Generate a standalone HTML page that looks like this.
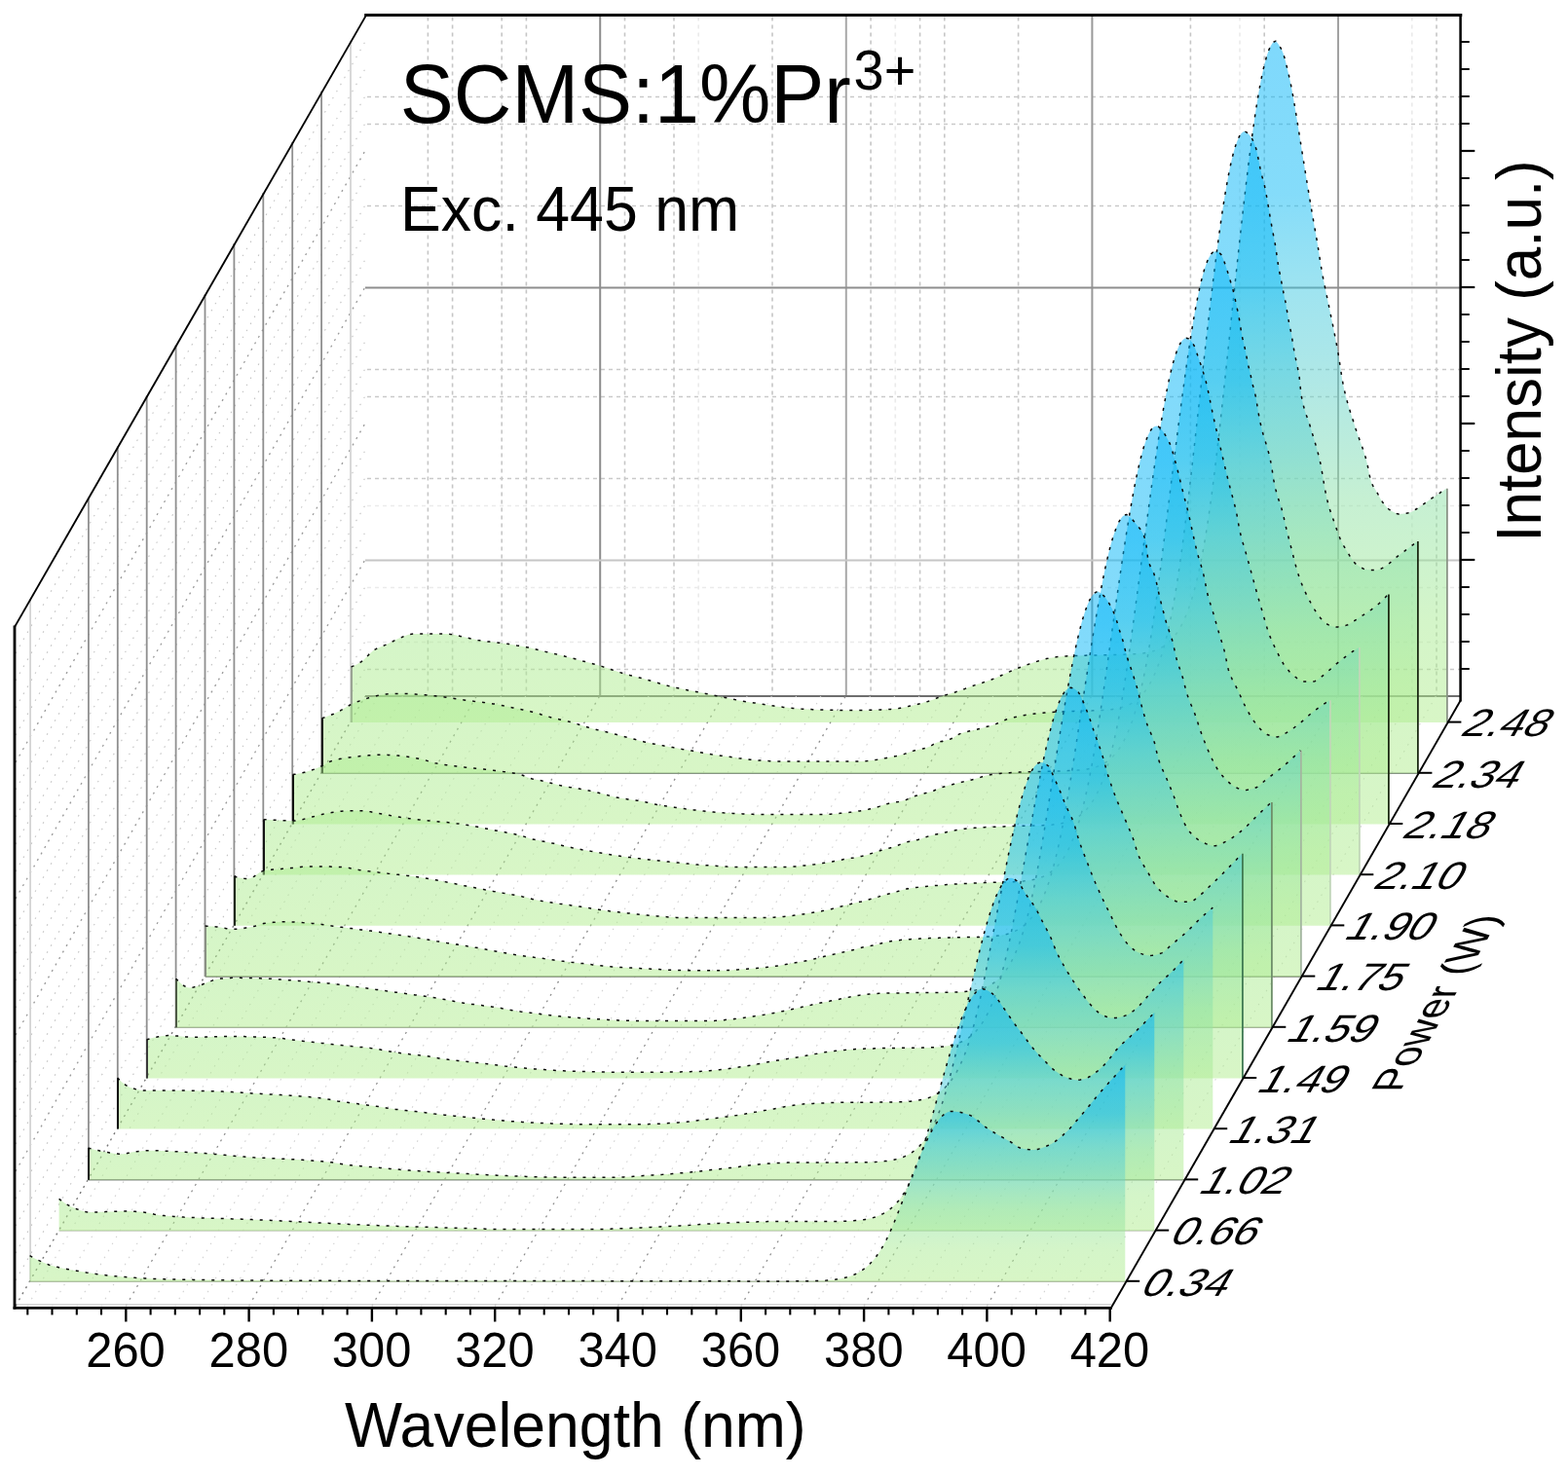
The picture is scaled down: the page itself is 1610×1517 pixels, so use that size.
<!DOCTYPE html>
<html lang="en"><head><meta charset="utf-8"><title>SCMS:1%Pr3+ power-dependent emission (Exc. 445 nm)</title>
<style>
html,body{margin:0;padding:0;background:#fff;}
body{width:1610px;height:1517px;overflow:hidden;}
svg{display:block;}
</style></head>
<body>
<svg width="1610" height="1517" viewBox="0 0 1610 1517">
<g id="backwall" fill="none">
<line x1="439.4" y1="17.5" x2="439.4" y2="715.0" stroke="#c6c6c6" stroke-width="1.6" stroke-dasharray="4 4"/>
<line x1="464.6" y1="17.5" x2="464.6" y2="715.0" stroke="#c6c6c6" stroke-width="1.6" stroke-dasharray="4 4"/>
<line x1="515.2" y1="17.5" x2="515.2" y2="715.0" stroke="#c6c6c6" stroke-width="1.6" stroke-dasharray="4 4"/>
<line x1="540.4" y1="17.5" x2="540.4" y2="715.0" stroke="#c6c6c6" stroke-width="1.6" stroke-dasharray="4 4"/>
<line x1="641.5" y1="17.5" x2="641.5" y2="715.0" stroke="#c6c6c6" stroke-width="1.6" stroke-dasharray="4 4"/>
<line x1="692.0" y1="17.5" x2="692.0" y2="715.0" stroke="#c6c6c6" stroke-width="1.6" stroke-dasharray="4 4"/>
<line x1="717.2" y1="17.5" x2="717.2" y2="715.0" stroke="#eaeaea" stroke-width="1.6" stroke-dasharray="4 4"/>
<line x1="793.0" y1="17.5" x2="793.0" y2="715.0" stroke="#c6c6c6" stroke-width="1.6" stroke-dasharray="4 4"/>
<line x1="894.1" y1="17.5" x2="894.1" y2="715.0" stroke="#c6c6c6" stroke-width="1.6" stroke-dasharray="4 4"/>
<line x1="919.3" y1="17.5" x2="919.3" y2="715.0" stroke="#eaeaea" stroke-width="1.6" stroke-dasharray="4 4"/>
<line x1="944.6" y1="17.5" x2="944.6" y2="715.0" stroke="#c6c6c6" stroke-width="1.6" stroke-dasharray="4 4"/>
<line x1="969.8" y1="17.5" x2="969.8" y2="715.0" stroke="#c6c6c6" stroke-width="1.6" stroke-dasharray="4 4"/>
<line x1="1045.6" y1="17.5" x2="1045.6" y2="715.0" stroke="#c6c6c6" stroke-width="1.6" stroke-dasharray="4 4"/>
<line x1="1222.4" y1="17.5" x2="1222.4" y2="715.0" stroke="#c6c6c6" stroke-width="1.6" stroke-dasharray="4 4"/>
<line x1="1273.0" y1="17.5" x2="1273.0" y2="715.0" stroke="#eaeaea" stroke-width="1.6" stroke-dasharray="4 4"/>
<line x1="1298.2" y1="17.5" x2="1298.2" y2="715.0" stroke="#c6c6c6" stroke-width="1.6" stroke-dasharray="4 4"/>
<line x1="1449.8" y1="17.5" x2="1449.8" y2="715.0" stroke="#eaeaea" stroke-width="1.6" stroke-dasharray="4 4"/>
<line x1="1475.0" y1="17.5" x2="1475.0" y2="715.0" stroke="#c6c6c6" stroke-width="1.6" stroke-dasharray="4 4"/>
<line x1="377.0" y1="99.5" x2="1499.0" y2="99.5" stroke="#c9c9c9" stroke-width="1.6" stroke-dasharray="4 4"/>
<line x1="377.0" y1="127.5" x2="1499.0" y2="127.5" stroke="#c9c9c9" stroke-width="1.6" stroke-dasharray="4 4"/>
<line x1="377.0" y1="211.5" x2="1499.0" y2="211.5" stroke="#c9c9c9" stroke-width="1.6" stroke-dasharray="4 4"/>
<line x1="377.0" y1="379.5" x2="1499.0" y2="379.5" stroke="#c9c9c9" stroke-width="1.6" stroke-dasharray="4 4"/>
<line x1="377.0" y1="407.5" x2="1499.0" y2="407.5" stroke="#c9c9c9" stroke-width="1.6" stroke-dasharray="4 4"/>
<line x1="377.0" y1="491.5" x2="1499.0" y2="491.5" stroke="#c9c9c9" stroke-width="1.6" stroke-dasharray="4 4"/>
<line x1="377.0" y1="519.5" x2="1499.0" y2="519.5" stroke="#ebebeb" stroke-width="1.6" stroke-dasharray="4 4"/>
<line x1="377.0" y1="603.5" x2="1499.0" y2="603.5" stroke="#ebebeb" stroke-width="1.6" stroke-dasharray="4 4"/>
<line x1="377.0" y1="659.5" x2="1499.0" y2="659.5" stroke="#ebebeb" stroke-width="1.6" stroke-dasharray="4 4"/>
<line x1="377.0" y1="687.5" x2="1499.0" y2="687.5" stroke="#c9c9c9" stroke-width="1.6" stroke-dasharray="4 4"/>
<line x1="616.2" y1="15.5" x2="616.2" y2="715.0" stroke="#8c8c8c" stroke-width="2" />
<line x1="868.8" y1="15.5" x2="868.8" y2="715.0" stroke="#a8a8a8" stroke-width="2" />
<line x1="1121.4" y1="15.5" x2="1121.4" y2="715.0" stroke="#999999" stroke-width="2" />
<line x1="1374.0" y1="15.5" x2="1374.0" y2="715.0" stroke="#a2a2a2" stroke-width="2" />
<line x1="375.0" y1="295.5" x2="1500.0" y2="295.5" stroke="#8e8e8e" stroke-width="2" />
<line x1="375.0" y1="575.5" x2="1500.0" y2="575.5" stroke="#c6c6c6" stroke-width="2" />
<line x1="375.0" y1="715.0" x2="1500.0" y2="715.0" stroke="#6e6e6e" stroke-width="2.2" />
</g>
<g id="leftwall" fill="none">
<line x1="16.0" y1="671.0" x2="375.0" y2="42.7" stroke="#c4c4c4" stroke-width="1.1" stroke-dasharray="1.6 6.5"/>
<line x1="16.0" y1="699.0" x2="375.0" y2="70.7" stroke="#c4c4c4" stroke-width="1.1" stroke-dasharray="1.6 6.5"/>
<line x1="16.0" y1="727.0" x2="375.0" y2="98.7" stroke="#c4c4c4" stroke-width="1.1" stroke-dasharray="1.6 6.5"/>
<line x1="16.0" y1="755.0" x2="375.0" y2="126.7" stroke="#c4c4c4" stroke-width="1.1" stroke-dasharray="1.6 6.5"/>
<line x1="16.0" y1="783.0" x2="375.0" y2="154.7" stroke="#9a9a9a" stroke-width="1.3" stroke-dasharray="2 5.5"/>
<line x1="16.0" y1="811.0" x2="375.0" y2="182.7" stroke="#c4c4c4" stroke-width="1.1" stroke-dasharray="1.6 6.5"/>
<line x1="16.0" y1="839.0" x2="375.0" y2="210.7" stroke="#c4c4c4" stroke-width="1.1" stroke-dasharray="1.6 6.5"/>
<line x1="16.0" y1="867.0" x2="375.0" y2="238.7" stroke="#c4c4c4" stroke-width="1.1" stroke-dasharray="1.6 6.5"/>
<line x1="16.0" y1="895.0" x2="375.0" y2="266.7" stroke="#c4c4c4" stroke-width="1.1" stroke-dasharray="1.6 6.5"/>
<line x1="16.0" y1="923.0" x2="375.0" y2="294.7" stroke="#9a9a9a" stroke-width="1.3" stroke-dasharray="2 5.5"/>
<line x1="16.0" y1="951.0" x2="375.0" y2="322.7" stroke="#c4c4c4" stroke-width="1.1" stroke-dasharray="1.6 6.5"/>
<line x1="16.0" y1="979.0" x2="375.0" y2="350.7" stroke="#c4c4c4" stroke-width="1.1" stroke-dasharray="1.6 6.5"/>
<line x1="16.0" y1="1007.0" x2="375.0" y2="378.7" stroke="#c4c4c4" stroke-width="1.1" stroke-dasharray="1.6 6.5"/>
<line x1="16.0" y1="1035.0" x2="375.0" y2="406.7" stroke="#c4c4c4" stroke-width="1.1" stroke-dasharray="1.6 6.5"/>
<line x1="16.0" y1="1063.0" x2="375.0" y2="434.7" stroke="#9a9a9a" stroke-width="1.3" stroke-dasharray="2 5.5"/>
<line x1="16.0" y1="1091.0" x2="375.0" y2="462.7" stroke="#c4c4c4" stroke-width="1.1" stroke-dasharray="1.6 6.5"/>
<line x1="16.0" y1="1119.0" x2="375.0" y2="490.7" stroke="#c4c4c4" stroke-width="1.1" stroke-dasharray="1.6 6.5"/>
<line x1="16.0" y1="1147.0" x2="375.0" y2="518.7" stroke="#c4c4c4" stroke-width="1.1" stroke-dasharray="1.6 6.5"/>
<line x1="16.0" y1="1175.0" x2="375.0" y2="546.7" stroke="#c4c4c4" stroke-width="1.1" stroke-dasharray="1.6 6.5"/>
<line x1="16.0" y1="1203.0" x2="375.0" y2="574.7" stroke="#9a9a9a" stroke-width="1.3" stroke-dasharray="2 5.5"/>
<line x1="16.0" y1="1231.0" x2="375.0" y2="602.7" stroke="#c4c4c4" stroke-width="1.1" stroke-dasharray="1.6 6.5"/>
<line x1="16.0" y1="1259.0" x2="375.0" y2="630.7" stroke="#c4c4c4" stroke-width="1.1" stroke-dasharray="1.6 6.5"/>
<line x1="16.0" y1="1287.0" x2="375.0" y2="658.7" stroke="#c4c4c4" stroke-width="1.1" stroke-dasharray="1.6 6.5"/>
<line x1="16.0" y1="1315.0" x2="375.0" y2="686.7" stroke="#c4c4c4" stroke-width="1.1" stroke-dasharray="1.6 6.5"/>
<line x1="31.1" y1="614.9" x2="31.1" y2="1316.2" stroke="#d4d4d4" stroke-width="1.8" />
<line x1="90.9" y1="510.7" x2="90.9" y2="1211.8" stroke="#8f8f8f" stroke-width="1.8" />
<line x1="120.8" y1="458.6" x2="120.8" y2="1159.6" stroke="#8f8f8f" stroke-width="1.8" />
<line x1="150.7" y1="406.5" x2="150.7" y2="1107.4" stroke="#8f8f8f" stroke-width="1.8" />
<line x1="180.6" y1="354.4" x2="180.6" y2="1055.2" stroke="#8f8f8f" stroke-width="1.8" />
<line x1="210.5" y1="302.2" x2="210.5" y2="1003.0" stroke="#8f8f8f" stroke-width="1.8" />
<line x1="240.4" y1="250.1" x2="240.4" y2="950.8" stroke="#8f8f8f" stroke-width="1.8" />
<line x1="270.3" y1="198.0" x2="270.3" y2="898.6" stroke="#8f8f8f" stroke-width="1.8" />
<line x1="300.2" y1="145.9" x2="300.2" y2="846.4" stroke="#8f8f8f" stroke-width="1.8" />
<line x1="330.1" y1="93.8" x2="330.1" y2="794.2" stroke="#8f8f8f" stroke-width="1.8" />
<line x1="360.0" y1="41.6" x2="360.0" y2="742.0" stroke="#d4d4d4" stroke-width="1.8" />
</g>
<g id="floor" fill="none">
<line x1="28.3" y1="1341.3" x2="388.3" y2="715.0" stroke="#d2d2d2" stroke-width="1.1" stroke-dasharray="1.6 6.5"/>
<line x1="53.5" y1="1341.3" x2="413.5" y2="715.0" stroke="#d2d2d2" stroke-width="1.1" stroke-dasharray="1.6 6.5"/>
<line x1="78.8" y1="1341.3" x2="438.8" y2="715.0" stroke="#d2d2d2" stroke-width="1.1" stroke-dasharray="1.6 6.5"/>
<line x1="104.0" y1="1341.3" x2="464.0" y2="715.0" stroke="#d2d2d2" stroke-width="1.1" stroke-dasharray="1.6 6.5"/>
<line x1="129.3" y1="1341.3" x2="489.3" y2="715.0" stroke="#8c8c8c" stroke-width="1.3" stroke-dasharray="2 5.5"/>
<line x1="154.6" y1="1341.3" x2="514.6" y2="715.0" stroke="#d2d2d2" stroke-width="1.1" stroke-dasharray="1.6 6.5"/>
<line x1="179.8" y1="1341.3" x2="539.8" y2="715.0" stroke="#d2d2d2" stroke-width="1.1" stroke-dasharray="1.6 6.5"/>
<line x1="205.1" y1="1341.3" x2="565.1" y2="715.0" stroke="#d2d2d2" stroke-width="1.1" stroke-dasharray="1.6 6.5"/>
<line x1="230.3" y1="1341.3" x2="590.3" y2="715.0" stroke="#d2d2d2" stroke-width="1.1" stroke-dasharray="1.6 6.5"/>
<line x1="255.6" y1="1341.3" x2="615.6" y2="715.0" stroke="#8c8c8c" stroke-width="1.3" stroke-dasharray="2 5.5"/>
<line x1="280.9" y1="1341.3" x2="640.9" y2="715.0" stroke="#d2d2d2" stroke-width="1.1" stroke-dasharray="1.6 6.5"/>
<line x1="306.1" y1="1341.3" x2="666.1" y2="715.0" stroke="#d2d2d2" stroke-width="1.1" stroke-dasharray="1.6 6.5"/>
<line x1="331.4" y1="1341.3" x2="691.4" y2="715.0" stroke="#d2d2d2" stroke-width="1.1" stroke-dasharray="1.6 6.5"/>
<line x1="356.6" y1="1341.3" x2="716.6" y2="715.0" stroke="#d2d2d2" stroke-width="1.1" stroke-dasharray="1.6 6.5"/>
<line x1="381.9" y1="1341.3" x2="741.9" y2="715.0" stroke="#8c8c8c" stroke-width="1.3" stroke-dasharray="2 5.5"/>
<line x1="407.2" y1="1341.3" x2="767.2" y2="715.0" stroke="#d2d2d2" stroke-width="1.1" stroke-dasharray="1.6 6.5"/>
<line x1="432.4" y1="1341.3" x2="792.4" y2="715.0" stroke="#d2d2d2" stroke-width="1.1" stroke-dasharray="1.6 6.5"/>
<line x1="457.7" y1="1341.3" x2="817.7" y2="715.0" stroke="#d2d2d2" stroke-width="1.1" stroke-dasharray="1.6 6.5"/>
<line x1="482.9" y1="1341.3" x2="842.9" y2="715.0" stroke="#d2d2d2" stroke-width="1.1" stroke-dasharray="1.6 6.5"/>
<line x1="508.2" y1="1341.3" x2="868.2" y2="715.0" stroke="#8c8c8c" stroke-width="1.3" stroke-dasharray="2 5.5"/>
<line x1="533.5" y1="1341.3" x2="893.5" y2="715.0" stroke="#d2d2d2" stroke-width="1.1" stroke-dasharray="1.6 6.5"/>
<line x1="558.7" y1="1341.3" x2="918.7" y2="715.0" stroke="#d2d2d2" stroke-width="1.1" stroke-dasharray="1.6 6.5"/>
<line x1="584.0" y1="1341.3" x2="944.0" y2="715.0" stroke="#d2d2d2" stroke-width="1.1" stroke-dasharray="1.6 6.5"/>
<line x1="609.2" y1="1341.3" x2="969.2" y2="715.0" stroke="#d2d2d2" stroke-width="1.1" stroke-dasharray="1.6 6.5"/>
<line x1="634.5" y1="1341.3" x2="994.5" y2="715.0" stroke="#8c8c8c" stroke-width="1.3" stroke-dasharray="2 5.5"/>
<line x1="659.8" y1="1341.3" x2="1019.8" y2="715.0" stroke="#d2d2d2" stroke-width="1.1" stroke-dasharray="1.6 6.5"/>
<line x1="685.0" y1="1341.3" x2="1045.0" y2="715.0" stroke="#d2d2d2" stroke-width="1.1" stroke-dasharray="1.6 6.5"/>
<line x1="710.3" y1="1341.3" x2="1070.3" y2="715.0" stroke="#d2d2d2" stroke-width="1.1" stroke-dasharray="1.6 6.5"/>
<line x1="735.5" y1="1341.3" x2="1095.5" y2="715.0" stroke="#d2d2d2" stroke-width="1.1" stroke-dasharray="1.6 6.5"/>
<line x1="760.8" y1="1341.3" x2="1120.8" y2="715.0" stroke="#8c8c8c" stroke-width="1.3" stroke-dasharray="2 5.5"/>
<line x1="786.1" y1="1341.3" x2="1146.1" y2="715.0" stroke="#d2d2d2" stroke-width="1.1" stroke-dasharray="1.6 6.5"/>
<line x1="811.3" y1="1341.3" x2="1171.3" y2="715.0" stroke="#d2d2d2" stroke-width="1.1" stroke-dasharray="1.6 6.5"/>
<line x1="836.6" y1="1341.3" x2="1196.6" y2="715.0" stroke="#d2d2d2" stroke-width="1.1" stroke-dasharray="1.6 6.5"/>
<line x1="861.8" y1="1341.3" x2="1221.8" y2="715.0" stroke="#d2d2d2" stroke-width="1.1" stroke-dasharray="1.6 6.5"/>
<line x1="887.1" y1="1341.3" x2="1247.1" y2="715.0" stroke="#8c8c8c" stroke-width="1.3" stroke-dasharray="2 5.5"/>
<line x1="912.4" y1="1341.3" x2="1272.4" y2="715.0" stroke="#d2d2d2" stroke-width="1.1" stroke-dasharray="1.6 6.5"/>
<line x1="937.6" y1="1341.3" x2="1297.6" y2="715.0" stroke="#d2d2d2" stroke-width="1.1" stroke-dasharray="1.6 6.5"/>
<line x1="962.9" y1="1341.3" x2="1322.9" y2="715.0" stroke="#d2d2d2" stroke-width="1.1" stroke-dasharray="1.6 6.5"/>
<line x1="988.1" y1="1341.3" x2="1348.1" y2="715.0" stroke="#d2d2d2" stroke-width="1.1" stroke-dasharray="1.6 6.5"/>
<line x1="1013.4" y1="1341.3" x2="1373.4" y2="715.0" stroke="#8c8c8c" stroke-width="1.3" stroke-dasharray="2 5.5"/>
<line x1="1038.7" y1="1341.3" x2="1398.7" y2="715.0" stroke="#d2d2d2" stroke-width="1.1" stroke-dasharray="1.6 6.5"/>
<line x1="1063.9" y1="1341.3" x2="1423.9" y2="715.0" stroke="#d2d2d2" stroke-width="1.1" stroke-dasharray="1.6 6.5"/>
<line x1="1089.2" y1="1341.3" x2="1449.2" y2="715.0" stroke="#d2d2d2" stroke-width="1.1" stroke-dasharray="1.6 6.5"/>
<line x1="1114.4" y1="1341.3" x2="1474.4" y2="715.0" stroke="#d2d2d2" stroke-width="1.1" stroke-dasharray="1.6 6.5"/>
<line x1="17.0" y1="1340.1" x2="1141.5" y2="1340.1" stroke="#d0d0d0" stroke-width="1.5" />
<line x1="16.0" y1="1341.3" x2="375.0" y2="715.0" stroke="#777" stroke-width="1.4" stroke-dasharray="2 5"/>
</g>
<defs>
<linearGradient id="g0" gradientUnits="userSpaceOnUse" x1="0" y1="1316.2" x2="0" y2="1093.7"><stop offset="0" stop-color="#b1ed8d"/><stop offset="0.15" stop-color="#a9eb93"/><stop offset="0.33" stop-color="#8de1a7"/><stop offset="0.5" stop-color="#61d1cd"/><stop offset="0.63" stop-color="#41c9e1"/><stop offset="0.775" stop-color="#0bb9f5"/><stop offset="1" stop-color="#00b3f9"/></linearGradient>
<linearGradient id="g1" gradientUnits="userSpaceOnUse" x1="0" y1="1264.0" x2="0" y2="1015.7"><stop offset="0" stop-color="#b1ed8d"/><stop offset="0.15" stop-color="#a9eb93"/><stop offset="0.33" stop-color="#8de1a7"/><stop offset="0.5" stop-color="#61d1cd"/><stop offset="0.63" stop-color="#41c9e1"/><stop offset="0.775" stop-color="#0bb9f5"/><stop offset="1" stop-color="#00b3f9"/></linearGradient>
<linearGradient id="g2" gradientUnits="userSpaceOnUse" x1="0" y1="1211.8" x2="0" y2="901.7"><stop offset="0" stop-color="#b1ed8d"/><stop offset="0.15" stop-color="#a9eb93"/><stop offset="0.33" stop-color="#8de1a7"/><stop offset="0.5" stop-color="#61d1cd"/><stop offset="0.63" stop-color="#41c9e1"/><stop offset="0.775" stop-color="#0bb9f5"/><stop offset="1" stop-color="#00b3f9"/></linearGradient>
<linearGradient id="g3" gradientUnits="userSpaceOnUse" x1="0" y1="1159.6" x2="0" y2="783.0"><stop offset="0" stop-color="#b1ed8d"/><stop offset="0.15" stop-color="#a9eb93"/><stop offset="0.33" stop-color="#8de1a7"/><stop offset="0.5" stop-color="#61d1cd"/><stop offset="0.63" stop-color="#41c9e1"/><stop offset="0.775" stop-color="#0bb9f5"/><stop offset="1" stop-color="#00b3f9"/></linearGradient>
<linearGradient id="g4" gradientUnits="userSpaceOnUse" x1="0" y1="1107.4" x2="0" y2="706.3"><stop offset="0" stop-color="#b1ed8d"/><stop offset="0.15" stop-color="#a9eb93"/><stop offset="0.33" stop-color="#8de1a7"/><stop offset="0.5" stop-color="#61d1cd"/><stop offset="0.63" stop-color="#41c9e1"/><stop offset="0.775" stop-color="#0bb9f5"/><stop offset="1" stop-color="#00b3f9"/></linearGradient>
<linearGradient id="g5" gradientUnits="userSpaceOnUse" x1="0" y1="1055.2" x2="0" y2="607.6"><stop offset="0" stop-color="#b1ed8d"/><stop offset="0.15" stop-color="#a9eb93"/><stop offset="0.33" stop-color="#8de1a7"/><stop offset="0.5" stop-color="#61d1cd"/><stop offset="0.63" stop-color="#41c9e1"/><stop offset="0.775" stop-color="#0bb9f5"/><stop offset="1" stop-color="#00b3f9"/></linearGradient>
<linearGradient id="g6" gradientUnits="userSpaceOnUse" x1="0" y1="1003.0" x2="0" y2="528.5"><stop offset="0" stop-color="#b1ed8d"/><stop offset="0.15" stop-color="#a9eb93"/><stop offset="0.33" stop-color="#8de1a7"/><stop offset="0.5" stop-color="#61d1cd"/><stop offset="0.63" stop-color="#41c9e1"/><stop offset="0.775" stop-color="#0bb9f5"/><stop offset="1" stop-color="#00b3f9"/></linearGradient>
<linearGradient id="g7" gradientUnits="userSpaceOnUse" x1="0" y1="950.8" x2="0" y2="437.6"><stop offset="0" stop-color="#b1ed8d"/><stop offset="0.15" stop-color="#a9eb93"/><stop offset="0.33" stop-color="#8de1a7"/><stop offset="0.5" stop-color="#61d1cd"/><stop offset="0.63" stop-color="#41c9e1"/><stop offset="0.775" stop-color="#0bb9f5"/><stop offset="1" stop-color="#00b3f9"/></linearGradient>
<linearGradient id="g8" gradientUnits="userSpaceOnUse" x1="0" y1="898.6" x2="0" y2="347.2"><stop offset="0" stop-color="#b1ed8d"/><stop offset="0.15" stop-color="#a9eb93"/><stop offset="0.33" stop-color="#8de1a7"/><stop offset="0.5" stop-color="#61d1cd"/><stop offset="0.63" stop-color="#41c9e1"/><stop offset="0.775" stop-color="#0bb9f5"/><stop offset="1" stop-color="#00b3f9"/></linearGradient>
<linearGradient id="g9" gradientUnits="userSpaceOnUse" x1="0" y1="846.4" x2="0" y2="258.2"><stop offset="0" stop-color="#b1ed8d"/><stop offset="0.15" stop-color="#a9eb93"/><stop offset="0.33" stop-color="#8de1a7"/><stop offset="0.5" stop-color="#61d1cd"/><stop offset="0.63" stop-color="#41c9e1"/><stop offset="0.775" stop-color="#0bb9f5"/><stop offset="1" stop-color="#00b3f9"/></linearGradient>
<linearGradient id="g10" gradientUnits="userSpaceOnUse" x1="0" y1="794.2" x2="0" y2="135.0"><stop offset="0" stop-color="#b1ed8d"/><stop offset="0.15" stop-color="#a9eb93"/><stop offset="0.33" stop-color="#8de1a7"/><stop offset="0.5" stop-color="#61d1cd"/><stop offset="0.63" stop-color="#41c9e1"/><stop offset="0.775" stop-color="#0bb9f5"/><stop offset="1" stop-color="#00b3f9"/></linearGradient>
<linearGradient id="g11" gradientUnits="userSpaceOnUse" x1="0" y1="742.0" x2="0" y2="42.2"><stop offset="0" stop-color="#b1ed8d"/><stop offset="0.15" stop-color="#a9eb93"/><stop offset="0.33" stop-color="#8de1a7"/><stop offset="0.5" stop-color="#61d1cd"/><stop offset="0.63" stop-color="#41c9e1"/><stop offset="0.775" stop-color="#0bb9f5"/><stop offset="1" stop-color="#00b3f9"/></linearGradient>
</defs>
<g id="curves">
<g id="c11">
<polygon points="360.6,742.0 360.6,684.8 362.6,684.1 364.6,683.2 366.6,682.2 368.6,681.1 370.6,679.9 372.6,678.4 374.6,676.6 376.6,674.5 378.6,672.4 380.6,670.4 382.6,668.7 384.6,667.3 386.6,666.3 388.6,665.4 390.6,664.5 392.6,663.7 394.6,662.9 396.6,662.1 398.6,661.1 400.6,660.1 402.6,659.1 404.6,658.1 406.6,657.1 408.6,656.1 410.6,655.3 412.6,654.5 414.6,653.6 416.6,652.8 418.6,652.1 420.6,651.5 422.6,651.2 424.6,651.1 426.6,651.1 428.6,651.1 430.6,651.1 432.6,651.1 434.6,651.1 436.6,651.1 438.6,651.1 440.6,651.1 442.6,651.1 444.6,651.1 446.6,651.1 448.6,651.1 450.6,651.1 452.6,651.1 454.6,651.1 456.6,651.1 458.6,651.1 460.6,651.2 462.6,651.4 464.6,651.7 466.6,652.1 468.6,652.5 470.6,653.0 472.6,653.4 474.6,653.9 476.6,654.3 478.6,654.7 480.6,655.2 482.6,655.7 484.6,656.2 486.6,656.6 488.6,657.1 490.6,657.5 492.6,657.8 494.6,658.1 496.6,658.4 498.6,658.7 500.6,658.9 502.6,659.1 504.6,659.3 506.6,659.5 508.6,659.8 510.6,660.0 512.6,660.2 514.6,660.4 516.6,660.7 518.6,661.0 520.6,661.2 522.6,661.5 524.6,661.9 526.6,662.2 528.6,662.5 530.6,662.9 532.6,663.2 534.6,663.6 536.6,663.9 538.6,664.3 540.6,664.7 542.6,665.1 544.6,665.6 546.6,666.0 548.6,666.5 550.6,667.0 552.6,667.5 554.6,668.0 556.6,668.4 558.6,668.9 560.6,669.4 562.6,669.8 564.6,670.3 566.6,670.8 568.6,671.3 570.6,671.8 572.6,672.2 574.6,672.7 576.6,673.2 578.6,673.7 580.6,674.3 582.6,674.8 584.6,675.3 586.6,675.8 588.6,676.3 590.6,676.8 592.6,677.4 594.6,677.9 596.6,678.4 598.6,679.0 600.6,679.5 602.6,680.0 604.6,680.6 606.6,681.1 608.6,681.7 610.6,682.3 612.6,682.8 614.6,683.4 616.6,684.0 618.6,684.6 620.6,685.3 622.6,686.0 624.6,686.6 626.6,687.3 628.6,688.0 630.6,688.7 632.6,689.3 634.6,690.0 636.6,690.6 638.6,691.2 640.6,691.8 642.6,692.4 644.6,692.9 646.6,693.5 648.6,694.0 650.6,694.5 652.6,695.0 654.6,695.6 656.6,696.1 658.6,696.6 660.6,697.1 662.6,697.7 664.6,698.2 666.6,698.8 668.6,699.4 670.6,700.0 672.6,700.6 674.6,701.2 676.6,701.8 678.6,702.4 680.6,702.9 682.6,703.5 684.6,704.0 686.6,704.6 688.6,705.0 690.6,705.5 692.6,706.0 694.6,706.4 696.6,706.8 698.6,707.3 700.6,707.7 702.6,708.1 704.6,708.5 706.6,708.9 708.6,709.3 710.6,709.6 712.6,710.0 714.6,710.4 716.6,710.8 718.6,711.2 720.6,711.6 722.6,712.0 724.6,712.4 726.6,712.8 728.6,713.2 730.6,713.6 732.6,714.0 734.6,714.4 736.6,714.8 738.6,715.2 740.6,715.6 742.6,716.0 744.6,716.4 746.6,716.8 748.6,717.3 750.6,717.7 752.6,718.1 754.6,718.6 756.6,719.0 758.6,719.4 760.6,719.8 762.6,720.2 764.6,720.5 766.6,720.8 768.6,721.1 770.6,721.4 772.6,721.7 774.6,722.0 776.6,722.2 778.6,722.5 780.6,722.8 782.6,723.2 784.6,723.5 786.6,723.8 788.6,724.2 790.6,724.5 792.6,724.8 794.6,725.1 796.6,725.4 798.6,725.7 800.6,725.9 802.6,726.1 804.6,726.4 806.6,726.6 808.6,726.8 810.6,727.0 812.6,727.2 814.6,727.4 816.6,727.6 818.6,727.8 820.6,727.9 822.6,728.1 824.6,728.2 826.6,728.3 828.6,728.4 830.6,728.5 832.6,728.6 834.6,728.7 836.6,728.7 838.6,728.8 840.6,728.9 842.6,729.0 844.6,729.0 846.6,729.1 848.6,729.2 850.6,729.2 852.6,729.3 854.6,729.3 856.6,729.4 858.6,729.4 860.6,729.5 862.6,729.5 864.6,729.5 866.6,729.6 868.6,729.6 870.6,729.6 872.6,729.6 874.6,729.6 876.6,729.6 878.6,729.6 880.6,729.6 882.6,729.5 884.6,729.5 886.6,729.5 888.6,729.4 890.6,729.4 892.6,729.3 894.6,729.3 896.6,729.2 898.6,729.1 900.6,729.1 902.6,729.0 904.6,728.9 906.6,728.8 908.6,728.7 910.6,728.6 912.6,728.5 914.6,728.4 916.6,728.2 918.6,728.1 920.6,727.9 922.6,727.6 924.6,727.2 926.6,726.8 928.6,726.4 930.6,725.9 932.6,725.5 934.6,725.1 936.6,724.7 938.6,724.2 940.6,723.7 942.6,723.2 944.6,722.7 946.6,722.2 948.6,721.6 950.6,721.1 952.6,720.5 954.6,719.8 956.6,719.1 958.6,718.4 960.6,717.5 962.6,716.7 964.6,716.0 966.6,715.3 968.6,714.6 970.6,714.0 972.6,713.4 974.6,712.8 976.6,712.2 978.6,711.6 980.6,711.0 982.6,710.3 984.6,709.6 986.6,708.9 988.6,708.2 990.6,707.5 992.6,706.7 994.6,706.0 996.6,705.3 998.6,704.6 1000.6,703.9 1002.6,703.2 1004.6,702.5 1006.6,701.9 1008.6,701.3 1010.6,700.6 1012.6,700.0 1014.6,699.3 1016.6,698.6 1018.6,697.8 1020.6,697.0 1022.6,696.2 1024.6,695.3 1026.6,694.4 1028.6,693.5 1030.6,692.6 1032.6,691.7 1034.6,690.8 1036.6,689.9 1038.6,689.0 1040.6,688.1 1042.6,687.3 1044.6,686.5 1046.6,685.7 1048.6,685.0 1050.6,684.2 1052.6,683.5 1054.6,682.8 1056.6,682.1 1058.6,681.4 1060.6,680.7 1062.6,680.0 1064.6,679.4 1066.6,678.8 1068.6,678.2 1070.6,677.6 1072.6,677.1 1074.6,676.6 1076.6,676.1 1078.6,675.8 1080.6,675.4 1082.6,675.1 1084.6,674.8 1086.6,674.6 1088.6,674.4 1090.6,674.2 1092.6,674.1 1094.6,673.9 1096.6,673.8 1098.6,673.7 1100.6,673.7 1102.6,673.6 1104.6,673.5 1106.6,673.4 1108.6,673.4 1110.6,673.3 1112.6,673.2 1114.6,673.2 1116.6,673.1 1118.6,673.1 1120.6,673.0 1122.6,673.0 1124.6,672.9 1126.6,672.9 1128.6,672.9 1130.6,672.8 1132.6,672.8 1134.6,672.7 1136.6,672.7 1138.6,672.6 1140.6,672.6 1142.6,672.5 1144.6,672.5 1146.6,672.4 1148.6,672.4 1150.6,672.3 1152.6,672.3 1154.6,672.2 1156.6,672.1 1158.6,672.1 1160.6,672.0 1162.6,671.9 1164.6,671.8 1166.6,671.6 1168.6,671.5 1170.6,671.3 1172.6,671.0 1174.6,670.8 1176.6,670.4 1178.6,670.1 1180.6,669.6 1182.6,669.1 1184.6,668.6 1186.6,667.9 1188.6,667.1 1190.6,666.2 1192.6,665.2 1194.6,664.0 1196.6,662.6 1198.6,661.1 1200.6,659.3 1202.6,657.4 1204.6,655.1 1206.6,652.6 1208.6,649.8 1210.6,646.6 1212.6,643.1 1214.6,639.2 1216.6,634.8 1218.6,630.0 1220.6,624.6 1222.6,618.7 1224.6,612.2 1226.6,605.1 1228.6,597.2 1230.6,588.7 1232.6,579.3 1234.6,569.2 1236.6,558.1 1238.6,546.1 1240.6,533.2 1242.6,519.3 1244.6,504.5 1246.6,488.8 1248.6,472.4 1250.6,455.2 1252.6,437.4 1254.6,419.2 1256.6,400.6 1258.6,381.8 1260.6,362.8 1262.6,343.8 1264.6,324.8 1266.6,305.8 1268.6,286.9 1270.6,268.2 1272.6,249.7 1274.6,231.5 1276.6,213.7 1278.6,196.3 1280.6,179.5 1282.6,163.2 1284.6,147.7 1286.6,132.9 1288.6,119.0 1290.6,106.0 1292.6,94.1 1294.6,83.2 1296.6,73.5 1298.6,65.0 1300.6,57.8 1302.6,51.9 1304.6,47.4 1306.6,44.3 1308.6,42.6 1310.0,42.2 1312.0,44.5 1314.0,47.5 1316.0,51.1 1318.0,56.0 1320.0,63.1 1322.0,71.4 1324.0,80.1 1326.0,89.5 1328.0,100.7 1330.0,112.4 1332.0,124.7 1334.0,137.3 1336.0,150.0 1338.0,162.4 1340.0,174.9 1342.0,187.2 1344.0,199.4 1346.0,211.4 1348.0,223.2 1350.0,234.5 1352.0,245.8 1354.0,258.0 1356.0,271.0 1358.0,282.7 1360.0,292.8 1362.0,302.4 1364.0,312.0 1366.0,321.6 1368.0,331.3 1370.0,341.4 1372.0,351.8 1374.0,362.8 1376.0,375.5 1378.0,388.9 1380.0,399.3 1382.0,407.6 1384.0,414.9 1386.0,421.5 1388.0,427.8 1390.0,433.9 1392.0,440.3 1394.0,446.2 1396.0,451.7 1398.0,457.2 1400.0,462.9 1402.0,469.3 1404.0,476.7 1406.0,487.4 1408.0,495.4 1410.0,499.5 1412.0,502.6 1414.0,505.9 1416.0,509.7 1418.0,513.3 1420.0,516.3 1422.0,518.8 1424.0,521.1 1426.0,523.0 1428.0,524.4 1430.0,525.5 1432.0,526.5 1434.0,527.4 1436.0,527.9 1438.0,527.9 1440.0,527.8 1442.0,527.5 1444.0,527.2 1446.0,526.8 1448.0,526.3 1450.0,525.4 1452.0,524.3 1454.0,523.0 1456.0,521.7 1458.0,520.4 1460.0,519.1 1462.0,517.6 1464.0,516.2 1466.0,514.7 1468.0,513.3 1470.0,511.9 1472.0,510.6 1474.0,509.2 1476.0,507.9 1478.0,506.6 1480.0,505.2 1482.0,503.9 1484.0,502.6 1485.3,501.8 1485.3,742.0" fill="url(#g11)" fill-opacity="0.5" stroke="none"/>
<line x1="361.0" y1="684.8" x2="361.0" y2="742.0" stroke="#9aa394" stroke-width="2" />
<line x1="1485.9" y1="501.8" x2="1485.9" y2="742.0" stroke="#8a9486" stroke-width="1.8" />
<polyline points="360.6,684.8 362.6,684.1 364.6,683.2 366.6,682.2 368.6,681.1 370.6,679.9 372.6,678.4 374.6,676.6 376.6,674.5 378.6,672.4 380.6,670.4 382.6,668.7 384.6,667.3 386.6,666.3 388.6,665.4 390.6,664.5 392.6,663.7 394.6,662.9 396.6,662.1 398.6,661.1 400.6,660.1 402.6,659.1 404.6,658.1 406.6,657.1 408.6,656.1 410.6,655.3 412.6,654.5 414.6,653.6 416.6,652.8 418.6,652.1 420.6,651.5 422.6,651.2 424.6,651.1 426.6,651.1 428.6,651.1 430.6,651.1 432.6,651.1 434.6,651.1 436.6,651.1 438.6,651.1 440.6,651.1 442.6,651.1 444.6,651.1 446.6,651.1 448.6,651.1 450.6,651.1 452.6,651.1 454.6,651.1 456.6,651.1 458.6,651.1 460.6,651.2 462.6,651.4 464.6,651.7 466.6,652.1 468.6,652.5 470.6,653.0 472.6,653.4 474.6,653.9 476.6,654.3 478.6,654.7 480.6,655.2 482.6,655.7 484.6,656.2 486.6,656.6 488.6,657.1 490.6,657.5 492.6,657.8 494.6,658.1 496.6,658.4 498.6,658.7 500.6,658.9 502.6,659.1 504.6,659.3 506.6,659.5 508.6,659.8 510.6,660.0 512.6,660.2 514.6,660.4 516.6,660.7 518.6,661.0 520.6,661.2 522.6,661.5 524.6,661.9 526.6,662.2 528.6,662.5 530.6,662.9 532.6,663.2 534.6,663.6 536.6,663.9 538.6,664.3 540.6,664.7 542.6,665.1 544.6,665.6 546.6,666.0 548.6,666.5 550.6,667.0 552.6,667.5 554.6,668.0 556.6,668.4 558.6,668.9 560.6,669.4 562.6,669.8 564.6,670.3 566.6,670.8 568.6,671.3 570.6,671.8 572.6,672.2 574.6,672.7 576.6,673.2 578.6,673.7 580.6,674.3 582.6,674.8 584.6,675.3 586.6,675.8 588.6,676.3 590.6,676.8 592.6,677.4 594.6,677.9 596.6,678.4 598.6,679.0 600.6,679.5 602.6,680.0 604.6,680.6 606.6,681.1 608.6,681.7 610.6,682.3 612.6,682.8 614.6,683.4 616.6,684.0 618.6,684.6 620.6,685.3 622.6,686.0 624.6,686.6 626.6,687.3 628.6,688.0 630.6,688.7 632.6,689.3 634.6,690.0 636.6,690.6 638.6,691.2 640.6,691.8 642.6,692.4 644.6,692.9 646.6,693.5 648.6,694.0 650.6,694.5 652.6,695.0 654.6,695.6 656.6,696.1 658.6,696.6 660.6,697.1 662.6,697.7 664.6,698.2 666.6,698.8 668.6,699.4 670.6,700.0 672.6,700.6 674.6,701.2 676.6,701.8 678.6,702.4 680.6,702.9 682.6,703.5 684.6,704.0 686.6,704.6 688.6,705.0 690.6,705.5 692.6,706.0 694.6,706.4 696.6,706.8 698.6,707.3 700.6,707.7 702.6,708.1 704.6,708.5 706.6,708.9 708.6,709.3 710.6,709.6 712.6,710.0 714.6,710.4 716.6,710.8 718.6,711.2 720.6,711.6 722.6,712.0 724.6,712.4 726.6,712.8 728.6,713.2 730.6,713.6 732.6,714.0 734.6,714.4 736.6,714.8 738.6,715.2 740.6,715.6 742.6,716.0 744.6,716.4 746.6,716.8 748.6,717.3 750.6,717.7 752.6,718.1 754.6,718.6 756.6,719.0 758.6,719.4 760.6,719.8 762.6,720.2 764.6,720.5 766.6,720.8 768.6,721.1 770.6,721.4 772.6,721.7 774.6,722.0 776.6,722.2 778.6,722.5 780.6,722.8 782.6,723.2 784.6,723.5 786.6,723.8 788.6,724.2 790.6,724.5 792.6,724.8 794.6,725.1 796.6,725.4 798.6,725.7 800.6,725.9 802.6,726.1 804.6,726.4 806.6,726.6 808.6,726.8 810.6,727.0 812.6,727.2 814.6,727.4 816.6,727.6 818.6,727.8 820.6,727.9 822.6,728.1 824.6,728.2 826.6,728.3 828.6,728.4 830.6,728.5 832.6,728.6 834.6,728.7 836.6,728.7 838.6,728.8 840.6,728.9 842.6,729.0 844.6,729.0 846.6,729.1 848.6,729.2 850.6,729.2 852.6,729.3 854.6,729.3 856.6,729.4 858.6,729.4 860.6,729.5 862.6,729.5 864.6,729.5 866.6,729.6 868.6,729.6 870.6,729.6 872.6,729.6 874.6,729.6 876.6,729.6 878.6,729.6 880.6,729.6 882.6,729.5 884.6,729.5 886.6,729.5 888.6,729.4 890.6,729.4 892.6,729.3 894.6,729.3 896.6,729.2 898.6,729.1 900.6,729.1 902.6,729.0 904.6,728.9 906.6,728.8 908.6,728.7 910.6,728.6 912.6,728.5 914.6,728.4 916.6,728.2 918.6,728.1 920.6,727.9 922.6,727.6 924.6,727.2 926.6,726.8 928.6,726.4 930.6,725.9 932.6,725.5 934.6,725.1 936.6,724.7 938.6,724.2 940.6,723.7 942.6,723.2 944.6,722.7 946.6,722.2 948.6,721.6 950.6,721.1 952.6,720.5 954.6,719.8 956.6,719.1 958.6,718.4 960.6,717.5 962.6,716.7 964.6,716.0 966.6,715.3 968.6,714.6 970.6,714.0 972.6,713.4 974.6,712.8 976.6,712.2 978.6,711.6 980.6,711.0 982.6,710.3 984.6,709.6 986.6,708.9 988.6,708.2 990.6,707.5 992.6,706.7 994.6,706.0 996.6,705.3 998.6,704.6 1000.6,703.9 1002.6,703.2 1004.6,702.5 1006.6,701.9 1008.6,701.3 1010.6,700.6 1012.6,700.0 1014.6,699.3 1016.6,698.6 1018.6,697.8 1020.6,697.0 1022.6,696.2 1024.6,695.3 1026.6,694.4 1028.6,693.5 1030.6,692.6 1032.6,691.7 1034.6,690.8 1036.6,689.9 1038.6,689.0 1040.6,688.1 1042.6,687.3 1044.6,686.5 1046.6,685.7 1048.6,685.0 1050.6,684.2 1052.6,683.5 1054.6,682.8 1056.6,682.1 1058.6,681.4 1060.6,680.7 1062.6,680.0 1064.6,679.4 1066.6,678.8 1068.6,678.2 1070.6,677.6 1072.6,677.1 1074.6,676.6 1076.6,676.1 1078.6,675.8 1080.6,675.4 1082.6,675.1 1084.6,674.8 1086.6,674.6 1088.6,674.4 1090.6,674.2 1092.6,674.1 1094.6,673.9 1096.6,673.8 1098.6,673.7 1100.6,673.7 1102.6,673.6 1104.6,673.5 1106.6,673.4 1108.6,673.4 1110.6,673.3 1112.6,673.2 1114.6,673.2 1116.6,673.1 1118.6,673.1 1120.6,673.0 1122.6,673.0 1124.6,672.9 1126.6,672.9 1128.6,672.9 1130.6,672.8 1132.6,672.8 1134.6,672.7 1136.6,672.7 1138.6,672.6 1140.6,672.6 1142.6,672.5 1144.6,672.5 1146.6,672.4 1148.6,672.4 1150.6,672.3 1152.6,672.3 1154.6,672.2 1156.6,672.1 1158.6,672.1 1160.6,672.0 1162.6,671.9 1164.6,671.8 1166.6,671.6 1168.6,671.5 1170.6,671.3 1172.6,671.0 1174.6,670.8 1176.6,670.4 1178.6,670.1 1180.6,669.6 1182.6,669.1 1184.6,668.6 1186.6,667.9 1188.6,667.1 1190.6,666.2 1192.6,665.2 1194.6,664.0 1196.6,662.6 1198.6,661.1 1200.6,659.3 1202.6,657.4 1204.6,655.1 1206.6,652.6 1208.6,649.8 1210.6,646.6 1212.6,643.1 1214.6,639.2 1216.6,634.8 1218.6,630.0 1220.6,624.6 1222.6,618.7 1224.6,612.2 1226.6,605.1 1228.6,597.2 1230.6,588.7 1232.6,579.3 1234.6,569.2 1236.6,558.1 1238.6,546.1 1240.6,533.2 1242.6,519.3 1244.6,504.5 1246.6,488.8 1248.6,472.4 1250.6,455.2 1252.6,437.4 1254.6,419.2 1256.6,400.6 1258.6,381.8 1260.6,362.8 1262.6,343.8 1264.6,324.8 1266.6,305.8 1268.6,286.9 1270.6,268.2 1272.6,249.7 1274.6,231.5 1276.6,213.7 1278.6,196.3 1280.6,179.5 1282.6,163.2 1284.6,147.7 1286.6,132.9 1288.6,119.0 1290.6,106.0 1292.6,94.1 1294.6,83.2 1296.6,73.5 1298.6,65.0 1300.6,57.8 1302.6,51.9 1304.6,47.4 1306.6,44.3 1308.6,42.6 1310.0,42.2 1312.0,44.5 1314.0,47.5 1316.0,51.1 1318.0,56.0 1320.0,63.1 1322.0,71.4 1324.0,80.1 1326.0,89.5 1328.0,100.7 1330.0,112.4 1332.0,124.7 1334.0,137.3 1336.0,150.0 1338.0,162.4 1340.0,174.9 1342.0,187.2 1344.0,199.4 1346.0,211.4 1348.0,223.2 1350.0,234.5 1352.0,245.8 1354.0,258.0 1356.0,271.0 1358.0,282.7 1360.0,292.8 1362.0,302.4 1364.0,312.0 1366.0,321.6 1368.0,331.3 1370.0,341.4 1372.0,351.8 1374.0,362.8 1376.0,375.5 1378.0,388.9 1380.0,399.3 1382.0,407.6 1384.0,414.9 1386.0,421.5 1388.0,427.8 1390.0,433.9 1392.0,440.3 1394.0,446.2 1396.0,451.7 1398.0,457.2 1400.0,462.9 1402.0,469.3 1404.0,476.7 1406.0,487.4 1408.0,495.4 1410.0,499.5 1412.0,502.6 1414.0,505.9 1416.0,509.7 1418.0,513.3 1420.0,516.3 1422.0,518.8 1424.0,521.1 1426.0,523.0 1428.0,524.4 1430.0,525.5 1432.0,526.5 1434.0,527.4 1436.0,527.9 1438.0,527.9 1440.0,527.8 1442.0,527.5 1444.0,527.2 1446.0,526.8 1448.0,526.3 1450.0,525.4 1452.0,524.3 1454.0,523.0 1456.0,521.7 1458.0,520.4 1460.0,519.1 1462.0,517.6 1464.0,516.2 1466.0,514.7 1468.0,513.3 1470.0,511.9 1472.0,510.6 1474.0,509.2 1476.0,507.9 1478.0,506.6 1480.0,505.2 1482.0,503.9 1484.0,502.6 1485.3,501.8" fill="none" stroke="#0a0a0a" stroke-width="1.5" stroke-dasharray="3 7" stroke-linejoin="round"/>
</g>
<g id="c10">
<line x1="330.6" y1="794.2" x2="1456.3" y2="794.2" stroke="#808880" stroke-width="1.6" />
<polygon points="330.6,794.2 330.6,737.6 332.6,737.0 334.6,736.3 336.6,735.6 338.6,734.8 340.6,734.0 342.6,733.2 344.6,732.3 346.6,731.3 348.6,730.3 350.6,729.2 352.6,728.0 354.6,726.8 356.6,725.6 358.6,724.5 360.6,723.4 362.6,722.5 364.6,721.6 366.6,720.8 368.6,720.1 370.6,719.3 372.6,718.6 374.6,718.0 376.6,717.4 378.6,716.8 380.6,716.3 382.6,715.7 384.6,715.2 386.6,714.7 388.6,714.2 390.6,713.8 392.6,713.4 394.6,713.1 396.6,712.9 398.6,712.8 400.6,712.7 402.6,712.6 404.6,712.5 406.6,712.5 408.6,712.4 410.6,712.4 412.6,712.4 414.6,712.5 416.6,712.5 418.6,712.6 420.6,712.7 422.6,712.8 424.6,712.9 426.6,713.0 428.6,713.2 430.6,713.3 432.6,713.5 434.6,713.7 436.6,713.8 438.6,714.0 440.6,714.2 442.6,714.4 444.6,714.6 446.6,714.8 448.6,715.0 450.6,715.2 452.6,715.4 454.6,715.6 456.6,715.9 458.6,716.2 460.6,716.5 462.6,716.8 464.6,717.2 466.6,717.5 468.6,717.8 470.6,718.1 472.6,718.4 474.6,718.7 476.6,719.0 478.6,719.3 480.6,719.5 482.6,719.8 484.6,720.0 486.6,720.3 488.6,720.5 490.6,720.7 492.6,721.0 494.6,721.2 496.6,721.4 498.6,721.7 500.6,722.0 502.6,722.3 504.6,722.6 506.6,722.9 508.6,723.2 510.6,723.6 512.6,724.0 514.6,724.4 516.6,724.8 518.6,725.2 520.6,725.7 522.6,726.1 524.6,726.5 526.6,726.9 528.6,727.3 530.6,727.7 532.6,728.1 534.6,728.5 536.6,728.9 538.6,729.3 540.6,729.8 542.6,730.2 544.6,730.7 546.6,731.2 548.6,731.7 550.6,732.3 552.6,732.9 554.6,733.5 556.6,734.2 558.6,734.8 560.6,735.4 562.6,735.9 564.6,736.5 566.6,737.0 568.6,737.5 570.6,738.0 572.6,738.5 574.6,738.9 576.6,739.4 578.6,739.8 580.6,740.3 582.6,740.8 584.6,741.3 586.6,741.8 588.6,742.4 590.6,743.0 592.6,743.6 594.6,744.2 596.6,744.8 598.6,745.5 600.6,746.1 602.6,746.7 604.6,747.3 606.6,747.8 608.6,748.4 610.6,748.9 612.6,749.4 614.6,749.9 616.6,750.4 618.6,750.9 620.6,751.3 622.6,751.8 624.6,752.3 626.6,752.8 628.6,753.3 630.6,753.8 632.6,754.3 634.6,754.9 636.6,755.4 638.6,755.9 640.6,756.4 642.6,756.9 644.6,757.4 646.6,758.0 648.6,758.5 650.6,759.1 652.6,759.6 654.6,760.2 656.6,760.7 658.6,761.2 660.6,761.7 662.6,762.2 664.6,762.6 666.6,763.1 668.6,763.5 670.6,763.9 672.6,764.3 674.6,764.7 676.6,765.1 678.6,765.4 680.6,765.8 682.6,766.2 684.6,766.6 686.6,766.9 688.6,767.3 690.6,767.6 692.6,768.0 694.6,768.3 696.6,768.7 698.6,769.0 700.6,769.4 702.6,769.7 704.6,770.1 706.6,770.4 708.6,770.8 710.6,771.1 712.6,771.5 714.6,771.8 716.6,772.2 718.6,772.6 720.6,773.0 722.6,773.4 724.6,773.7 726.6,774.1 728.6,774.4 730.6,774.8 732.6,775.1 734.6,775.4 736.6,775.6 738.6,775.9 740.6,776.2 742.6,776.4 744.6,776.7 746.6,777.0 748.6,777.2 750.6,777.5 752.6,777.8 754.6,778.1 756.6,778.4 758.6,778.7 760.6,778.9 762.6,779.2 764.6,779.5 766.6,779.8 768.6,780.0 770.6,780.2 772.6,780.4 774.6,780.5 776.6,780.7 778.6,780.9 780.6,781.0 782.6,781.2 784.6,781.3 786.6,781.5 788.6,781.6 790.6,781.7 792.6,781.8 794.6,781.9 796.6,782.0 798.6,782.0 800.6,782.1 802.6,782.1 804.6,782.1 806.6,782.1 808.6,782.1 810.6,782.1 812.6,782.1 814.6,782.1 816.6,782.1 818.6,782.1 820.6,782.1 822.6,782.1 824.6,782.1 826.6,782.1 828.6,782.1 830.6,782.1 832.6,782.1 834.6,782.1 836.6,782.1 838.6,782.1 840.6,782.1 842.6,782.1 844.6,782.1 846.6,782.1 848.6,782.1 850.6,782.1 852.6,782.1 854.6,782.0 856.6,782.0 858.6,782.0 860.6,782.0 862.6,782.0 864.6,782.0 866.6,782.0 868.6,782.0 870.6,782.0 872.6,782.0 874.6,782.0 876.6,782.0 878.6,782.0 880.6,782.0 882.6,782.0 884.6,781.9 886.6,781.8 888.6,781.7 890.6,781.5 892.6,781.2 894.6,781.0 896.6,780.7 898.6,780.4 900.6,780.2 902.6,779.9 904.6,779.6 906.6,779.2 908.6,778.8 910.6,778.4 912.6,778.0 914.6,777.6 916.6,777.2 918.6,776.8 920.6,776.4 922.6,775.9 924.6,775.4 926.6,774.9 928.6,774.4 930.6,773.7 932.6,773.0 934.6,772.2 936.6,771.5 938.6,771.0 940.6,770.5 942.6,770.0 944.6,769.6 946.6,769.2 948.6,768.7 950.6,768.2 952.6,767.6 954.6,766.8 956.6,765.6 958.6,764.4 960.6,763.3 962.6,762.6 964.6,762.0 966.6,761.5 968.6,761.1 970.6,760.6 972.6,760.1 974.6,759.5 976.6,758.8 978.6,757.9 980.6,756.5 982.6,755.2 984.6,754.1 986.6,753.3 988.6,752.7 990.6,752.1 992.6,751.6 994.6,751.1 996.6,750.7 998.6,750.2 1000.6,749.8 1002.6,749.3 1004.6,748.8 1006.6,748.3 1008.6,747.7 1010.6,747.2 1012.6,746.6 1014.6,746.1 1016.6,745.5 1018.6,744.9 1020.6,744.2 1022.6,743.6 1024.6,742.8 1026.6,741.9 1028.6,741.0 1030.6,740.0 1032.6,739.2 1034.6,738.5 1036.6,737.9 1038.6,737.4 1040.6,736.9 1042.6,736.4 1044.6,736.0 1046.6,735.5 1048.6,735.1 1050.6,734.7 1052.6,734.4 1054.6,734.1 1056.6,733.8 1058.6,733.5 1060.6,733.3 1062.6,733.0 1064.6,732.8 1066.6,732.6 1068.6,732.4 1070.6,732.2 1072.6,732.0 1074.6,731.8 1076.6,731.7 1078.6,731.6 1080.6,731.4 1082.6,731.3 1084.6,731.2 1086.6,731.1 1088.6,731.0 1090.6,730.9 1092.6,730.8 1094.6,730.7 1096.6,730.6 1098.6,730.5 1100.6,730.4 1102.6,730.4 1104.6,730.3 1106.6,730.3 1108.6,730.2 1110.6,730.2 1112.6,730.1 1114.6,730.0 1116.6,730.0 1118.6,729.9 1120.6,729.9 1122.6,729.8 1124.6,729.7 1126.6,729.6 1128.6,729.6 1130.6,729.5 1132.6,729.4 1134.6,729.2 1136.6,729.1 1138.6,728.9 1140.6,728.7 1142.6,728.4 1144.6,728.1 1146.6,727.8 1148.6,727.4 1150.6,726.9 1152.6,726.3 1154.6,725.7 1156.6,725.0 1158.6,724.1 1160.6,723.1 1162.6,722.0 1164.6,720.7 1166.6,719.3 1168.6,717.6 1170.6,715.8 1172.6,713.7 1174.6,711.3 1176.6,708.6 1178.6,705.6 1180.6,702.3 1182.6,698.6 1184.6,694.5 1186.6,689.9 1188.6,684.8 1190.6,679.3 1192.6,673.1 1194.6,666.4 1196.6,659.0 1198.6,650.9 1200.6,642.1 1202.6,632.5 1204.6,622.0 1206.6,610.7 1208.6,598.5 1210.6,585.4 1212.6,571.5 1214.6,556.7 1216.6,541.1 1218.6,524.9 1220.6,508.1 1222.6,490.9 1224.6,473.4 1226.6,455.6 1228.6,437.7 1230.6,419.7 1232.6,401.8 1234.6,383.8 1236.6,366.0 1238.6,348.3 1240.6,330.9 1242.6,313.7 1244.6,296.9 1246.6,280.5 1248.6,264.6 1250.6,249.3 1252.6,234.6 1254.6,220.6 1256.6,207.5 1258.6,195.3 1260.6,184.0 1262.6,173.7 1264.6,164.5 1266.6,156.5 1268.6,149.7 1270.6,144.2 1272.6,139.9 1274.6,136.9 1276.6,135.3 1278.0,135.0 1280.0,135.9 1282.0,137.8 1284.0,140.2 1286.0,143.2 1288.0,147.7 1290.0,153.6 1292.0,163.0 1294.0,172.9 1296.0,181.5 1298.0,188.7 1300.0,198.6 1302.0,210.1 1304.0,222.1 1306.0,233.4 1308.0,244.0 1310.0,254.7 1312.0,269.5 1314.0,280.3 1316.0,290.7 1318.0,301.2 1320.0,310.4 1322.0,322.5 1324.0,334.1 1326.0,342.7 1328.0,356.0 1330.0,366.5 1332.0,375.5 1334.0,385.8 1336.0,405.6 1338.0,415.3 1340.0,422.5 1342.0,428.3 1344.0,433.8 1346.0,440.2 1348.0,447.0 1350.0,453.7 1352.0,460.5 1354.0,468.0 1356.0,476.5 1358.0,487.9 1360.0,500.2 1362.0,510.2 1364.0,518.6 1366.0,525.1 1368.0,530.8 1370.0,536.4 1372.0,542.3 1374.0,548.1 1376.0,553.2 1378.0,557.4 1380.0,561.1 1382.0,564.5 1384.0,567.8 1386.0,571.1 1388.0,574.3 1390.0,577.1 1392.0,579.1 1394.0,580.6 1396.0,582.0 1398.0,583.2 1400.0,584.1 1402.0,584.8 1404.0,585.1 1406.0,585.3 1408.0,585.4 1410.0,585.5 1412.0,585.5 1414.0,585.5 1416.0,585.1 1418.0,584.2 1420.0,583.1 1422.0,581.8 1424.0,580.5 1426.0,579.1 1428.0,577.4 1430.0,575.6 1432.0,573.8 1434.0,572.2 1436.0,570.6 1438.0,569.1 1440.0,567.6 1442.0,566.2 1444.0,564.7 1446.0,563.2 1448.0,561.7 1450.0,560.1 1452.0,558.6 1454.0,557.1 1455.3,556.1 1455.3,794.2" fill="url(#g10)" fill-opacity="0.5" stroke="none"/>
<line x1="331.0" y1="737.6" x2="331.0" y2="794.2" stroke="#0c0c0c" stroke-width="2" />
<line x1="1455.9" y1="556.1" x2="1455.9" y2="794.2" stroke="#1c2a14" stroke-width="1.8" />
<polyline points="330.6,737.6 332.6,737.0 334.6,736.3 336.6,735.6 338.6,734.8 340.6,734.0 342.6,733.2 344.6,732.3 346.6,731.3 348.6,730.3 350.6,729.2 352.6,728.0 354.6,726.8 356.6,725.6 358.6,724.5 360.6,723.4 362.6,722.5 364.6,721.6 366.6,720.8 368.6,720.1 370.6,719.3 372.6,718.6 374.6,718.0 376.6,717.4 378.6,716.8 380.6,716.3 382.6,715.7 384.6,715.2 386.6,714.7 388.6,714.2 390.6,713.8 392.6,713.4 394.6,713.1 396.6,712.9 398.6,712.8 400.6,712.7 402.6,712.6 404.6,712.5 406.6,712.5 408.6,712.4 410.6,712.4 412.6,712.4 414.6,712.5 416.6,712.5 418.6,712.6 420.6,712.7 422.6,712.8 424.6,712.9 426.6,713.0 428.6,713.2 430.6,713.3 432.6,713.5 434.6,713.7 436.6,713.8 438.6,714.0 440.6,714.2 442.6,714.4 444.6,714.6 446.6,714.8 448.6,715.0 450.6,715.2 452.6,715.4 454.6,715.6 456.6,715.9 458.6,716.2 460.6,716.5 462.6,716.8 464.6,717.2 466.6,717.5 468.6,717.8 470.6,718.1 472.6,718.4 474.6,718.7 476.6,719.0 478.6,719.3 480.6,719.5 482.6,719.8 484.6,720.0 486.6,720.3 488.6,720.5 490.6,720.7 492.6,721.0 494.6,721.2 496.6,721.4 498.6,721.7 500.6,722.0 502.6,722.3 504.6,722.6 506.6,722.9 508.6,723.2 510.6,723.6 512.6,724.0 514.6,724.4 516.6,724.8 518.6,725.2 520.6,725.7 522.6,726.1 524.6,726.5 526.6,726.9 528.6,727.3 530.6,727.7 532.6,728.1 534.6,728.5 536.6,728.9 538.6,729.3 540.6,729.8 542.6,730.2 544.6,730.7 546.6,731.2 548.6,731.7 550.6,732.3 552.6,732.9 554.6,733.5 556.6,734.2 558.6,734.8 560.6,735.4 562.6,735.9 564.6,736.5 566.6,737.0 568.6,737.5 570.6,738.0 572.6,738.5 574.6,738.9 576.6,739.4 578.6,739.8 580.6,740.3 582.6,740.8 584.6,741.3 586.6,741.8 588.6,742.4 590.6,743.0 592.6,743.6 594.6,744.2 596.6,744.8 598.6,745.5 600.6,746.1 602.6,746.7 604.6,747.3 606.6,747.8 608.6,748.4 610.6,748.9 612.6,749.4 614.6,749.9 616.6,750.4 618.6,750.9 620.6,751.3 622.6,751.8 624.6,752.3 626.6,752.8 628.6,753.3 630.6,753.8 632.6,754.3 634.6,754.9 636.6,755.4 638.6,755.9 640.6,756.4 642.6,756.9 644.6,757.4 646.6,758.0 648.6,758.5 650.6,759.1 652.6,759.6 654.6,760.2 656.6,760.7 658.6,761.2 660.6,761.7 662.6,762.2 664.6,762.6 666.6,763.1 668.6,763.5 670.6,763.9 672.6,764.3 674.6,764.7 676.6,765.1 678.6,765.4 680.6,765.8 682.6,766.2 684.6,766.6 686.6,766.9 688.6,767.3 690.6,767.6 692.6,768.0 694.6,768.3 696.6,768.7 698.6,769.0 700.6,769.4 702.6,769.7 704.6,770.1 706.6,770.4 708.6,770.8 710.6,771.1 712.6,771.5 714.6,771.8 716.6,772.2 718.6,772.6 720.6,773.0 722.6,773.4 724.6,773.7 726.6,774.1 728.6,774.4 730.6,774.8 732.6,775.1 734.6,775.4 736.6,775.6 738.6,775.9 740.6,776.2 742.6,776.4 744.6,776.7 746.6,777.0 748.6,777.2 750.6,777.5 752.6,777.8 754.6,778.1 756.6,778.4 758.6,778.7 760.6,778.9 762.6,779.2 764.6,779.5 766.6,779.8 768.6,780.0 770.6,780.2 772.6,780.4 774.6,780.5 776.6,780.7 778.6,780.9 780.6,781.0 782.6,781.2 784.6,781.3 786.6,781.5 788.6,781.6 790.6,781.7 792.6,781.8 794.6,781.9 796.6,782.0 798.6,782.0 800.6,782.1 802.6,782.1 804.6,782.1 806.6,782.1 808.6,782.1 810.6,782.1 812.6,782.1 814.6,782.1 816.6,782.1 818.6,782.1 820.6,782.1 822.6,782.1 824.6,782.1 826.6,782.1 828.6,782.1 830.6,782.1 832.6,782.1 834.6,782.1 836.6,782.1 838.6,782.1 840.6,782.1 842.6,782.1 844.6,782.1 846.6,782.1 848.6,782.1 850.6,782.1 852.6,782.1 854.6,782.0 856.6,782.0 858.6,782.0 860.6,782.0 862.6,782.0 864.6,782.0 866.6,782.0 868.6,782.0 870.6,782.0 872.6,782.0 874.6,782.0 876.6,782.0 878.6,782.0 880.6,782.0 882.6,782.0 884.6,781.9 886.6,781.8 888.6,781.7 890.6,781.5 892.6,781.2 894.6,781.0 896.6,780.7 898.6,780.4 900.6,780.2 902.6,779.9 904.6,779.6 906.6,779.2 908.6,778.8 910.6,778.4 912.6,778.0 914.6,777.6 916.6,777.2 918.6,776.8 920.6,776.4 922.6,775.9 924.6,775.4 926.6,774.9 928.6,774.4 930.6,773.7 932.6,773.0 934.6,772.2 936.6,771.5 938.6,771.0 940.6,770.5 942.6,770.0 944.6,769.6 946.6,769.2 948.6,768.7 950.6,768.2 952.6,767.6 954.6,766.8 956.6,765.6 958.6,764.4 960.6,763.3 962.6,762.6 964.6,762.0 966.6,761.5 968.6,761.1 970.6,760.6 972.6,760.1 974.6,759.5 976.6,758.8 978.6,757.9 980.6,756.5 982.6,755.2 984.6,754.1 986.6,753.3 988.6,752.7 990.6,752.1 992.6,751.6 994.6,751.1 996.6,750.7 998.6,750.2 1000.6,749.8 1002.6,749.3 1004.6,748.8 1006.6,748.3 1008.6,747.7 1010.6,747.2 1012.6,746.6 1014.6,746.1 1016.6,745.5 1018.6,744.9 1020.6,744.2 1022.6,743.6 1024.6,742.8 1026.6,741.9 1028.6,741.0 1030.6,740.0 1032.6,739.2 1034.6,738.5 1036.6,737.9 1038.6,737.4 1040.6,736.9 1042.6,736.4 1044.6,736.0 1046.6,735.5 1048.6,735.1 1050.6,734.7 1052.6,734.4 1054.6,734.1 1056.6,733.8 1058.6,733.5 1060.6,733.3 1062.6,733.0 1064.6,732.8 1066.6,732.6 1068.6,732.4 1070.6,732.2 1072.6,732.0 1074.6,731.8 1076.6,731.7 1078.6,731.6 1080.6,731.4 1082.6,731.3 1084.6,731.2 1086.6,731.1 1088.6,731.0 1090.6,730.9 1092.6,730.8 1094.6,730.7 1096.6,730.6 1098.6,730.5 1100.6,730.4 1102.6,730.4 1104.6,730.3 1106.6,730.3 1108.6,730.2 1110.6,730.2 1112.6,730.1 1114.6,730.0 1116.6,730.0 1118.6,729.9 1120.6,729.9 1122.6,729.8 1124.6,729.7 1126.6,729.6 1128.6,729.6 1130.6,729.5 1132.6,729.4 1134.6,729.2 1136.6,729.1 1138.6,728.9 1140.6,728.7 1142.6,728.4 1144.6,728.1 1146.6,727.8 1148.6,727.4 1150.6,726.9 1152.6,726.3 1154.6,725.7 1156.6,725.0 1158.6,724.1 1160.6,723.1 1162.6,722.0 1164.6,720.7 1166.6,719.3 1168.6,717.6 1170.6,715.8 1172.6,713.7 1174.6,711.3 1176.6,708.6 1178.6,705.6 1180.6,702.3 1182.6,698.6 1184.6,694.5 1186.6,689.9 1188.6,684.8 1190.6,679.3 1192.6,673.1 1194.6,666.4 1196.6,659.0 1198.6,650.9 1200.6,642.1 1202.6,632.5 1204.6,622.0 1206.6,610.7 1208.6,598.5 1210.6,585.4 1212.6,571.5 1214.6,556.7 1216.6,541.1 1218.6,524.9 1220.6,508.1 1222.6,490.9 1224.6,473.4 1226.6,455.6 1228.6,437.7 1230.6,419.7 1232.6,401.8 1234.6,383.8 1236.6,366.0 1238.6,348.3 1240.6,330.9 1242.6,313.7 1244.6,296.9 1246.6,280.5 1248.6,264.6 1250.6,249.3 1252.6,234.6 1254.6,220.6 1256.6,207.5 1258.6,195.3 1260.6,184.0 1262.6,173.7 1264.6,164.5 1266.6,156.5 1268.6,149.7 1270.6,144.2 1272.6,139.9 1274.6,136.9 1276.6,135.3 1278.0,135.0 1280.0,135.9 1282.0,137.8 1284.0,140.2 1286.0,143.2 1288.0,147.7 1290.0,153.6 1292.0,163.0 1294.0,172.9 1296.0,181.5 1298.0,188.7 1300.0,198.6 1302.0,210.1 1304.0,222.1 1306.0,233.4 1308.0,244.0 1310.0,254.7 1312.0,269.5 1314.0,280.3 1316.0,290.7 1318.0,301.2 1320.0,310.4 1322.0,322.5 1324.0,334.1 1326.0,342.7 1328.0,356.0 1330.0,366.5 1332.0,375.5 1334.0,385.8 1336.0,405.6 1338.0,415.3 1340.0,422.5 1342.0,428.3 1344.0,433.8 1346.0,440.2 1348.0,447.0 1350.0,453.7 1352.0,460.5 1354.0,468.0 1356.0,476.5 1358.0,487.9 1360.0,500.2 1362.0,510.2 1364.0,518.6 1366.0,525.1 1368.0,530.8 1370.0,536.4 1372.0,542.3 1374.0,548.1 1376.0,553.2 1378.0,557.4 1380.0,561.1 1382.0,564.5 1384.0,567.8 1386.0,571.1 1388.0,574.3 1390.0,577.1 1392.0,579.1 1394.0,580.6 1396.0,582.0 1398.0,583.2 1400.0,584.1 1402.0,584.8 1404.0,585.1 1406.0,585.3 1408.0,585.4 1410.0,585.5 1412.0,585.5 1414.0,585.5 1416.0,585.1 1418.0,584.2 1420.0,583.1 1422.0,581.8 1424.0,580.5 1426.0,579.1 1428.0,577.4 1430.0,575.6 1432.0,573.8 1434.0,572.2 1436.0,570.6 1438.0,569.1 1440.0,567.6 1442.0,566.2 1444.0,564.7 1446.0,563.2 1448.0,561.7 1450.0,560.1 1452.0,558.6 1454.0,557.1 1455.3,556.1" fill="none" stroke="#0a0a0a" stroke-width="1.5" stroke-dasharray="3 7" stroke-linejoin="round"/>
</g>
<g id="c9">
<polygon points="300.6,846.4 300.6,795.6 302.6,795.3 304.6,795.0 306.6,794.6 308.6,794.2 310.6,793.7 312.6,793.2 314.6,792.7 316.6,792.1 318.6,791.5 320.6,790.8 322.6,790.1 324.6,789.3 326.6,788.4 328.6,787.6 330.6,786.7 332.6,785.7 334.6,784.5 336.6,783.3 338.6,782.3 340.6,781.6 342.6,781.0 344.6,780.5 346.6,780.0 348.6,779.6 350.6,779.2 352.6,778.8 354.6,778.5 356.6,778.2 358.6,777.9 360.6,777.7 362.6,777.5 364.6,777.2 366.6,777.0 368.6,776.8 370.6,776.6 372.6,776.4 374.6,776.2 376.6,776.0 378.6,775.8 380.6,775.7 382.6,775.5 384.6,775.4 386.6,775.4 388.6,775.3 390.6,775.3 392.6,775.3 394.6,775.3 396.6,775.3 398.6,775.4 400.6,775.6 402.6,775.7 404.6,775.8 406.6,776.0 408.6,776.1 410.6,776.3 412.6,776.5 414.6,776.7 416.6,777.0 418.6,777.3 420.6,777.6 422.6,777.9 424.6,778.3 426.6,778.6 428.6,779.0 430.6,779.4 432.6,779.8 434.6,780.3 436.6,780.8 438.6,781.4 440.6,782.1 442.6,782.7 444.6,783.2 446.6,783.7 448.6,784.1 450.6,784.4 452.6,784.8 454.6,785.1 456.6,785.4 458.6,785.7 460.6,786.0 462.6,786.2 464.6,786.5 466.6,786.7 468.6,787.0 470.6,787.2 472.6,787.5 474.6,787.7 476.6,787.9 478.6,788.2 480.6,788.4 482.6,788.7 484.6,788.9 486.6,789.1 488.6,789.3 490.6,789.5 492.6,789.7 494.6,789.9 496.6,790.1 498.6,790.3 500.6,790.6 502.6,790.8 504.6,791.0 506.6,791.2 508.6,791.5 510.6,791.7 512.6,792.0 514.6,792.2 516.6,792.5 518.6,792.7 520.6,793.0 522.6,793.3 524.6,793.6 526.6,793.9 528.6,794.2 530.6,794.6 532.6,795.0 534.6,795.5 536.6,796.2 538.6,797.1 540.6,798.1 542.6,798.8 544.6,799.4 546.6,799.9 548.6,800.3 550.6,800.7 552.6,801.1 554.6,801.5 556.6,801.9 558.6,802.4 560.6,802.9 562.6,803.4 564.6,803.9 566.6,804.4 568.6,805.0 570.6,805.5 572.6,806.0 574.6,806.5 576.6,806.9 578.6,807.3 580.6,807.7 582.6,808.1 584.6,808.5 586.6,808.8 588.6,809.1 590.6,809.5 592.6,809.8 594.6,810.1 596.6,810.5 598.6,810.8 600.6,811.2 602.6,811.6 604.6,812.0 606.6,812.4 608.6,812.9 610.6,813.3 612.6,813.8 614.6,814.3 616.6,814.8 618.6,815.3 620.6,815.8 622.6,816.3 624.6,816.9 626.6,817.5 628.6,818.0 630.6,818.5 632.6,819.0 634.6,819.3 636.6,819.7 638.6,820.0 640.6,820.3 642.6,820.6 644.6,820.9 646.6,821.1 648.6,821.4 650.6,821.7 652.6,821.9 654.6,822.2 656.6,822.6 658.6,822.9 660.6,823.3 662.6,823.7 664.6,824.2 666.6,824.6 668.6,825.1 670.6,825.6 672.6,826.0 674.6,826.4 676.6,826.7 678.6,827.1 680.6,827.4 682.6,827.7 684.6,828.0 686.6,828.3 688.6,828.6 690.6,828.9 692.6,829.2 694.6,829.5 696.6,829.8 698.6,830.0 700.6,830.3 702.6,830.6 704.6,830.9 706.6,831.1 708.6,831.4 710.6,831.6 712.6,831.9 714.6,832.1 716.6,832.3 718.6,832.5 720.6,832.8 722.6,833.0 724.6,833.2 726.6,833.4 728.6,833.6 730.6,833.8 732.6,834.0 734.6,834.2 736.6,834.4 738.6,834.5 740.6,834.6 742.6,834.8 744.6,834.9 746.6,835.0 748.6,835.1 750.6,835.2 752.6,835.4 754.6,835.5 756.6,835.6 758.6,835.7 760.6,835.8 762.6,835.9 764.6,836.0 766.6,836.1 768.6,836.2 770.6,836.2 772.6,836.3 774.6,836.4 776.6,836.4 778.6,836.4 780.6,836.5 782.6,836.5 784.6,836.5 786.6,836.5 788.6,836.5 790.6,836.5 792.6,836.5 794.6,836.5 796.6,836.5 798.6,836.5 800.6,836.5 802.6,836.5 804.6,836.5 806.6,836.5 808.6,836.5 810.6,836.5 812.6,836.5 814.6,836.5 816.6,836.5 818.6,836.5 820.6,836.5 822.6,836.5 824.6,836.5 826.6,836.5 828.6,836.5 830.6,836.5 832.6,836.5 834.6,836.5 836.6,836.5 838.6,836.5 840.6,836.5 842.6,836.5 844.6,836.5 846.6,836.4 848.6,836.4 850.6,836.3 852.6,836.2 854.6,836.0 856.6,835.9 858.6,835.7 860.6,835.5 862.6,835.3 864.6,835.1 866.6,834.9 868.6,834.7 870.6,834.5 872.6,834.3 874.6,834.1 876.6,833.8 878.6,833.5 880.6,833.2 882.6,832.9 884.6,832.6 886.6,832.2 888.6,831.9 890.6,831.5 892.6,831.0 894.6,830.6 896.6,830.1 898.6,829.6 900.6,829.0 902.6,828.4 904.6,827.6 906.6,826.9 908.6,826.2 910.6,825.7 912.6,825.2 914.6,824.8 916.6,824.5 918.6,824.1 920.6,823.8 922.6,823.5 924.6,823.1 926.6,822.6 928.6,822.1 930.6,821.4 932.6,820.5 934.6,819.5 936.6,818.6 938.6,817.9 940.6,817.3 942.6,816.7 944.6,816.2 946.6,815.6 948.6,815.1 950.6,814.6 952.6,814.1 954.6,813.6 956.6,813.0 958.6,812.2 960.6,811.3 962.6,810.4 964.6,809.5 966.6,808.8 968.6,808.2 970.6,807.6 972.6,807.1 974.6,806.6 976.6,806.1 978.6,805.6 980.6,805.1 982.6,804.6 984.6,804.0 986.6,803.5 988.6,803.1 990.6,802.6 992.6,802.1 994.6,801.6 996.6,801.2 998.6,800.7 1000.6,800.2 1002.6,799.6 1004.6,799.0 1006.6,798.4 1008.6,797.7 1010.6,797.1 1012.6,796.6 1014.6,796.1 1016.6,795.8 1018.6,795.5 1020.6,795.2 1022.6,794.9 1024.6,794.7 1026.6,794.4 1028.6,794.2 1030.6,794.1 1032.6,793.9 1034.6,793.8 1036.6,793.7 1038.6,793.5 1040.6,793.4 1042.6,793.3 1044.6,793.2 1046.6,793.1 1048.6,793.1 1050.6,793.0 1052.6,792.9 1054.6,792.8 1056.6,792.8 1058.6,792.7 1060.6,792.6 1062.6,792.6 1064.6,792.5 1066.6,792.5 1068.6,792.4 1070.6,792.4 1072.6,792.3 1074.6,792.3 1076.6,792.2 1078.6,792.2 1080.6,792.1 1082.6,792.1 1084.6,792.0 1086.6,792.0 1088.6,791.9 1090.6,791.8 1092.6,791.8 1094.6,791.7 1096.6,791.6 1098.6,791.6 1100.6,791.5 1102.6,791.4 1104.6,791.3 1106.6,791.1 1108.6,790.9 1110.6,790.7 1112.6,790.5 1114.6,790.2 1116.6,789.9 1118.6,789.6 1120.6,789.1 1122.6,788.6 1124.6,788.0 1126.6,787.4 1128.6,786.6 1130.6,785.7 1132.6,784.7 1134.6,783.5 1136.6,782.2 1138.6,780.7 1140.6,779.0 1142.6,777.1 1144.6,774.9 1146.6,772.5 1148.6,769.8 1150.6,766.8 1152.6,763.4 1154.6,759.7 1156.6,755.6 1158.6,751.0 1160.6,745.9 1162.6,740.4 1164.6,734.3 1166.6,727.6 1168.6,720.3 1170.6,712.3 1172.6,703.6 1174.6,694.1 1176.6,683.9 1178.6,672.9 1180.6,661.1 1182.6,648.4 1184.6,635.1 1186.6,621.1 1188.6,606.5 1190.6,591.4 1192.6,575.9 1194.6,560.1 1196.6,544.2 1198.6,528.1 1200.6,512.0 1202.6,495.9 1204.6,479.8 1206.6,463.8 1208.6,448.0 1210.6,432.4 1212.6,417.0 1214.6,402.0 1216.6,387.3 1218.6,373.1 1220.6,359.4 1222.6,346.3 1224.6,333.8 1226.6,322.1 1228.6,311.2 1230.6,301.2 1232.6,292.0 1234.6,283.9 1236.6,276.8 1238.6,270.9 1240.6,266.0 1242.6,262.3 1244.6,259.7 1246.6,258.4 1247.8,258.2 1249.8,258.6 1251.8,259.6 1253.8,261.4 1255.8,265.6 1257.8,271.0 1259.8,276.8 1261.8,283.6 1263.8,290.2 1265.8,296.7 1267.8,305.2 1269.8,314.9 1271.8,323.4 1273.8,336.5 1275.8,347.4 1277.8,355.4 1279.8,365.5 1281.8,375.7 1283.8,383.6 1285.8,393.7 1287.8,400.6 1289.8,409.4 1291.8,422.4 1293.8,433.1 1295.8,441.8 1297.8,448.7 1299.8,455.2 1301.8,462.1 1303.8,469.2 1305.8,479.9 1307.8,493.1 1309.8,502.4 1311.8,509.9 1313.8,515.8 1315.8,521.9 1317.8,529.5 1319.8,538.8 1321.8,547.1 1323.8,554.9 1325.8,562.8 1327.8,570.7 1329.8,578.5 1331.8,586.0 1333.8,592.2 1335.8,597.7 1337.8,602.7 1339.8,607.2 1341.8,611.4 1343.8,615.3 1345.8,619.0 1347.8,622.6 1349.8,626.1 1351.8,629.3 1353.8,632.2 1355.8,634.7 1357.8,637.1 1359.8,639.1 1361.8,640.6 1363.8,641.6 1365.8,642.5 1367.8,643.3 1369.8,643.8 1371.8,644.0 1373.8,643.9 1375.8,643.7 1377.8,643.3 1379.8,642.9 1381.8,642.4 1383.8,641.7 1385.8,640.8 1387.8,639.6 1389.8,638.3 1391.8,636.9 1393.8,635.5 1395.8,634.2 1397.8,632.9 1399.8,631.7 1401.8,630.4 1403.8,629.1 1405.8,627.7 1407.8,626.3 1409.8,624.8 1411.8,623.3 1413.8,621.7 1415.8,620.0 1417.8,618.2 1419.8,616.2 1421.8,614.2 1423.8,612.1 1425.3,610.5 1425.3,846.4" fill="url(#g9)" fill-opacity="0.5" stroke="none"/>
<line x1="301.0" y1="795.6" x2="301.0" y2="846.4" stroke="#0c0c0c" stroke-width="2" />
<line x1="1425.9" y1="610.5" x2="1425.9" y2="846.4" stroke="#1c2a14" stroke-width="1.8" />
<polyline points="300.6,795.6 302.6,795.3 304.6,795.0 306.6,794.6 308.6,794.2 310.6,793.7 312.6,793.2 314.6,792.7 316.6,792.1 318.6,791.5 320.6,790.8 322.6,790.1 324.6,789.3 326.6,788.4 328.6,787.6 330.6,786.7 332.6,785.7 334.6,784.5 336.6,783.3 338.6,782.3 340.6,781.6 342.6,781.0 344.6,780.5 346.6,780.0 348.6,779.6 350.6,779.2 352.6,778.8 354.6,778.5 356.6,778.2 358.6,777.9 360.6,777.7 362.6,777.5 364.6,777.2 366.6,777.0 368.6,776.8 370.6,776.6 372.6,776.4 374.6,776.2 376.6,776.0 378.6,775.8 380.6,775.7 382.6,775.5 384.6,775.4 386.6,775.4 388.6,775.3 390.6,775.3 392.6,775.3 394.6,775.3 396.6,775.3 398.6,775.4 400.6,775.6 402.6,775.7 404.6,775.8 406.6,776.0 408.6,776.1 410.6,776.3 412.6,776.5 414.6,776.7 416.6,777.0 418.6,777.3 420.6,777.6 422.6,777.9 424.6,778.3 426.6,778.6 428.6,779.0 430.6,779.4 432.6,779.8 434.6,780.3 436.6,780.8 438.6,781.4 440.6,782.1 442.6,782.7 444.6,783.2 446.6,783.7 448.6,784.1 450.6,784.4 452.6,784.8 454.6,785.1 456.6,785.4 458.6,785.7 460.6,786.0 462.6,786.2 464.6,786.5 466.6,786.7 468.6,787.0 470.6,787.2 472.6,787.5 474.6,787.7 476.6,787.9 478.6,788.2 480.6,788.4 482.6,788.7 484.6,788.9 486.6,789.1 488.6,789.3 490.6,789.5 492.6,789.7 494.6,789.9 496.6,790.1 498.6,790.3 500.6,790.6 502.6,790.8 504.6,791.0 506.6,791.2 508.6,791.5 510.6,791.7 512.6,792.0 514.6,792.2 516.6,792.5 518.6,792.7 520.6,793.0 522.6,793.3 524.6,793.6 526.6,793.9 528.6,794.2 530.6,794.6 532.6,795.0 534.6,795.5 536.6,796.2 538.6,797.1 540.6,798.1 542.6,798.8 544.6,799.4 546.6,799.9 548.6,800.3 550.6,800.7 552.6,801.1 554.6,801.5 556.6,801.9 558.6,802.4 560.6,802.9 562.6,803.4 564.6,803.9 566.6,804.4 568.6,805.0 570.6,805.5 572.6,806.0 574.6,806.5 576.6,806.9 578.6,807.3 580.6,807.7 582.6,808.1 584.6,808.5 586.6,808.8 588.6,809.1 590.6,809.5 592.6,809.8 594.6,810.1 596.6,810.5 598.6,810.8 600.6,811.2 602.6,811.6 604.6,812.0 606.6,812.4 608.6,812.9 610.6,813.3 612.6,813.8 614.6,814.3 616.6,814.8 618.6,815.3 620.6,815.8 622.6,816.3 624.6,816.9 626.6,817.5 628.6,818.0 630.6,818.5 632.6,819.0 634.6,819.3 636.6,819.7 638.6,820.0 640.6,820.3 642.6,820.6 644.6,820.9 646.6,821.1 648.6,821.4 650.6,821.7 652.6,821.9 654.6,822.2 656.6,822.6 658.6,822.9 660.6,823.3 662.6,823.7 664.6,824.2 666.6,824.6 668.6,825.1 670.6,825.6 672.6,826.0 674.6,826.4 676.6,826.7 678.6,827.1 680.6,827.4 682.6,827.7 684.6,828.0 686.6,828.3 688.6,828.6 690.6,828.9 692.6,829.2 694.6,829.5 696.6,829.8 698.6,830.0 700.6,830.3 702.6,830.6 704.6,830.9 706.6,831.1 708.6,831.4 710.6,831.6 712.6,831.9 714.6,832.1 716.6,832.3 718.6,832.5 720.6,832.8 722.6,833.0 724.6,833.2 726.6,833.4 728.6,833.6 730.6,833.8 732.6,834.0 734.6,834.2 736.6,834.4 738.6,834.5 740.6,834.6 742.6,834.8 744.6,834.9 746.6,835.0 748.6,835.1 750.6,835.2 752.6,835.4 754.6,835.5 756.6,835.6 758.6,835.7 760.6,835.8 762.6,835.9 764.6,836.0 766.6,836.1 768.6,836.2 770.6,836.2 772.6,836.3 774.6,836.4 776.6,836.4 778.6,836.4 780.6,836.5 782.6,836.5 784.6,836.5 786.6,836.5 788.6,836.5 790.6,836.5 792.6,836.5 794.6,836.5 796.6,836.5 798.6,836.5 800.6,836.5 802.6,836.5 804.6,836.5 806.6,836.5 808.6,836.5 810.6,836.5 812.6,836.5 814.6,836.5 816.6,836.5 818.6,836.5 820.6,836.5 822.6,836.5 824.6,836.5 826.6,836.5 828.6,836.5 830.6,836.5 832.6,836.5 834.6,836.5 836.6,836.5 838.6,836.5 840.6,836.5 842.6,836.5 844.6,836.5 846.6,836.4 848.6,836.4 850.6,836.3 852.6,836.2 854.6,836.0 856.6,835.9 858.6,835.7 860.6,835.5 862.6,835.3 864.6,835.1 866.6,834.9 868.6,834.7 870.6,834.5 872.6,834.3 874.6,834.1 876.6,833.8 878.6,833.5 880.6,833.2 882.6,832.9 884.6,832.6 886.6,832.2 888.6,831.9 890.6,831.5 892.6,831.0 894.6,830.6 896.6,830.1 898.6,829.6 900.6,829.0 902.6,828.4 904.6,827.6 906.6,826.9 908.6,826.2 910.6,825.7 912.6,825.2 914.6,824.8 916.6,824.5 918.6,824.1 920.6,823.8 922.6,823.5 924.6,823.1 926.6,822.6 928.6,822.1 930.6,821.4 932.6,820.5 934.6,819.5 936.6,818.6 938.6,817.9 940.6,817.3 942.6,816.7 944.6,816.2 946.6,815.6 948.6,815.1 950.6,814.6 952.6,814.1 954.6,813.6 956.6,813.0 958.6,812.2 960.6,811.3 962.6,810.4 964.6,809.5 966.6,808.8 968.6,808.2 970.6,807.6 972.6,807.1 974.6,806.6 976.6,806.1 978.6,805.6 980.6,805.1 982.6,804.6 984.6,804.0 986.6,803.5 988.6,803.1 990.6,802.6 992.6,802.1 994.6,801.6 996.6,801.2 998.6,800.7 1000.6,800.2 1002.6,799.6 1004.6,799.0 1006.6,798.4 1008.6,797.7 1010.6,797.1 1012.6,796.6 1014.6,796.1 1016.6,795.8 1018.6,795.5 1020.6,795.2 1022.6,794.9 1024.6,794.7 1026.6,794.4 1028.6,794.2 1030.6,794.1 1032.6,793.9 1034.6,793.8 1036.6,793.7 1038.6,793.5 1040.6,793.4 1042.6,793.3 1044.6,793.2 1046.6,793.1 1048.6,793.1 1050.6,793.0 1052.6,792.9 1054.6,792.8 1056.6,792.8 1058.6,792.7 1060.6,792.6 1062.6,792.6 1064.6,792.5 1066.6,792.5 1068.6,792.4 1070.6,792.4 1072.6,792.3 1074.6,792.3 1076.6,792.2 1078.6,792.2 1080.6,792.1 1082.6,792.1 1084.6,792.0 1086.6,792.0 1088.6,791.9 1090.6,791.8 1092.6,791.8 1094.6,791.7 1096.6,791.6 1098.6,791.6 1100.6,791.5 1102.6,791.4 1104.6,791.3 1106.6,791.1 1108.6,790.9 1110.6,790.7 1112.6,790.5 1114.6,790.2 1116.6,789.9 1118.6,789.6 1120.6,789.1 1122.6,788.6 1124.6,788.0 1126.6,787.4 1128.6,786.6 1130.6,785.7 1132.6,784.7 1134.6,783.5 1136.6,782.2 1138.6,780.7 1140.6,779.0 1142.6,777.1 1144.6,774.9 1146.6,772.5 1148.6,769.8 1150.6,766.8 1152.6,763.4 1154.6,759.7 1156.6,755.6 1158.6,751.0 1160.6,745.9 1162.6,740.4 1164.6,734.3 1166.6,727.6 1168.6,720.3 1170.6,712.3 1172.6,703.6 1174.6,694.1 1176.6,683.9 1178.6,672.9 1180.6,661.1 1182.6,648.4 1184.6,635.1 1186.6,621.1 1188.6,606.5 1190.6,591.4 1192.6,575.9 1194.6,560.1 1196.6,544.2 1198.6,528.1 1200.6,512.0 1202.6,495.9 1204.6,479.8 1206.6,463.8 1208.6,448.0 1210.6,432.4 1212.6,417.0 1214.6,402.0 1216.6,387.3 1218.6,373.1 1220.6,359.4 1222.6,346.3 1224.6,333.8 1226.6,322.1 1228.6,311.2 1230.6,301.2 1232.6,292.0 1234.6,283.9 1236.6,276.8 1238.6,270.9 1240.6,266.0 1242.6,262.3 1244.6,259.7 1246.6,258.4 1247.8,258.2 1249.8,258.6 1251.8,259.6 1253.8,261.4 1255.8,265.6 1257.8,271.0 1259.8,276.8 1261.8,283.6 1263.8,290.2 1265.8,296.7 1267.8,305.2 1269.8,314.9 1271.8,323.4 1273.8,336.5 1275.8,347.4 1277.8,355.4 1279.8,365.5 1281.8,375.7 1283.8,383.6 1285.8,393.7 1287.8,400.6 1289.8,409.4 1291.8,422.4 1293.8,433.1 1295.8,441.8 1297.8,448.7 1299.8,455.2 1301.8,462.1 1303.8,469.2 1305.8,479.9 1307.8,493.1 1309.8,502.4 1311.8,509.9 1313.8,515.8 1315.8,521.9 1317.8,529.5 1319.8,538.8 1321.8,547.1 1323.8,554.9 1325.8,562.8 1327.8,570.7 1329.8,578.5 1331.8,586.0 1333.8,592.2 1335.8,597.7 1337.8,602.7 1339.8,607.2 1341.8,611.4 1343.8,615.3 1345.8,619.0 1347.8,622.6 1349.8,626.1 1351.8,629.3 1353.8,632.2 1355.8,634.7 1357.8,637.1 1359.8,639.1 1361.8,640.6 1363.8,641.6 1365.8,642.5 1367.8,643.3 1369.8,643.8 1371.8,644.0 1373.8,643.9 1375.8,643.7 1377.8,643.3 1379.8,642.9 1381.8,642.4 1383.8,641.7 1385.8,640.8 1387.8,639.6 1389.8,638.3 1391.8,636.9 1393.8,635.5 1395.8,634.2 1397.8,632.9 1399.8,631.7 1401.8,630.4 1403.8,629.1 1405.8,627.7 1407.8,626.3 1409.8,624.8 1411.8,623.3 1413.8,621.7 1415.8,620.0 1417.8,618.2 1419.8,616.2 1421.8,614.2 1423.8,612.1 1425.3,610.5" fill="none" stroke="#0a0a0a" stroke-width="1.5" stroke-dasharray="3 7" stroke-linejoin="round"/>
</g>
<g id="c8">
<polygon points="270.6,898.6 270.6,841.7 272.6,841.8 274.6,841.9 276.6,842.0 278.6,842.1 280.6,842.2 282.6,842.3 284.6,842.4 286.6,842.5 288.6,842.6 290.6,842.7 292.6,842.8 294.6,842.8 296.6,842.9 298.6,843.0 300.6,843.0 302.6,843.0 304.6,842.9 306.6,842.6 308.6,842.2 310.6,841.7 312.6,841.1 314.6,840.5 316.6,840.0 318.6,839.5 320.6,839.0 322.6,838.5 324.6,837.9 326.6,837.4 328.6,836.9 330.6,836.4 332.6,836.0 334.6,835.6 336.6,835.3 338.6,834.9 340.6,834.6 342.6,834.3 344.6,833.9 346.6,833.7 348.6,833.4 350.6,833.2 352.6,833.0 354.6,832.9 356.6,832.8 358.6,832.7 360.6,832.7 362.6,832.7 364.6,832.7 366.6,832.7 368.6,832.7 370.6,832.7 372.6,832.7 374.6,832.9 376.6,833.1 378.6,833.5 380.6,833.8 382.6,834.2 384.6,834.7 386.6,835.1 388.6,835.5 390.6,835.8 392.6,836.1 394.6,836.5 396.6,836.9 398.6,837.2 400.6,837.6 402.6,838.0 404.6,838.3 406.6,838.7 408.6,839.0 410.6,839.3 412.6,839.6 414.6,839.9 416.6,840.2 418.6,840.5 420.6,840.7 422.6,841.0 424.6,841.2 426.6,841.4 428.6,841.7 430.6,841.9 432.6,842.1 434.6,842.3 436.6,842.5 438.6,842.8 440.6,843.0 442.6,843.2 444.6,843.3 446.6,843.5 448.6,843.7 450.6,843.9 452.6,844.0 454.6,844.2 456.6,844.4 458.6,844.6 460.6,844.8 462.6,845.0 464.6,845.2 466.6,845.4 468.6,845.7 470.6,845.9 472.6,846.2 474.6,846.5 476.6,846.9 478.6,847.2 480.6,847.5 482.6,847.9 484.6,848.2 486.6,848.6 488.6,848.9 490.6,849.3 492.6,849.7 494.6,850.1 496.6,850.5 498.6,850.9 500.6,851.3 502.6,851.7 504.6,852.1 506.6,852.5 508.6,852.9 510.6,853.3 512.6,853.7 514.6,854.1 516.6,854.4 518.6,854.8 520.6,855.2 522.6,855.5 524.6,855.9 526.6,856.3 528.6,856.7 530.6,857.2 532.6,857.7 534.6,858.2 536.6,858.7 538.6,859.4 540.6,860.1 542.6,860.8 544.6,861.4 546.6,861.9 548.6,862.3 550.6,862.7 552.6,863.1 554.6,863.5 556.6,863.9 558.6,864.3 560.6,864.7 562.6,865.1 564.6,865.5 566.6,865.9 568.6,866.3 570.6,866.8 572.6,867.2 574.6,867.7 576.6,868.2 578.6,868.7 580.6,869.2 582.6,869.6 584.6,870.1 586.6,870.5 588.6,870.9 590.6,871.3 592.6,871.7 594.6,872.1 596.6,872.5 598.6,872.9 600.6,873.2 602.6,873.6 604.6,873.9 606.6,874.3 608.6,874.6 610.6,875.0 612.6,875.3 614.6,875.7 616.6,876.0 618.6,876.3 620.6,876.7 622.6,877.0 624.6,877.4 626.6,877.7 628.6,878.0 630.6,878.3 632.6,878.6 634.6,878.9 636.6,879.2 638.6,879.5 640.6,879.8 642.6,880.1 644.6,880.4 646.6,880.6 648.6,880.9 650.6,881.1 652.6,881.4 654.6,881.6 656.6,881.8 658.6,882.0 660.6,882.3 662.6,882.5 664.6,882.7 666.6,882.9 668.6,883.1 670.6,883.3 672.6,883.5 674.6,883.8 676.6,884.0 678.6,884.2 680.6,884.4 682.6,884.7 684.6,884.9 686.6,885.1 688.6,885.3 690.6,885.5 692.6,885.7 694.6,886.0 696.6,886.1 698.6,886.3 700.6,886.5 702.6,886.7 704.6,886.9 706.6,887.1 708.6,887.3 710.6,887.5 712.6,887.7 714.6,887.9 716.6,888.1 718.6,888.2 720.6,888.4 722.6,888.5 724.6,888.7 726.6,888.8 728.6,888.9 730.6,889.0 732.6,889.2 734.6,889.3 736.6,889.4 738.6,889.6 740.6,889.7 742.6,889.8 744.6,889.9 746.6,890.1 748.6,890.2 750.6,890.3 752.6,890.3 754.6,890.4 756.6,890.5 758.6,890.5 760.6,890.6 762.6,890.6 764.6,890.6 766.6,890.6 768.6,890.6 770.6,890.6 772.6,890.6 774.6,890.6 776.6,890.6 778.6,890.6 780.6,890.6 782.6,890.6 784.6,890.6 786.6,890.6 788.6,890.6 790.6,890.6 792.6,890.6 794.6,890.6 796.6,890.6 798.6,890.6 800.6,890.6 802.6,890.6 804.6,890.6 806.6,890.5 808.6,890.5 810.6,890.4 812.6,890.2 814.6,890.1 816.6,889.9 818.6,889.7 820.6,889.5 822.6,889.3 824.6,889.1 826.6,888.9 828.6,888.7 830.6,888.5 832.6,888.2 834.6,888.0 836.6,887.8 838.6,887.5 840.6,887.2 842.6,886.9 844.6,886.6 846.6,886.3 848.6,886.0 850.6,885.7 852.6,885.4 854.6,885.0 856.6,884.6 858.6,884.2 860.6,883.8 862.6,883.4 864.6,883.0 866.6,882.6 868.6,882.3 870.6,881.9 872.6,881.6 874.6,881.2 876.6,880.9 878.6,880.5 880.6,880.2 882.6,879.8 884.6,879.4 886.6,879.0 888.6,878.5 890.6,877.9 892.6,877.3 894.6,876.6 896.6,875.9 898.6,875.2 900.6,874.6 902.6,874.0 904.6,873.4 906.6,872.9 908.6,872.3 910.6,871.7 912.6,871.2 914.6,870.7 916.6,870.2 918.6,869.6 920.6,868.9 922.6,868.0 924.6,867.1 926.6,866.2 928.6,865.5 930.6,865.0 932.6,864.5 934.6,864.1 936.6,863.7 938.6,863.3 940.6,862.8 942.6,862.4 944.6,861.9 946.6,861.3 948.6,860.6 950.6,859.8 952.6,859.1 954.6,858.5 956.6,858.0 958.6,857.5 960.6,857.1 962.6,856.7 964.6,856.3 966.6,855.9 968.6,855.4 970.6,854.9 972.6,854.4 974.6,853.9 976.6,853.5 978.6,853.1 980.6,852.8 982.6,852.4 984.6,852.1 986.6,851.8 988.6,851.5 990.6,851.2 992.6,851.0 994.6,850.8 996.6,850.6 998.6,850.5 1000.6,850.3 1002.6,850.2 1004.6,850.1 1006.6,849.9 1008.6,849.8 1010.6,849.7 1012.6,849.6 1014.6,849.5 1016.6,849.4 1018.6,849.3 1020.6,849.3 1022.6,849.2 1024.6,849.1 1026.6,849.0 1028.6,849.0 1030.6,848.9 1032.6,848.8 1034.6,848.7 1036.6,848.7 1038.6,848.6 1040.6,848.5 1042.6,848.5 1044.6,848.4 1046.6,848.3 1048.6,848.3 1050.6,848.2 1052.6,848.2 1054.6,848.1 1056.6,848.1 1058.6,848.0 1060.6,848.0 1062.6,848.0 1064.6,847.9 1066.6,847.9 1068.6,847.8 1070.6,847.7 1072.6,847.6 1074.6,847.5 1076.6,847.4 1078.6,847.2 1080.6,847.1 1082.6,846.8 1084.6,846.6 1086.6,846.3 1088.6,846.0 1090.6,845.6 1092.6,845.1 1094.6,844.6 1096.6,843.9 1098.6,843.2 1100.6,842.4 1102.6,841.5 1104.6,840.4 1106.6,839.2 1108.6,837.8 1110.6,836.3 1112.6,834.5 1114.6,832.5 1116.6,830.3 1118.6,827.8 1120.6,825.0 1122.6,821.9 1124.6,818.4 1126.6,814.6 1128.6,810.4 1130.6,805.7 1132.6,800.6 1134.6,794.9 1136.6,788.7 1138.6,781.9 1140.6,774.5 1142.6,766.5 1144.6,757.7 1146.6,748.2 1148.6,738.0 1150.6,727.0 1152.6,715.3 1154.6,702.9 1156.6,689.8 1158.6,676.2 1160.6,662.0 1162.6,647.6 1164.6,632.8 1166.6,617.9 1168.6,602.8 1170.6,587.7 1172.6,572.5 1174.6,557.5 1176.6,542.4 1178.6,527.6 1180.6,512.9 1182.6,498.4 1184.6,484.2 1186.6,470.4 1188.6,457.0 1190.6,444.0 1192.6,431.7 1194.6,419.9 1196.6,408.8 1198.6,398.4 1200.6,388.9 1202.6,380.2 1204.6,372.4 1206.6,365.6 1208.6,359.9 1210.6,355.1 1212.6,351.5 1214.6,348.9 1216.6,347.5 1218.1,347.2 1220.1,347.8 1222.1,349.5 1224.1,351.8 1226.1,355.0 1228.1,360.3 1230.1,366.2 1232.1,371.9 1234.1,377.9 1236.1,384.4 1238.1,391.4 1240.1,399.8 1242.1,409.5 1244.1,419.5 1246.1,429.0 1248.1,437.9 1250.1,446.4 1252.1,455.1 1254.1,463.9 1256.1,472.6 1258.1,481.1 1260.1,489.2 1262.1,497.3 1264.1,505.1 1266.1,512.5 1268.1,520.0 1270.1,529.1 1272.1,540.7 1274.1,550.1 1276.1,557.3 1278.1,563.9 1280.1,570.9 1282.1,578.1 1284.1,585.4 1286.1,592.7 1288.1,600.0 1290.1,607.3 1292.1,614.4 1294.1,621.3 1296.1,628.1 1298.1,635.0 1300.1,642.0 1302.1,648.5 1304.1,653.9 1306.1,658.7 1308.1,663.0 1310.1,667.1 1312.1,671.2 1314.1,675.2 1316.1,679.0 1318.1,682.3 1320.1,685.1 1322.1,687.6 1324.1,689.9 1326.1,692.0 1328.1,693.7 1330.1,695.3 1332.1,697.0 1334.1,698.4 1336.1,699.5 1338.1,700.0 1340.1,700.0 1342.1,700.0 1344.1,700.0 1346.1,700.0 1348.1,700.0 1350.1,699.7 1352.1,698.7 1354.1,697.3 1356.1,695.7 1358.1,694.1 1360.1,692.6 1362.1,690.9 1364.1,689.1 1366.1,687.2 1368.1,685.4 1370.1,683.6 1372.1,681.9 1374.1,680.3 1376.1,678.7 1378.1,677.1 1380.1,675.6 1382.1,674.1 1384.1,672.6 1386.1,671.2 1388.1,669.7 1390.1,668.4 1392.1,667.0 1394.1,665.7 1395.3,664.9 1395.3,898.6" fill="url(#g8)" fill-opacity="0.5" stroke="none"/>
<line x1="271.0" y1="841.7" x2="271.0" y2="898.6" stroke="#141414" stroke-width="2" />
<line x1="1395.9" y1="664.9" x2="1395.9" y2="898.6" stroke="#c0d6b8" stroke-width="1.8" />
<polyline points="270.6,841.7 272.6,841.8 274.6,841.9 276.6,842.0 278.6,842.1 280.6,842.2 282.6,842.3 284.6,842.4 286.6,842.5 288.6,842.6 290.6,842.7 292.6,842.8 294.6,842.8 296.6,842.9 298.6,843.0 300.6,843.0 302.6,843.0 304.6,842.9 306.6,842.6 308.6,842.2 310.6,841.7 312.6,841.1 314.6,840.5 316.6,840.0 318.6,839.5 320.6,839.0 322.6,838.5 324.6,837.9 326.6,837.4 328.6,836.9 330.6,836.4 332.6,836.0 334.6,835.6 336.6,835.3 338.6,834.9 340.6,834.6 342.6,834.3 344.6,833.9 346.6,833.7 348.6,833.4 350.6,833.2 352.6,833.0 354.6,832.9 356.6,832.8 358.6,832.7 360.6,832.7 362.6,832.7 364.6,832.7 366.6,832.7 368.6,832.7 370.6,832.7 372.6,832.7 374.6,832.9 376.6,833.1 378.6,833.5 380.6,833.8 382.6,834.2 384.6,834.7 386.6,835.1 388.6,835.5 390.6,835.8 392.6,836.1 394.6,836.5 396.6,836.9 398.6,837.2 400.6,837.6 402.6,838.0 404.6,838.3 406.6,838.7 408.6,839.0 410.6,839.3 412.6,839.6 414.6,839.9 416.6,840.2 418.6,840.5 420.6,840.7 422.6,841.0 424.6,841.2 426.6,841.4 428.6,841.7 430.6,841.9 432.6,842.1 434.6,842.3 436.6,842.5 438.6,842.8 440.6,843.0 442.6,843.2 444.6,843.3 446.6,843.5 448.6,843.7 450.6,843.9 452.6,844.0 454.6,844.2 456.6,844.4 458.6,844.6 460.6,844.8 462.6,845.0 464.6,845.2 466.6,845.4 468.6,845.7 470.6,845.9 472.6,846.2 474.6,846.5 476.6,846.9 478.6,847.2 480.6,847.5 482.6,847.9 484.6,848.2 486.6,848.6 488.6,848.9 490.6,849.3 492.6,849.7 494.6,850.1 496.6,850.5 498.6,850.9 500.6,851.3 502.6,851.7 504.6,852.1 506.6,852.5 508.6,852.9 510.6,853.3 512.6,853.7 514.6,854.1 516.6,854.4 518.6,854.8 520.6,855.2 522.6,855.5 524.6,855.9 526.6,856.3 528.6,856.7 530.6,857.2 532.6,857.7 534.6,858.2 536.6,858.7 538.6,859.4 540.6,860.1 542.6,860.8 544.6,861.4 546.6,861.9 548.6,862.3 550.6,862.7 552.6,863.1 554.6,863.5 556.6,863.9 558.6,864.3 560.6,864.7 562.6,865.1 564.6,865.5 566.6,865.9 568.6,866.3 570.6,866.8 572.6,867.2 574.6,867.7 576.6,868.2 578.6,868.7 580.6,869.2 582.6,869.6 584.6,870.1 586.6,870.5 588.6,870.9 590.6,871.3 592.6,871.7 594.6,872.1 596.6,872.5 598.6,872.9 600.6,873.2 602.6,873.6 604.6,873.9 606.6,874.3 608.6,874.6 610.6,875.0 612.6,875.3 614.6,875.7 616.6,876.0 618.6,876.3 620.6,876.7 622.6,877.0 624.6,877.4 626.6,877.7 628.6,878.0 630.6,878.3 632.6,878.6 634.6,878.9 636.6,879.2 638.6,879.5 640.6,879.8 642.6,880.1 644.6,880.4 646.6,880.6 648.6,880.9 650.6,881.1 652.6,881.4 654.6,881.6 656.6,881.8 658.6,882.0 660.6,882.3 662.6,882.5 664.6,882.7 666.6,882.9 668.6,883.1 670.6,883.3 672.6,883.5 674.6,883.8 676.6,884.0 678.6,884.2 680.6,884.4 682.6,884.7 684.6,884.9 686.6,885.1 688.6,885.3 690.6,885.5 692.6,885.7 694.6,886.0 696.6,886.1 698.6,886.3 700.6,886.5 702.6,886.7 704.6,886.9 706.6,887.1 708.6,887.3 710.6,887.5 712.6,887.7 714.6,887.9 716.6,888.1 718.6,888.2 720.6,888.4 722.6,888.5 724.6,888.7 726.6,888.8 728.6,888.9 730.6,889.0 732.6,889.2 734.6,889.3 736.6,889.4 738.6,889.6 740.6,889.7 742.6,889.8 744.6,889.9 746.6,890.1 748.6,890.2 750.6,890.3 752.6,890.3 754.6,890.4 756.6,890.5 758.6,890.5 760.6,890.6 762.6,890.6 764.6,890.6 766.6,890.6 768.6,890.6 770.6,890.6 772.6,890.6 774.6,890.6 776.6,890.6 778.6,890.6 780.6,890.6 782.6,890.6 784.6,890.6 786.6,890.6 788.6,890.6 790.6,890.6 792.6,890.6 794.6,890.6 796.6,890.6 798.6,890.6 800.6,890.6 802.6,890.6 804.6,890.6 806.6,890.5 808.6,890.5 810.6,890.4 812.6,890.2 814.6,890.1 816.6,889.9 818.6,889.7 820.6,889.5 822.6,889.3 824.6,889.1 826.6,888.9 828.6,888.7 830.6,888.5 832.6,888.2 834.6,888.0 836.6,887.8 838.6,887.5 840.6,887.2 842.6,886.9 844.6,886.6 846.6,886.3 848.6,886.0 850.6,885.7 852.6,885.4 854.6,885.0 856.6,884.6 858.6,884.2 860.6,883.8 862.6,883.4 864.6,883.0 866.6,882.6 868.6,882.3 870.6,881.9 872.6,881.6 874.6,881.2 876.6,880.9 878.6,880.5 880.6,880.2 882.6,879.8 884.6,879.4 886.6,879.0 888.6,878.5 890.6,877.9 892.6,877.3 894.6,876.6 896.6,875.9 898.6,875.2 900.6,874.6 902.6,874.0 904.6,873.4 906.6,872.9 908.6,872.3 910.6,871.7 912.6,871.2 914.6,870.7 916.6,870.2 918.6,869.6 920.6,868.9 922.6,868.0 924.6,867.1 926.6,866.2 928.6,865.5 930.6,865.0 932.6,864.5 934.6,864.1 936.6,863.7 938.6,863.3 940.6,862.8 942.6,862.4 944.6,861.9 946.6,861.3 948.6,860.6 950.6,859.8 952.6,859.1 954.6,858.5 956.6,858.0 958.6,857.5 960.6,857.1 962.6,856.7 964.6,856.3 966.6,855.9 968.6,855.4 970.6,854.9 972.6,854.4 974.6,853.9 976.6,853.5 978.6,853.1 980.6,852.8 982.6,852.4 984.6,852.1 986.6,851.8 988.6,851.5 990.6,851.2 992.6,851.0 994.6,850.8 996.6,850.6 998.6,850.5 1000.6,850.3 1002.6,850.2 1004.6,850.1 1006.6,849.9 1008.6,849.8 1010.6,849.7 1012.6,849.6 1014.6,849.5 1016.6,849.4 1018.6,849.3 1020.6,849.3 1022.6,849.2 1024.6,849.1 1026.6,849.0 1028.6,849.0 1030.6,848.9 1032.6,848.8 1034.6,848.7 1036.6,848.7 1038.6,848.6 1040.6,848.5 1042.6,848.5 1044.6,848.4 1046.6,848.3 1048.6,848.3 1050.6,848.2 1052.6,848.2 1054.6,848.1 1056.6,848.1 1058.6,848.0 1060.6,848.0 1062.6,848.0 1064.6,847.9 1066.6,847.9 1068.6,847.8 1070.6,847.7 1072.6,847.6 1074.6,847.5 1076.6,847.4 1078.6,847.2 1080.6,847.1 1082.6,846.8 1084.6,846.6 1086.6,846.3 1088.6,846.0 1090.6,845.6 1092.6,845.1 1094.6,844.6 1096.6,843.9 1098.6,843.2 1100.6,842.4 1102.6,841.5 1104.6,840.4 1106.6,839.2 1108.6,837.8 1110.6,836.3 1112.6,834.5 1114.6,832.5 1116.6,830.3 1118.6,827.8 1120.6,825.0 1122.6,821.9 1124.6,818.4 1126.6,814.6 1128.6,810.4 1130.6,805.7 1132.6,800.6 1134.6,794.9 1136.6,788.7 1138.6,781.9 1140.6,774.5 1142.6,766.5 1144.6,757.7 1146.6,748.2 1148.6,738.0 1150.6,727.0 1152.6,715.3 1154.6,702.9 1156.6,689.8 1158.6,676.2 1160.6,662.0 1162.6,647.6 1164.6,632.8 1166.6,617.9 1168.6,602.8 1170.6,587.7 1172.6,572.5 1174.6,557.5 1176.6,542.4 1178.6,527.6 1180.6,512.9 1182.6,498.4 1184.6,484.2 1186.6,470.4 1188.6,457.0 1190.6,444.0 1192.6,431.7 1194.6,419.9 1196.6,408.8 1198.6,398.4 1200.6,388.9 1202.6,380.2 1204.6,372.4 1206.6,365.6 1208.6,359.9 1210.6,355.1 1212.6,351.5 1214.6,348.9 1216.6,347.5 1218.1,347.2 1220.1,347.8 1222.1,349.5 1224.1,351.8 1226.1,355.0 1228.1,360.3 1230.1,366.2 1232.1,371.9 1234.1,377.9 1236.1,384.4 1238.1,391.4 1240.1,399.8 1242.1,409.5 1244.1,419.5 1246.1,429.0 1248.1,437.9 1250.1,446.4 1252.1,455.1 1254.1,463.9 1256.1,472.6 1258.1,481.1 1260.1,489.2 1262.1,497.3 1264.1,505.1 1266.1,512.5 1268.1,520.0 1270.1,529.1 1272.1,540.7 1274.1,550.1 1276.1,557.3 1278.1,563.9 1280.1,570.9 1282.1,578.1 1284.1,585.4 1286.1,592.7 1288.1,600.0 1290.1,607.3 1292.1,614.4 1294.1,621.3 1296.1,628.1 1298.1,635.0 1300.1,642.0 1302.1,648.5 1304.1,653.9 1306.1,658.7 1308.1,663.0 1310.1,667.1 1312.1,671.2 1314.1,675.2 1316.1,679.0 1318.1,682.3 1320.1,685.1 1322.1,687.6 1324.1,689.9 1326.1,692.0 1328.1,693.7 1330.1,695.3 1332.1,697.0 1334.1,698.4 1336.1,699.5 1338.1,700.0 1340.1,700.0 1342.1,700.0 1344.1,700.0 1346.1,700.0 1348.1,700.0 1350.1,699.7 1352.1,698.7 1354.1,697.3 1356.1,695.7 1358.1,694.1 1360.1,692.6 1362.1,690.9 1364.1,689.1 1366.1,687.2 1368.1,685.4 1370.1,683.6 1372.1,681.9 1374.1,680.3 1376.1,678.7 1378.1,677.1 1380.1,675.6 1382.1,674.1 1384.1,672.6 1386.1,671.2 1388.1,669.7 1390.1,668.4 1392.1,667.0 1394.1,665.7 1395.3,664.9" fill="none" stroke="#0a0a0a" stroke-width="1.5" stroke-dasharray="3 7" stroke-linejoin="round"/>
</g>
<g id="c7">
<polygon points="240.6,950.8 240.6,899.8 242.6,900.7 244.6,901.4 246.6,901.8 248.6,902.1 250.6,902.3 252.6,902.4 254.6,902.4 256.6,902.2 258.6,901.4 260.6,900.3 262.6,898.9 264.6,897.5 266.6,896.1 268.6,895.1 270.6,894.4 272.6,894.1 274.6,893.8 276.6,893.5 278.6,893.3 280.6,893.1 282.6,892.9 284.6,892.8 286.6,892.6 288.6,892.5 290.6,892.3 292.6,892.2 294.6,892.0 296.6,891.8 298.6,891.6 300.6,891.4 302.6,891.2 304.6,890.9 306.6,890.7 308.6,890.5 310.6,890.2 312.6,890.1 314.6,889.9 316.6,889.9 318.6,889.9 320.6,889.9 322.6,889.9 324.6,889.9 326.6,889.9 328.6,889.9 330.6,890.0 332.6,890.0 334.6,890.0 336.6,890.1 338.6,890.1 340.6,890.2 342.6,890.2 344.6,890.3 346.6,890.4 348.6,890.5 350.6,890.5 352.6,890.7 354.6,890.9 356.6,891.2 358.6,891.5 360.6,891.9 362.6,892.3 364.6,892.7 366.6,893.0 368.6,893.4 370.6,893.7 372.6,894.0 374.6,894.2 376.6,894.5 378.6,894.8 380.6,895.0 382.6,895.3 384.6,895.5 386.6,895.7 388.6,896.0 390.6,896.2 392.6,896.5 394.6,896.7 396.6,896.9 398.6,897.2 400.6,897.4 402.6,897.6 404.6,897.8 406.6,898.1 408.6,898.3 410.6,898.5 412.6,898.7 414.6,898.9 416.6,899.1 418.6,899.4 420.6,899.6 422.6,899.9 424.6,900.1 426.6,900.4 428.6,900.7 430.6,901.0 432.6,901.3 434.6,901.7 436.6,902.0 438.6,902.3 440.6,902.7 442.6,903.0 444.6,903.4 446.6,903.7 448.6,904.1 450.6,904.5 452.6,904.8 454.6,905.2 456.6,905.6 458.6,906.0 460.6,906.4 462.6,906.8 464.6,907.2 466.6,907.6 468.6,908.0 470.6,908.5 472.6,908.9 474.6,909.3 476.6,909.7 478.6,910.1 480.6,910.5 482.6,910.8 484.6,911.2 486.6,911.6 488.6,912.0 490.6,912.4 492.6,912.7 494.6,913.1 496.6,913.5 498.6,913.9 500.6,914.2 502.6,914.6 504.6,915.0 506.6,915.4 508.6,915.7 510.6,916.1 512.6,916.5 514.6,916.8 516.6,917.2 518.6,917.5 520.6,917.9 522.6,918.2 524.6,918.6 526.6,918.9 528.6,919.3 530.6,919.7 532.6,920.0 534.6,920.4 536.6,920.9 538.6,921.3 540.6,921.8 542.6,922.3 544.6,922.9 546.6,923.4 548.6,923.9 550.6,924.3 552.6,924.7 554.6,925.1 556.6,925.4 558.6,925.8 560.6,926.1 562.6,926.4 564.6,926.7 566.6,927.0 568.6,927.3 570.6,927.6 572.6,927.9 574.6,928.2 576.6,928.4 578.6,928.7 580.6,929.0 582.6,929.3 584.6,929.6 586.6,929.9 588.6,930.2 590.6,930.4 592.6,930.7 594.6,931.0 596.6,931.3 598.6,931.6 600.6,931.9 602.6,932.2 604.6,932.6 606.6,932.9 608.6,933.2 610.6,933.5 612.6,933.9 614.6,934.2 616.6,934.5 618.6,934.8 620.6,935.1 622.6,935.4 624.6,935.6 626.6,935.9 628.6,936.1 630.6,936.4 632.6,936.6 634.6,936.8 636.6,937.1 638.6,937.3 640.6,937.5 642.6,937.7 644.6,937.9 646.6,938.1 648.6,938.4 650.6,938.6 652.6,938.8 654.6,939.0 656.6,939.2 658.6,939.4 660.6,939.6 662.6,939.8 664.6,940.0 666.6,940.2 668.6,940.4 670.6,940.5 672.6,940.7 674.6,940.9 676.6,941.0 678.6,941.2 680.6,941.4 682.6,941.5 684.6,941.7 686.6,941.9 688.6,942.0 690.6,942.1 692.6,942.3 694.6,942.4 696.6,942.4 698.6,942.5 700.6,942.5 702.6,942.5 704.6,942.5 706.6,942.5 708.6,942.5 710.6,942.5 712.6,942.5 714.6,942.5 716.6,942.5 718.6,942.5 720.6,942.5 722.6,942.5 724.6,942.5 726.6,942.5 728.6,942.5 730.6,942.5 732.6,942.5 734.6,942.5 736.6,942.5 738.6,942.5 740.6,942.5 742.6,942.5 744.6,942.5 746.6,942.5 748.6,942.5 750.6,942.5 752.6,942.5 754.6,942.5 756.6,942.5 758.6,942.5 760.6,942.5 762.6,942.5 764.6,942.5 766.6,942.5 768.6,942.5 770.6,942.5 772.6,942.5 774.6,942.5 776.6,942.5 778.6,942.5 780.6,942.5 782.6,942.5 784.6,942.5 786.6,942.5 788.6,942.5 790.6,942.5 792.6,942.4 794.6,942.3 796.6,942.1 798.6,942.0 800.6,941.8 802.6,941.6 804.6,941.4 806.6,941.2 808.6,940.9 810.6,940.7 812.6,940.5 814.6,940.3 816.6,940.0 818.6,939.8 820.6,939.5 822.6,939.2 824.6,938.9 826.6,938.6 828.6,938.2 830.6,937.9 832.6,937.6 834.6,937.3 836.6,937.0 838.6,936.7 840.6,936.4 842.6,936.0 844.6,935.6 846.6,935.3 848.6,934.8 850.6,934.4 852.6,933.9 854.6,933.4 856.6,932.9 858.6,932.4 860.6,931.9 862.6,931.3 864.6,930.8 866.6,930.2 868.6,929.7 870.6,929.2 872.6,928.7 874.6,928.2 876.6,927.8 878.6,927.3 880.6,926.8 882.6,926.3 884.6,925.9 886.6,925.4 888.6,924.9 890.6,924.4 892.6,923.8 894.6,923.3 896.6,922.7 898.6,922.1 900.6,921.5 902.6,920.9 904.6,920.2 906.6,919.6 908.6,919.0 910.6,918.5 912.6,918.0 914.6,917.5 916.6,917.0 918.6,916.4 920.6,915.9 922.6,915.3 924.6,914.6 926.6,914.0 928.6,913.4 930.6,913.0 932.6,912.7 934.6,912.4 936.6,912.1 938.6,911.8 940.6,911.5 942.6,911.3 944.6,911.0 946.6,910.8 948.6,910.6 950.6,910.4 952.6,910.2 954.6,910.0 956.6,909.9 958.6,909.7 960.6,909.5 962.6,909.4 964.6,909.2 966.6,909.0 968.6,908.9 970.6,908.7 972.6,908.6 974.6,908.5 976.6,908.3 978.6,908.2 980.6,908.0 982.6,907.9 984.6,907.8 986.6,907.7 988.6,907.6 990.6,907.5 992.6,907.4 994.6,907.3 996.6,907.2 998.6,907.1 1000.6,907.0 1002.6,906.9 1004.6,906.8 1006.6,906.8 1008.6,906.7 1010.6,906.6 1012.6,906.5 1014.6,906.4 1016.6,906.4 1018.6,906.3 1020.6,906.2 1022.6,906.2 1024.6,906.1 1026.6,906.1 1028.6,906.0 1030.6,906.0 1032.6,906.0 1034.6,905.9 1036.6,905.9 1038.6,905.8 1040.6,905.7 1042.6,905.6 1044.6,905.5 1046.6,905.4 1048.6,905.2 1050.6,905.1 1052.6,904.8 1054.6,904.6 1056.6,904.3 1058.6,904.0 1060.6,903.6 1062.6,903.1 1064.6,902.6 1066.6,902.0 1068.6,901.3 1070.6,900.5 1072.6,899.5 1074.6,898.5 1076.6,897.3 1078.6,895.9 1080.6,894.4 1082.6,892.7 1084.6,890.7 1086.6,888.5 1088.6,886.1 1090.6,883.4 1092.6,880.3 1094.6,877.0 1096.6,873.2 1098.6,869.1 1100.6,864.6 1102.6,859.6 1104.6,854.1 1106.6,848.1 1108.6,841.5 1110.6,834.4 1112.6,826.6 1114.6,818.1 1116.6,809.0 1118.6,799.1 1120.6,788.5 1122.6,777.3 1124.6,765.4 1126.6,753.0 1128.6,740.0 1130.6,726.7 1132.6,713.1 1134.6,699.2 1136.6,685.1 1138.6,671.0 1140.6,656.9 1142.6,642.7 1144.6,628.6 1146.6,614.6 1148.6,600.8 1150.6,587.1 1152.6,573.7 1154.6,560.5 1156.6,547.8 1158.6,535.4 1160.6,523.5 1162.6,512.1 1164.6,501.3 1166.6,491.2 1168.6,481.8 1170.6,473.2 1172.6,465.4 1174.6,458.5 1176.6,452.6 1178.6,447.5 1180.6,443.5 1182.6,440.5 1184.6,438.6 1186.6,437.7 1187.3,437.6 1189.3,438.1 1191.3,439.6 1193.3,441.9 1195.3,444.8 1197.3,448.2 1199.3,451.7 1201.3,455.8 1203.3,461.6 1205.3,468.6 1207.3,476.0 1209.3,483.5 1211.3,491.7 1213.3,500.0 1215.3,507.8 1217.3,515.4 1219.3,523.2 1221.3,531.8 1223.3,541.0 1225.3,550.1 1227.3,559.1 1229.3,567.6 1231.3,574.8 1233.3,581.0 1235.3,587.8 1237.3,597.2 1239.3,607.9 1241.3,615.5 1243.3,621.8 1245.3,628.1 1247.3,635.0 1249.3,642.1 1251.3,649.1 1253.3,655.7 1255.3,661.9 1257.3,668.9 1259.3,678.6 1261.3,687.9 1263.3,693.5 1265.3,698.0 1267.3,701.9 1269.3,705.6 1271.3,709.6 1273.3,714.0 1275.3,718.4 1277.3,722.8 1279.3,726.9 1281.3,730.6 1283.3,734.1 1285.3,737.3 1287.3,740.4 1289.3,743.1 1291.3,745.6 1293.3,747.9 1295.3,750.1 1297.3,752.0 1299.3,753.5 1301.3,754.5 1303.3,755.3 1305.3,756.0 1307.3,756.5 1309.3,756.8 1311.3,756.9 1313.3,756.5 1315.3,755.7 1317.3,754.6 1319.3,753.5 1321.3,752.4 1323.3,751.3 1325.3,749.9 1327.3,748.5 1329.3,747.0 1331.3,745.5 1333.3,743.9 1335.3,742.3 1337.3,740.7 1339.3,738.9 1341.3,737.1 1343.3,735.3 1345.3,733.5 1347.3,731.9 1349.3,730.3 1351.3,728.8 1353.3,727.3 1355.3,725.9 1357.3,724.5 1359.3,723.1 1361.3,721.8 1363.3,720.5 1365.3,719.3 1365.3,950.8" fill="url(#g7)" fill-opacity="0.5" stroke="none"/>
<line x1="241.0" y1="899.8" x2="241.0" y2="950.8" stroke="#20281c" stroke-width="2" />
<line x1="1365.9" y1="719.3" x2="1365.9" y2="950.8" stroke="#c0d6b8" stroke-width="1.8" />
<polyline points="240.6,899.8 242.6,900.7 244.6,901.4 246.6,901.8 248.6,902.1 250.6,902.3 252.6,902.4 254.6,902.4 256.6,902.2 258.6,901.4 260.6,900.3 262.6,898.9 264.6,897.5 266.6,896.1 268.6,895.1 270.6,894.4 272.6,894.1 274.6,893.8 276.6,893.5 278.6,893.3 280.6,893.1 282.6,892.9 284.6,892.8 286.6,892.6 288.6,892.5 290.6,892.3 292.6,892.2 294.6,892.0 296.6,891.8 298.6,891.6 300.6,891.4 302.6,891.2 304.6,890.9 306.6,890.7 308.6,890.5 310.6,890.2 312.6,890.1 314.6,889.9 316.6,889.9 318.6,889.9 320.6,889.9 322.6,889.9 324.6,889.9 326.6,889.9 328.6,889.9 330.6,890.0 332.6,890.0 334.6,890.0 336.6,890.1 338.6,890.1 340.6,890.2 342.6,890.2 344.6,890.3 346.6,890.4 348.6,890.5 350.6,890.5 352.6,890.7 354.6,890.9 356.6,891.2 358.6,891.5 360.6,891.9 362.6,892.3 364.6,892.7 366.6,893.0 368.6,893.4 370.6,893.7 372.6,894.0 374.6,894.2 376.6,894.5 378.6,894.8 380.6,895.0 382.6,895.3 384.6,895.5 386.6,895.7 388.6,896.0 390.6,896.2 392.6,896.5 394.6,896.7 396.6,896.9 398.6,897.2 400.6,897.4 402.6,897.6 404.6,897.8 406.6,898.1 408.6,898.3 410.6,898.5 412.6,898.7 414.6,898.9 416.6,899.1 418.6,899.4 420.6,899.6 422.6,899.9 424.6,900.1 426.6,900.4 428.6,900.7 430.6,901.0 432.6,901.3 434.6,901.7 436.6,902.0 438.6,902.3 440.6,902.7 442.6,903.0 444.6,903.4 446.6,903.7 448.6,904.1 450.6,904.5 452.6,904.8 454.6,905.2 456.6,905.6 458.6,906.0 460.6,906.4 462.6,906.8 464.6,907.2 466.6,907.6 468.6,908.0 470.6,908.5 472.6,908.9 474.6,909.3 476.6,909.7 478.6,910.1 480.6,910.5 482.6,910.8 484.6,911.2 486.6,911.6 488.6,912.0 490.6,912.4 492.6,912.7 494.6,913.1 496.6,913.5 498.6,913.9 500.6,914.2 502.6,914.6 504.6,915.0 506.6,915.4 508.6,915.7 510.6,916.1 512.6,916.5 514.6,916.8 516.6,917.2 518.6,917.5 520.6,917.9 522.6,918.2 524.6,918.6 526.6,918.9 528.6,919.3 530.6,919.7 532.6,920.0 534.6,920.4 536.6,920.9 538.6,921.3 540.6,921.8 542.6,922.3 544.6,922.9 546.6,923.4 548.6,923.9 550.6,924.3 552.6,924.7 554.6,925.1 556.6,925.4 558.6,925.8 560.6,926.1 562.6,926.4 564.6,926.7 566.6,927.0 568.6,927.3 570.6,927.6 572.6,927.9 574.6,928.2 576.6,928.4 578.6,928.7 580.6,929.0 582.6,929.3 584.6,929.6 586.6,929.9 588.6,930.2 590.6,930.4 592.6,930.7 594.6,931.0 596.6,931.3 598.6,931.6 600.6,931.9 602.6,932.2 604.6,932.6 606.6,932.9 608.6,933.2 610.6,933.5 612.6,933.9 614.6,934.2 616.6,934.5 618.6,934.8 620.6,935.1 622.6,935.4 624.6,935.6 626.6,935.9 628.6,936.1 630.6,936.4 632.6,936.6 634.6,936.8 636.6,937.1 638.6,937.3 640.6,937.5 642.6,937.7 644.6,937.9 646.6,938.1 648.6,938.4 650.6,938.6 652.6,938.8 654.6,939.0 656.6,939.2 658.6,939.4 660.6,939.6 662.6,939.8 664.6,940.0 666.6,940.2 668.6,940.4 670.6,940.5 672.6,940.7 674.6,940.9 676.6,941.0 678.6,941.2 680.6,941.4 682.6,941.5 684.6,941.7 686.6,941.9 688.6,942.0 690.6,942.1 692.6,942.3 694.6,942.4 696.6,942.4 698.6,942.5 700.6,942.5 702.6,942.5 704.6,942.5 706.6,942.5 708.6,942.5 710.6,942.5 712.6,942.5 714.6,942.5 716.6,942.5 718.6,942.5 720.6,942.5 722.6,942.5 724.6,942.5 726.6,942.5 728.6,942.5 730.6,942.5 732.6,942.5 734.6,942.5 736.6,942.5 738.6,942.5 740.6,942.5 742.6,942.5 744.6,942.5 746.6,942.5 748.6,942.5 750.6,942.5 752.6,942.5 754.6,942.5 756.6,942.5 758.6,942.5 760.6,942.5 762.6,942.5 764.6,942.5 766.6,942.5 768.6,942.5 770.6,942.5 772.6,942.5 774.6,942.5 776.6,942.5 778.6,942.5 780.6,942.5 782.6,942.5 784.6,942.5 786.6,942.5 788.6,942.5 790.6,942.5 792.6,942.4 794.6,942.3 796.6,942.1 798.6,942.0 800.6,941.8 802.6,941.6 804.6,941.4 806.6,941.2 808.6,940.9 810.6,940.7 812.6,940.5 814.6,940.3 816.6,940.0 818.6,939.8 820.6,939.5 822.6,939.2 824.6,938.9 826.6,938.6 828.6,938.2 830.6,937.9 832.6,937.6 834.6,937.3 836.6,937.0 838.6,936.7 840.6,936.4 842.6,936.0 844.6,935.6 846.6,935.3 848.6,934.8 850.6,934.4 852.6,933.9 854.6,933.4 856.6,932.9 858.6,932.4 860.6,931.9 862.6,931.3 864.6,930.8 866.6,930.2 868.6,929.7 870.6,929.2 872.6,928.7 874.6,928.2 876.6,927.8 878.6,927.3 880.6,926.8 882.6,926.3 884.6,925.9 886.6,925.4 888.6,924.9 890.6,924.4 892.6,923.8 894.6,923.3 896.6,922.7 898.6,922.1 900.6,921.5 902.6,920.9 904.6,920.2 906.6,919.6 908.6,919.0 910.6,918.5 912.6,918.0 914.6,917.5 916.6,917.0 918.6,916.4 920.6,915.9 922.6,915.3 924.6,914.6 926.6,914.0 928.6,913.4 930.6,913.0 932.6,912.7 934.6,912.4 936.6,912.1 938.6,911.8 940.6,911.5 942.6,911.3 944.6,911.0 946.6,910.8 948.6,910.6 950.6,910.4 952.6,910.2 954.6,910.0 956.6,909.9 958.6,909.7 960.6,909.5 962.6,909.4 964.6,909.2 966.6,909.0 968.6,908.9 970.6,908.7 972.6,908.6 974.6,908.5 976.6,908.3 978.6,908.2 980.6,908.0 982.6,907.9 984.6,907.8 986.6,907.7 988.6,907.6 990.6,907.5 992.6,907.4 994.6,907.3 996.6,907.2 998.6,907.1 1000.6,907.0 1002.6,906.9 1004.6,906.8 1006.6,906.8 1008.6,906.7 1010.6,906.6 1012.6,906.5 1014.6,906.4 1016.6,906.4 1018.6,906.3 1020.6,906.2 1022.6,906.2 1024.6,906.1 1026.6,906.1 1028.6,906.0 1030.6,906.0 1032.6,906.0 1034.6,905.9 1036.6,905.9 1038.6,905.8 1040.6,905.7 1042.6,905.6 1044.6,905.5 1046.6,905.4 1048.6,905.2 1050.6,905.1 1052.6,904.8 1054.6,904.6 1056.6,904.3 1058.6,904.0 1060.6,903.6 1062.6,903.1 1064.6,902.6 1066.6,902.0 1068.6,901.3 1070.6,900.5 1072.6,899.5 1074.6,898.5 1076.6,897.3 1078.6,895.9 1080.6,894.4 1082.6,892.7 1084.6,890.7 1086.6,888.5 1088.6,886.1 1090.6,883.4 1092.6,880.3 1094.6,877.0 1096.6,873.2 1098.6,869.1 1100.6,864.6 1102.6,859.6 1104.6,854.1 1106.6,848.1 1108.6,841.5 1110.6,834.4 1112.6,826.6 1114.6,818.1 1116.6,809.0 1118.6,799.1 1120.6,788.5 1122.6,777.3 1124.6,765.4 1126.6,753.0 1128.6,740.0 1130.6,726.7 1132.6,713.1 1134.6,699.2 1136.6,685.1 1138.6,671.0 1140.6,656.9 1142.6,642.7 1144.6,628.6 1146.6,614.6 1148.6,600.8 1150.6,587.1 1152.6,573.7 1154.6,560.5 1156.6,547.8 1158.6,535.4 1160.6,523.5 1162.6,512.1 1164.6,501.3 1166.6,491.2 1168.6,481.8 1170.6,473.2 1172.6,465.4 1174.6,458.5 1176.6,452.6 1178.6,447.5 1180.6,443.5 1182.6,440.5 1184.6,438.6 1186.6,437.7 1187.3,437.6 1189.3,438.1 1191.3,439.6 1193.3,441.9 1195.3,444.8 1197.3,448.2 1199.3,451.7 1201.3,455.8 1203.3,461.6 1205.3,468.6 1207.3,476.0 1209.3,483.5 1211.3,491.7 1213.3,500.0 1215.3,507.8 1217.3,515.4 1219.3,523.2 1221.3,531.8 1223.3,541.0 1225.3,550.1 1227.3,559.1 1229.3,567.6 1231.3,574.8 1233.3,581.0 1235.3,587.8 1237.3,597.2 1239.3,607.9 1241.3,615.5 1243.3,621.8 1245.3,628.1 1247.3,635.0 1249.3,642.1 1251.3,649.1 1253.3,655.7 1255.3,661.9 1257.3,668.9 1259.3,678.6 1261.3,687.9 1263.3,693.5 1265.3,698.0 1267.3,701.9 1269.3,705.6 1271.3,709.6 1273.3,714.0 1275.3,718.4 1277.3,722.8 1279.3,726.9 1281.3,730.6 1283.3,734.1 1285.3,737.3 1287.3,740.4 1289.3,743.1 1291.3,745.6 1293.3,747.9 1295.3,750.1 1297.3,752.0 1299.3,753.5 1301.3,754.5 1303.3,755.3 1305.3,756.0 1307.3,756.5 1309.3,756.8 1311.3,756.9 1313.3,756.5 1315.3,755.7 1317.3,754.6 1319.3,753.5 1321.3,752.4 1323.3,751.3 1325.3,749.9 1327.3,748.5 1329.3,747.0 1331.3,745.5 1333.3,743.9 1335.3,742.3 1337.3,740.7 1339.3,738.9 1341.3,737.1 1343.3,735.3 1345.3,733.5 1347.3,731.9 1349.3,730.3 1351.3,728.8 1353.3,727.3 1355.3,725.9 1357.3,724.5 1359.3,723.1 1361.3,721.8 1363.3,720.5 1365.3,719.3" fill="none" stroke="#0a0a0a" stroke-width="1.5" stroke-dasharray="3 7" stroke-linejoin="round"/>
</g>
<g id="c6">
<line x1="210.6" y1="1003.0" x2="1336.3" y2="1003.0" stroke="#76806e" stroke-width="1.6" />
<polygon points="210.6,1003.0 210.6,951.1 212.6,951.2 214.6,951.3 216.6,951.4 218.6,951.5 220.6,951.7 222.6,951.9 224.6,952.2 226.6,952.6 228.6,953.0 230.6,953.3 232.6,953.7 234.6,954.0 236.6,954.2 238.6,954.3 240.6,954.3 242.6,954.2 244.6,954.0 246.6,953.8 248.6,953.5 250.6,953.2 252.6,952.9 254.6,952.6 256.6,952.2 258.6,951.9 260.6,951.4 262.6,950.9 264.6,950.3 266.6,949.7 268.6,949.1 270.6,948.6 272.6,948.3 274.6,948.0 276.6,947.8 278.6,947.6 280.6,947.3 282.6,947.2 284.6,947.0 286.6,946.9 288.6,946.8 290.6,946.7 292.6,946.7 294.6,946.7 296.6,946.8 298.6,946.9 300.6,946.9 302.6,947.0 304.6,947.2 306.6,947.3 308.6,947.4 310.6,947.6 312.6,947.7 314.6,947.9 316.6,948.1 318.6,948.3 320.6,948.4 322.6,948.6 324.6,948.8 326.6,949.0 328.6,949.2 330.6,949.4 332.6,949.7 334.6,950.0 336.6,950.3 338.6,950.6 340.6,950.9 342.6,951.2 344.6,951.5 346.6,951.8 348.6,952.1 350.6,952.3 352.6,952.6 354.6,952.8 356.6,953.1 358.6,953.3 360.6,953.6 362.6,953.9 364.6,954.1 366.6,954.4 368.6,954.6 370.6,954.9 372.6,955.1 374.6,955.4 376.6,955.6 378.6,955.9 380.6,956.1 382.6,956.4 384.6,956.7 386.6,956.9 388.6,957.2 390.6,957.5 392.6,957.8 394.6,958.1 396.6,958.3 398.6,958.6 400.6,958.9 402.6,959.2 404.6,959.5 406.6,959.8 408.6,960.1 410.6,960.4 412.6,960.7 414.6,961.0 416.6,961.3 418.6,961.6 420.6,961.9 422.6,962.3 424.6,962.6 426.6,962.9 428.6,963.2 430.6,963.6 432.6,963.9 434.6,964.2 436.6,964.6 438.6,964.9 440.6,965.3 442.6,965.6 444.6,966.0 446.6,966.3 448.6,966.7 450.6,967.0 452.6,967.4 454.6,967.7 456.6,968.0 458.6,968.4 460.6,968.7 462.6,969.0 464.6,969.4 466.6,969.7 468.6,970.0 470.6,970.3 472.6,970.7 474.6,971.0 476.6,971.3 478.6,971.6 480.6,972.0 482.6,972.3 484.6,972.6 486.6,973.0 488.6,973.3 490.6,973.6 492.6,974.0 494.6,974.4 496.6,974.7 498.6,975.1 500.6,975.5 502.6,975.8 504.6,976.2 506.6,976.6 508.6,977.0 510.6,977.4 512.6,977.7 514.6,978.1 516.6,978.5 518.6,978.8 520.6,979.2 522.6,979.5 524.6,979.9 526.6,980.2 528.6,980.6 530.6,980.9 532.6,981.2 534.6,981.5 536.6,981.8 538.6,982.0 540.6,982.3 542.6,982.5 544.6,982.8 546.6,983.0 548.6,983.3 550.6,983.5 552.6,983.8 554.6,984.0 556.6,984.3 558.6,984.6 560.6,984.8 562.6,985.1 564.6,985.4 566.6,985.7 568.6,986.0 570.6,986.3 572.6,986.6 574.6,986.8 576.6,987.1 578.6,987.3 580.6,987.6 582.6,987.8 584.6,988.0 586.6,988.3 588.6,988.5 590.6,988.7 592.6,988.9 594.6,989.2 596.6,989.4 598.6,989.6 600.6,989.9 602.6,990.1 604.6,990.4 606.6,990.6 608.6,990.9 610.6,991.1 612.6,991.4 614.6,991.6 616.6,991.8 618.6,992.0 620.6,992.2 622.6,992.4 624.6,992.6 626.6,992.7 628.6,992.9 630.6,993.0 632.6,993.2 634.6,993.3 636.6,993.4 638.6,993.6 640.6,993.7 642.6,993.8 644.6,993.9 646.6,994.0 648.6,994.1 650.6,994.3 652.6,994.4 654.6,994.5 656.6,994.6 658.6,994.7 660.6,994.8 662.6,994.9 664.6,995.0 666.6,995.1 668.6,995.2 670.6,995.3 672.6,995.4 674.6,995.5 676.6,995.6 678.6,995.7 680.6,995.9 682.6,996.0 684.6,996.1 686.6,996.2 688.6,996.3 690.6,996.4 692.6,996.4 694.6,996.5 696.6,996.6 698.6,996.6 700.6,996.7 702.6,996.7 704.6,996.8 706.6,996.8 708.6,996.8 710.6,996.8 712.6,996.8 714.6,996.8 716.6,996.8 718.6,996.8 720.6,996.8 722.6,996.8 724.6,996.8 726.6,996.8 728.6,996.8 730.6,996.8 732.6,996.8 734.6,996.8 736.6,996.8 738.6,996.8 740.6,996.8 742.6,996.7 744.6,996.7 746.6,996.6 748.6,996.5 750.6,996.4 752.6,996.2 754.6,996.1 756.6,995.9 758.6,995.8 760.6,995.6 762.6,995.5 764.6,995.3 766.6,995.2 768.6,995.0 770.6,994.9 772.6,994.7 774.6,994.5 776.6,994.4 778.6,994.2 780.6,994.0 782.6,993.8 784.6,993.6 786.6,993.4 788.6,993.2 790.6,993.0 792.6,992.8 794.6,992.5 796.6,992.3 798.6,992.0 800.6,991.7 802.6,991.3 804.6,990.9 806.6,990.6 808.6,990.2 810.6,989.8 812.6,989.5 814.6,989.1 816.6,988.8 818.6,988.5 820.6,988.1 822.6,987.8 824.6,987.4 826.6,987.0 828.6,986.6 830.6,986.2 832.6,985.8 834.6,985.3 836.6,984.8 838.6,984.3 840.6,983.9 842.6,983.4 844.6,982.9 846.6,982.3 848.6,981.8 850.6,981.4 852.6,980.9 854.6,980.4 856.6,980.0 858.6,979.5 860.6,979.1 862.6,978.6 864.6,978.2 866.6,977.8 868.6,977.3 870.6,976.9 872.6,976.4 874.6,976.0 876.6,975.5 878.6,974.9 880.6,974.3 882.6,973.8 884.6,973.3 886.6,972.8 888.6,972.4 890.6,972.0 892.6,971.6 894.6,971.3 896.6,970.9 898.6,970.5 900.6,970.0 902.6,969.4 904.6,968.9 906.6,968.4 908.6,967.9 910.6,967.5 912.6,967.2 914.6,966.8 916.6,966.5 918.6,966.2 920.6,965.9 922.6,965.7 924.6,965.5 926.6,965.3 928.6,965.1 930.6,965.0 932.6,964.8 934.6,964.7 936.6,964.5 938.6,964.4 940.6,964.3 942.6,964.2 944.6,964.1 946.6,964.0 948.6,963.9 950.6,963.8 952.6,963.7 954.6,963.6 956.6,963.6 958.6,963.5 960.6,963.4 962.6,963.4 964.6,963.3 966.6,963.3 968.6,963.2 970.6,963.1 972.6,963.1 974.6,963.0 976.6,963.0 978.6,962.9 980.6,962.9 982.6,962.8 984.6,962.8 986.6,962.7 988.6,962.7 990.6,962.7 992.6,962.6 994.6,962.6 996.6,962.6 998.6,962.5 1000.6,962.5 1002.6,962.5 1004.6,962.4 1006.6,962.4 1008.6,962.3 1010.6,962.2 1012.6,962.1 1014.6,962.0 1016.6,961.9 1018.6,961.7 1020.6,961.6 1022.6,961.4 1024.6,961.1 1026.6,960.8 1028.6,960.5 1030.6,960.1 1032.6,959.7 1034.6,959.2 1036.6,958.6 1038.6,957.9 1040.6,957.1 1042.6,956.2 1044.6,955.2 1046.6,954.1 1048.6,952.8 1050.6,951.3 1052.6,949.6 1054.6,947.8 1056.6,945.7 1058.6,943.3 1060.6,940.7 1062.6,937.8 1064.6,934.6 1066.6,931.0 1068.6,927.1 1070.6,922.8 1072.6,918.0 1074.6,912.8 1076.6,907.1 1078.6,900.8 1080.6,894.0 1082.6,886.6 1084.6,878.6 1086.6,869.9 1088.6,860.6 1090.6,850.6 1092.6,840.0 1094.6,828.9 1096.6,817.2 1098.6,805.1 1100.6,792.6 1102.6,779.9 1104.6,767.0 1106.6,753.9 1108.6,740.8 1110.6,727.7 1112.6,714.6 1114.6,701.6 1116.6,688.7 1118.6,675.9 1120.6,663.3 1122.6,650.9 1124.6,638.8 1126.6,627.1 1128.6,615.7 1130.6,604.9 1132.6,594.5 1134.6,584.7 1136.6,575.5 1138.6,567.0 1140.6,559.3 1142.6,552.3 1144.6,546.2 1146.6,540.9 1148.6,536.5 1150.6,533.1 1152.6,530.6 1154.6,529.0 1156.6,528.5 1156.7,528.5 1158.7,529.9 1160.7,531.7 1162.7,533.7 1164.7,536.0 1166.7,538.5 1168.7,540.9 1170.7,543.3 1172.7,546.4 1174.7,550.6 1176.7,557.3 1178.7,574.3 1180.7,580.7 1182.7,584.8 1184.7,588.8 1186.7,594.8 1188.7,604.0 1190.7,613.3 1192.7,621.2 1194.7,628.8 1196.7,636.5 1198.7,643.3 1200.7,648.9 1202.7,654.3 1204.7,661.4 1206.7,671.2 1208.7,679.3 1210.7,685.1 1212.7,690.6 1214.7,697.0 1216.7,705.0 1218.7,712.6 1220.7,718.3 1222.7,723.2 1224.7,727.8 1226.7,732.8 1228.7,738.6 1230.7,744.8 1232.7,750.8 1234.7,756.3 1236.7,761.5 1238.7,766.5 1240.7,771.2 1242.7,775.8 1244.7,780.0 1246.7,784.0 1248.7,787.7 1250.7,791.0 1252.7,793.7 1254.7,796.3 1256.7,798.6 1258.7,800.6 1260.7,802.6 1262.7,804.4 1264.7,806.1 1266.7,807.5 1268.7,808.5 1270.7,809.5 1272.7,810.3 1274.7,811.0 1276.7,811.4 1278.7,811.5 1280.7,811.3 1282.7,811.0 1284.7,810.5 1286.7,810.0 1288.7,809.3 1290.7,808.5 1292.7,807.1 1294.7,805.4 1296.7,803.6 1298.7,801.8 1300.7,800.2 1302.7,798.7 1304.7,797.1 1306.7,795.6 1308.7,794.1 1310.7,792.6 1312.7,791.0 1314.7,789.4 1316.7,787.8 1318.7,786.1 1320.7,784.4 1322.7,782.6 1324.7,780.8 1326.7,779.0 1328.7,777.1 1330.7,775.2 1332.7,773.3 1334.7,771.3 1335.3,770.7 1335.3,1003.0" fill="url(#g6)" fill-opacity="0.5" stroke="none"/>
<line x1="211.0" y1="951.1" x2="211.0" y2="1003.0" stroke="#8a9084" stroke-width="2" />
<line x1="1335.9" y1="770.7" x2="1335.9" y2="1003.0" stroke="#a4b6a0" stroke-width="1.8" />
<polyline points="210.6,951.1 212.6,951.2 214.6,951.3 216.6,951.4 218.6,951.5 220.6,951.7 222.6,951.9 224.6,952.2 226.6,952.6 228.6,953.0 230.6,953.3 232.6,953.7 234.6,954.0 236.6,954.2 238.6,954.3 240.6,954.3 242.6,954.2 244.6,954.0 246.6,953.8 248.6,953.5 250.6,953.2 252.6,952.9 254.6,952.6 256.6,952.2 258.6,951.9 260.6,951.4 262.6,950.9 264.6,950.3 266.6,949.7 268.6,949.1 270.6,948.6 272.6,948.3 274.6,948.0 276.6,947.8 278.6,947.6 280.6,947.3 282.6,947.2 284.6,947.0 286.6,946.9 288.6,946.8 290.6,946.7 292.6,946.7 294.6,946.7 296.6,946.8 298.6,946.9 300.6,946.9 302.6,947.0 304.6,947.2 306.6,947.3 308.6,947.4 310.6,947.6 312.6,947.7 314.6,947.9 316.6,948.1 318.6,948.3 320.6,948.4 322.6,948.6 324.6,948.8 326.6,949.0 328.6,949.2 330.6,949.4 332.6,949.7 334.6,950.0 336.6,950.3 338.6,950.6 340.6,950.9 342.6,951.2 344.6,951.5 346.6,951.8 348.6,952.1 350.6,952.3 352.6,952.6 354.6,952.8 356.6,953.1 358.6,953.3 360.6,953.6 362.6,953.9 364.6,954.1 366.6,954.4 368.6,954.6 370.6,954.9 372.6,955.1 374.6,955.4 376.6,955.6 378.6,955.9 380.6,956.1 382.6,956.4 384.6,956.7 386.6,956.9 388.6,957.2 390.6,957.5 392.6,957.8 394.6,958.1 396.6,958.3 398.6,958.6 400.6,958.9 402.6,959.2 404.6,959.5 406.6,959.8 408.6,960.1 410.6,960.4 412.6,960.7 414.6,961.0 416.6,961.3 418.6,961.6 420.6,961.9 422.6,962.3 424.6,962.6 426.6,962.9 428.6,963.2 430.6,963.6 432.6,963.9 434.6,964.2 436.6,964.6 438.6,964.9 440.6,965.3 442.6,965.6 444.6,966.0 446.6,966.3 448.6,966.7 450.6,967.0 452.6,967.4 454.6,967.7 456.6,968.0 458.6,968.4 460.6,968.7 462.6,969.0 464.6,969.4 466.6,969.7 468.6,970.0 470.6,970.3 472.6,970.7 474.6,971.0 476.6,971.3 478.6,971.6 480.6,972.0 482.6,972.3 484.6,972.6 486.6,973.0 488.6,973.3 490.6,973.6 492.6,974.0 494.6,974.4 496.6,974.7 498.6,975.1 500.6,975.5 502.6,975.8 504.6,976.2 506.6,976.6 508.6,977.0 510.6,977.4 512.6,977.7 514.6,978.1 516.6,978.5 518.6,978.8 520.6,979.2 522.6,979.5 524.6,979.9 526.6,980.2 528.6,980.6 530.6,980.9 532.6,981.2 534.6,981.5 536.6,981.8 538.6,982.0 540.6,982.3 542.6,982.5 544.6,982.8 546.6,983.0 548.6,983.3 550.6,983.5 552.6,983.8 554.6,984.0 556.6,984.3 558.6,984.6 560.6,984.8 562.6,985.1 564.6,985.4 566.6,985.7 568.6,986.0 570.6,986.3 572.6,986.6 574.6,986.8 576.6,987.1 578.6,987.3 580.6,987.6 582.6,987.8 584.6,988.0 586.6,988.3 588.6,988.5 590.6,988.7 592.6,988.9 594.6,989.2 596.6,989.4 598.6,989.6 600.6,989.9 602.6,990.1 604.6,990.4 606.6,990.6 608.6,990.9 610.6,991.1 612.6,991.4 614.6,991.6 616.6,991.8 618.6,992.0 620.6,992.2 622.6,992.4 624.6,992.6 626.6,992.7 628.6,992.9 630.6,993.0 632.6,993.2 634.6,993.3 636.6,993.4 638.6,993.6 640.6,993.7 642.6,993.8 644.6,993.9 646.6,994.0 648.6,994.1 650.6,994.3 652.6,994.4 654.6,994.5 656.6,994.6 658.6,994.7 660.6,994.8 662.6,994.9 664.6,995.0 666.6,995.1 668.6,995.2 670.6,995.3 672.6,995.4 674.6,995.5 676.6,995.6 678.6,995.7 680.6,995.9 682.6,996.0 684.6,996.1 686.6,996.2 688.6,996.3 690.6,996.4 692.6,996.4 694.6,996.5 696.6,996.6 698.6,996.6 700.6,996.7 702.6,996.7 704.6,996.8 706.6,996.8 708.6,996.8 710.6,996.8 712.6,996.8 714.6,996.8 716.6,996.8 718.6,996.8 720.6,996.8 722.6,996.8 724.6,996.8 726.6,996.8 728.6,996.8 730.6,996.8 732.6,996.8 734.6,996.8 736.6,996.8 738.6,996.8 740.6,996.8 742.6,996.7 744.6,996.7 746.6,996.6 748.6,996.5 750.6,996.4 752.6,996.2 754.6,996.1 756.6,995.9 758.6,995.8 760.6,995.6 762.6,995.5 764.6,995.3 766.6,995.2 768.6,995.0 770.6,994.9 772.6,994.7 774.6,994.5 776.6,994.4 778.6,994.2 780.6,994.0 782.6,993.8 784.6,993.6 786.6,993.4 788.6,993.2 790.6,993.0 792.6,992.8 794.6,992.5 796.6,992.3 798.6,992.0 800.6,991.7 802.6,991.3 804.6,990.9 806.6,990.6 808.6,990.2 810.6,989.8 812.6,989.5 814.6,989.1 816.6,988.8 818.6,988.5 820.6,988.1 822.6,987.8 824.6,987.4 826.6,987.0 828.6,986.6 830.6,986.2 832.6,985.8 834.6,985.3 836.6,984.8 838.6,984.3 840.6,983.9 842.6,983.4 844.6,982.9 846.6,982.3 848.6,981.8 850.6,981.4 852.6,980.9 854.6,980.4 856.6,980.0 858.6,979.5 860.6,979.1 862.6,978.6 864.6,978.2 866.6,977.8 868.6,977.3 870.6,976.9 872.6,976.4 874.6,976.0 876.6,975.5 878.6,974.9 880.6,974.3 882.6,973.8 884.6,973.3 886.6,972.8 888.6,972.4 890.6,972.0 892.6,971.6 894.6,971.3 896.6,970.9 898.6,970.5 900.6,970.0 902.6,969.4 904.6,968.9 906.6,968.4 908.6,967.9 910.6,967.5 912.6,967.2 914.6,966.8 916.6,966.5 918.6,966.2 920.6,965.9 922.6,965.7 924.6,965.5 926.6,965.3 928.6,965.1 930.6,965.0 932.6,964.8 934.6,964.7 936.6,964.5 938.6,964.4 940.6,964.3 942.6,964.2 944.6,964.1 946.6,964.0 948.6,963.9 950.6,963.8 952.6,963.7 954.6,963.6 956.6,963.6 958.6,963.5 960.6,963.4 962.6,963.4 964.6,963.3 966.6,963.3 968.6,963.2 970.6,963.1 972.6,963.1 974.6,963.0 976.6,963.0 978.6,962.9 980.6,962.9 982.6,962.8 984.6,962.8 986.6,962.7 988.6,962.7 990.6,962.7 992.6,962.6 994.6,962.6 996.6,962.6 998.6,962.5 1000.6,962.5 1002.6,962.5 1004.6,962.4 1006.6,962.4 1008.6,962.3 1010.6,962.2 1012.6,962.1 1014.6,962.0 1016.6,961.9 1018.6,961.7 1020.6,961.6 1022.6,961.4 1024.6,961.1 1026.6,960.8 1028.6,960.5 1030.6,960.1 1032.6,959.7 1034.6,959.2 1036.6,958.6 1038.6,957.9 1040.6,957.1 1042.6,956.2 1044.6,955.2 1046.6,954.1 1048.6,952.8 1050.6,951.3 1052.6,949.6 1054.6,947.8 1056.6,945.7 1058.6,943.3 1060.6,940.7 1062.6,937.8 1064.6,934.6 1066.6,931.0 1068.6,927.1 1070.6,922.8 1072.6,918.0 1074.6,912.8 1076.6,907.1 1078.6,900.8 1080.6,894.0 1082.6,886.6 1084.6,878.6 1086.6,869.9 1088.6,860.6 1090.6,850.6 1092.6,840.0 1094.6,828.9 1096.6,817.2 1098.6,805.1 1100.6,792.6 1102.6,779.9 1104.6,767.0 1106.6,753.9 1108.6,740.8 1110.6,727.7 1112.6,714.6 1114.6,701.6 1116.6,688.7 1118.6,675.9 1120.6,663.3 1122.6,650.9 1124.6,638.8 1126.6,627.1 1128.6,615.7 1130.6,604.9 1132.6,594.5 1134.6,584.7 1136.6,575.5 1138.6,567.0 1140.6,559.3 1142.6,552.3 1144.6,546.2 1146.6,540.9 1148.6,536.5 1150.6,533.1 1152.6,530.6 1154.6,529.0 1156.6,528.5 1156.7,528.5 1158.7,529.9 1160.7,531.7 1162.7,533.7 1164.7,536.0 1166.7,538.5 1168.7,540.9 1170.7,543.3 1172.7,546.4 1174.7,550.6 1176.7,557.3 1178.7,574.3 1180.7,580.7 1182.7,584.8 1184.7,588.8 1186.7,594.8 1188.7,604.0 1190.7,613.3 1192.7,621.2 1194.7,628.8 1196.7,636.5 1198.7,643.3 1200.7,648.9 1202.7,654.3 1204.7,661.4 1206.7,671.2 1208.7,679.3 1210.7,685.1 1212.7,690.6 1214.7,697.0 1216.7,705.0 1218.7,712.6 1220.7,718.3 1222.7,723.2 1224.7,727.8 1226.7,732.8 1228.7,738.6 1230.7,744.8 1232.7,750.8 1234.7,756.3 1236.7,761.5 1238.7,766.5 1240.7,771.2 1242.7,775.8 1244.7,780.0 1246.7,784.0 1248.7,787.7 1250.7,791.0 1252.7,793.7 1254.7,796.3 1256.7,798.6 1258.7,800.6 1260.7,802.6 1262.7,804.4 1264.7,806.1 1266.7,807.5 1268.7,808.5 1270.7,809.5 1272.7,810.3 1274.7,811.0 1276.7,811.4 1278.7,811.5 1280.7,811.3 1282.7,811.0 1284.7,810.5 1286.7,810.0 1288.7,809.3 1290.7,808.5 1292.7,807.1 1294.7,805.4 1296.7,803.6 1298.7,801.8 1300.7,800.2 1302.7,798.7 1304.7,797.1 1306.7,795.6 1308.7,794.1 1310.7,792.6 1312.7,791.0 1314.7,789.4 1316.7,787.8 1318.7,786.1 1320.7,784.4 1322.7,782.6 1324.7,780.8 1326.7,779.0 1328.7,777.1 1330.7,775.2 1332.7,773.3 1334.7,771.3 1335.3,770.7" fill="none" stroke="#0a0a0a" stroke-width="1.5" stroke-dasharray="3 7" stroke-linejoin="round"/>
</g>
<g id="c5">
<line x1="180.6" y1="1055.2" x2="1306.3" y2="1055.2" stroke="#a4ac9c" stroke-width="1.6" />
<polygon points="180.6,1055.2 180.6,1005.2 182.6,1007.1 184.6,1009.0 186.6,1010.8 188.6,1012.3 190.6,1013.5 192.6,1014.2 194.6,1014.4 196.6,1014.3 198.6,1014.0 200.6,1013.5 202.6,1013.0 204.6,1012.3 206.6,1011.6 208.6,1010.8 210.6,1010.0 212.6,1009.1 214.6,1008.3 216.6,1007.6 218.6,1006.9 220.6,1006.2 222.6,1005.7 224.6,1005.4 226.6,1005.1 228.6,1005.0 230.6,1004.8 232.6,1004.7 234.6,1004.5 236.6,1004.4 238.6,1004.3 240.6,1004.3 242.6,1004.3 244.6,1004.3 246.6,1004.3 248.6,1004.4 250.6,1004.4 252.6,1004.4 254.6,1004.5 256.6,1004.5 258.6,1004.6 260.6,1004.6 262.6,1004.7 264.6,1004.7 266.6,1004.8 268.6,1004.9 270.6,1004.9 272.6,1005.0 274.6,1005.1 276.6,1005.2 278.6,1005.3 280.6,1005.4 282.6,1005.6 284.6,1005.7 286.6,1005.9 288.6,1006.0 290.6,1006.2 292.6,1006.3 294.6,1006.5 296.6,1006.7 298.6,1006.8 300.6,1007.0 302.6,1007.1 304.6,1007.3 306.6,1007.4 308.6,1007.6 310.6,1007.8 312.6,1007.9 314.6,1008.1 316.6,1008.2 318.6,1008.4 320.6,1008.5 322.6,1008.7 324.6,1008.9 326.6,1009.0 328.6,1009.2 330.6,1009.4 332.6,1009.6 334.6,1009.8 336.6,1009.9 338.6,1010.1 340.6,1010.3 342.6,1010.5 344.6,1010.8 346.6,1011.0 348.6,1011.2 350.6,1011.4 352.6,1011.7 354.6,1011.9 356.6,1012.2 358.6,1012.5 360.6,1012.8 362.6,1013.0 364.6,1013.3 366.6,1013.6 368.6,1013.9 370.6,1014.2 372.6,1014.5 374.6,1014.7 376.6,1015.0 378.6,1015.3 380.6,1015.5 382.6,1015.8 384.6,1016.1 386.6,1016.4 388.6,1016.6 390.6,1016.9 392.6,1017.2 394.6,1017.5 396.6,1017.8 398.6,1018.0 400.6,1018.3 402.6,1018.6 404.6,1018.9 406.6,1019.2 408.6,1019.4 410.6,1019.7 412.6,1020.0 414.6,1020.3 416.6,1020.5 418.6,1020.8 420.6,1021.1 422.6,1021.4 424.6,1021.6 426.6,1021.9 428.6,1022.2 430.6,1022.5 432.6,1022.8 434.6,1023.0 436.6,1023.3 438.6,1023.6 440.6,1023.9 442.6,1024.2 444.6,1024.5 446.6,1024.8 448.6,1025.2 450.6,1025.5 452.6,1025.9 454.6,1026.2 456.6,1026.6 458.6,1027.0 460.6,1027.4 462.6,1027.8 464.6,1028.1 466.6,1028.5 468.6,1028.9 470.6,1029.3 472.6,1029.6 474.6,1029.9 476.6,1030.3 478.6,1030.6 480.6,1030.8 482.6,1031.1 484.6,1031.4 486.6,1031.6 488.6,1031.9 490.6,1032.1 492.6,1032.4 494.6,1032.6 496.6,1032.9 498.6,1033.1 500.6,1033.4 502.6,1033.6 504.6,1033.9 506.6,1034.2 508.6,1034.5 510.6,1034.8 512.6,1035.1 514.6,1035.5 516.6,1035.9 518.6,1036.3 520.6,1036.7 522.6,1037.0 524.6,1037.4 526.6,1037.8 528.6,1038.1 530.6,1038.4 532.6,1038.7 534.6,1039.0 536.6,1039.2 538.6,1039.5 540.6,1039.7 542.6,1040.0 544.6,1040.2 546.6,1040.4 548.6,1040.7 550.6,1040.9 552.6,1041.2 554.6,1041.4 556.6,1041.7 558.6,1041.9 560.6,1042.2 562.6,1042.4 564.6,1042.7 566.6,1042.9 568.6,1043.2 570.6,1043.4 572.6,1043.6 574.6,1043.8 576.6,1044.0 578.6,1044.2 580.6,1044.3 582.6,1044.5 584.6,1044.7 586.6,1044.9 588.6,1045.0 590.6,1045.2 592.6,1045.3 594.6,1045.5 596.6,1045.6 598.6,1045.8 600.6,1045.9 602.6,1046.1 604.6,1046.2 606.6,1046.3 608.6,1046.4 610.6,1046.6 612.6,1046.7 614.6,1046.8 616.6,1046.9 618.6,1047.0 620.6,1047.1 622.6,1047.2 624.6,1047.4 626.6,1047.5 628.6,1047.6 630.6,1047.7 632.6,1047.8 634.6,1047.9 636.6,1048.0 638.6,1048.1 640.6,1048.2 642.6,1048.3 644.6,1048.3 646.6,1048.4 648.6,1048.5 650.6,1048.5 652.6,1048.5 654.6,1048.6 656.6,1048.6 658.6,1048.6 660.6,1048.6 662.6,1048.6 664.6,1048.6 666.6,1048.6 668.6,1048.6 670.6,1048.6 672.6,1048.6 674.6,1048.6 676.6,1048.6 678.6,1048.6 680.6,1048.6 682.6,1048.6 684.6,1048.6 686.6,1048.6 688.6,1048.6 690.6,1048.6 692.6,1048.6 694.6,1048.6 696.6,1048.6 698.6,1048.6 700.6,1048.6 702.6,1048.6 704.6,1048.6 706.6,1048.6 708.6,1048.6 710.6,1048.6 712.6,1048.6 714.6,1048.6 716.6,1048.6 718.6,1048.6 720.6,1048.6 722.6,1048.6 724.6,1048.6 726.6,1048.6 728.6,1048.5 730.6,1048.5 732.6,1048.4 734.6,1048.3 736.6,1048.1 738.6,1048.0 740.6,1047.8 742.6,1047.7 744.6,1047.5 746.6,1047.3 748.6,1047.1 750.6,1046.9 752.6,1046.7 754.6,1046.5 756.6,1046.3 758.6,1046.1 760.6,1045.8 762.6,1045.5 764.6,1045.2 766.6,1045.0 768.6,1044.6 770.6,1044.3 772.6,1044.0 774.6,1043.7 776.6,1043.4 778.6,1043.1 780.6,1042.8 782.6,1042.5 784.6,1042.2 786.6,1041.8 788.6,1041.5 790.6,1041.1 792.6,1040.8 794.6,1040.4 796.6,1040.0 798.6,1039.6 800.6,1039.2 802.6,1038.8 804.6,1038.4 806.6,1038.0 808.6,1037.6 810.6,1037.1 812.6,1036.7 814.6,1036.3 816.6,1035.9 818.6,1035.4 820.6,1035.0 822.6,1034.5 824.6,1034.0 826.6,1033.6 828.6,1033.1 830.6,1032.7 832.6,1032.3 834.6,1031.8 836.6,1031.4 838.6,1031.0 840.6,1030.5 842.6,1030.1 844.6,1029.7 846.6,1029.3 848.6,1028.9 850.6,1028.5 852.6,1028.1 854.6,1027.7 856.6,1027.3 858.6,1026.9 860.6,1026.5 862.6,1026.0 864.6,1025.6 866.6,1025.2 868.6,1024.8 870.6,1024.4 872.6,1024.0 874.6,1023.6 876.6,1023.2 878.6,1022.8 880.6,1022.5 882.6,1022.2 884.6,1022.0 886.6,1021.7 888.6,1021.5 890.6,1021.2 892.6,1021.0 894.6,1020.8 896.6,1020.7 898.6,1020.5 900.6,1020.4 902.6,1020.3 904.6,1020.3 906.6,1020.2 908.6,1020.2 910.6,1020.1 912.6,1020.1 914.6,1020.0 916.6,1020.0 918.6,1020.0 920.6,1019.9 922.6,1019.9 924.6,1019.9 926.6,1019.8 928.6,1019.8 930.6,1019.8 932.6,1019.7 934.6,1019.7 936.6,1019.7 938.6,1019.7 940.6,1019.6 942.6,1019.6 944.6,1019.6 946.6,1019.6 948.6,1019.6 950.6,1019.5 952.6,1019.5 954.6,1019.5 956.6,1019.5 958.6,1019.5 960.6,1019.4 962.6,1019.4 964.6,1019.4 966.6,1019.4 968.6,1019.4 970.6,1019.3 972.6,1019.3 974.6,1019.3 976.6,1019.2 978.6,1019.2 980.6,1019.1 982.6,1019.0 984.6,1018.9 986.6,1018.8 988.6,1018.7 990.6,1018.5 992.6,1018.3 994.6,1018.1 996.6,1017.9 998.6,1017.6 1000.6,1017.2 1002.6,1016.8 1004.6,1016.4 1006.6,1015.8 1008.6,1015.2 1010.6,1014.5 1012.6,1013.7 1014.6,1012.8 1016.6,1011.8 1018.6,1010.6 1020.6,1009.3 1022.6,1007.8 1024.6,1006.1 1026.6,1004.2 1028.6,1002.1 1030.6,999.7 1032.6,997.0 1034.6,994.1 1036.6,990.9 1038.6,987.3 1040.6,983.3 1042.6,979.0 1044.6,974.2 1046.6,969.0 1048.6,963.3 1050.6,957.0 1052.6,950.2 1054.6,942.9 1056.6,934.9 1058.6,926.3 1060.6,917.0 1062.6,907.2 1064.6,896.8 1066.6,886.0 1068.6,874.6 1070.6,862.9 1072.6,850.9 1074.6,838.8 1076.6,826.4 1078.6,814.0 1080.6,801.6 1082.6,789.1 1084.6,776.8 1086.6,764.4 1088.6,752.2 1090.6,740.2 1092.6,728.4 1094.6,716.8 1096.6,705.5 1098.6,694.6 1100.6,684.1 1102.6,674.1 1104.6,664.6 1106.6,655.6 1108.6,647.3 1110.6,639.6 1112.6,632.7 1114.6,626.6 1116.6,621.2 1118.6,616.7 1120.6,613.1 1122.6,610.4 1124.6,608.6 1126.6,607.7 1127.5,607.6 1129.5,608.7 1131.5,610.2 1133.5,612.1 1135.5,614.5 1137.5,617.5 1139.5,620.9 1141.5,624.6 1143.5,628.9 1145.5,634.0 1147.5,640.6 1149.5,647.4 1151.5,653.2 1153.5,660.0 1155.5,668.3 1157.5,675.6 1159.5,681.6 1161.5,687.3 1163.5,693.4 1165.5,699.6 1167.5,706.3 1169.5,714.2 1171.5,722.4 1173.5,729.8 1175.5,736.7 1177.5,743.0 1179.5,748.2 1181.5,752.7 1183.5,757.4 1185.5,763.1 1187.5,771.7 1189.5,779.9 1191.5,785.4 1193.5,790.0 1195.5,794.3 1197.5,798.8 1199.5,803.6 1201.5,808.4 1203.5,813.3 1205.5,818.4 1207.5,824.1 1209.5,830.0 1211.5,835.2 1213.5,840.1 1215.5,844.5 1217.5,848.2 1219.5,851.4 1221.5,854.2 1223.5,856.7 1225.5,858.6 1227.5,860.3 1229.5,861.9 1231.5,863.3 1233.5,864.5 1235.5,865.5 1237.5,866.3 1239.5,867.1 1241.5,867.8 1243.5,868.4 1245.5,868.7 1247.5,868.7 1249.5,868.4 1251.5,867.7 1253.5,866.9 1255.5,865.9 1257.5,864.9 1259.5,863.9 1261.5,862.9 1263.5,861.7 1265.5,860.3 1267.5,858.9 1269.5,857.4 1271.5,855.9 1273.5,854.3 1275.5,852.7 1277.5,851.0 1279.5,849.1 1281.5,847.2 1283.5,845.2 1285.5,843.1 1287.5,841.1 1289.5,839.1 1291.5,837.2 1293.5,835.3 1295.5,833.3 1297.5,831.4 1299.5,829.5 1301.5,827.6 1303.5,825.7 1305.3,824.0 1305.3,1055.2" fill="url(#g5)" fill-opacity="0.5" stroke="none"/>
<line x1="181.0" y1="1005.2" x2="181.0" y2="1055.2" stroke="#4e5a46" stroke-width="2" />
<line x1="1305.9" y1="824.0" x2="1305.9" y2="1055.2" stroke="#6f8f6a" stroke-width="1.8" />
<polyline points="180.6,1005.2 182.6,1007.1 184.6,1009.0 186.6,1010.8 188.6,1012.3 190.6,1013.5 192.6,1014.2 194.6,1014.4 196.6,1014.3 198.6,1014.0 200.6,1013.5 202.6,1013.0 204.6,1012.3 206.6,1011.6 208.6,1010.8 210.6,1010.0 212.6,1009.1 214.6,1008.3 216.6,1007.6 218.6,1006.9 220.6,1006.2 222.6,1005.7 224.6,1005.4 226.6,1005.1 228.6,1005.0 230.6,1004.8 232.6,1004.7 234.6,1004.5 236.6,1004.4 238.6,1004.3 240.6,1004.3 242.6,1004.3 244.6,1004.3 246.6,1004.3 248.6,1004.4 250.6,1004.4 252.6,1004.4 254.6,1004.5 256.6,1004.5 258.6,1004.6 260.6,1004.6 262.6,1004.7 264.6,1004.7 266.6,1004.8 268.6,1004.9 270.6,1004.9 272.6,1005.0 274.6,1005.1 276.6,1005.2 278.6,1005.3 280.6,1005.4 282.6,1005.6 284.6,1005.7 286.6,1005.9 288.6,1006.0 290.6,1006.2 292.6,1006.3 294.6,1006.5 296.6,1006.7 298.6,1006.8 300.6,1007.0 302.6,1007.1 304.6,1007.3 306.6,1007.4 308.6,1007.6 310.6,1007.8 312.6,1007.9 314.6,1008.1 316.6,1008.2 318.6,1008.4 320.6,1008.5 322.6,1008.7 324.6,1008.9 326.6,1009.0 328.6,1009.2 330.6,1009.4 332.6,1009.6 334.6,1009.8 336.6,1009.9 338.6,1010.1 340.6,1010.3 342.6,1010.5 344.6,1010.8 346.6,1011.0 348.6,1011.2 350.6,1011.4 352.6,1011.7 354.6,1011.9 356.6,1012.2 358.6,1012.5 360.6,1012.8 362.6,1013.0 364.6,1013.3 366.6,1013.6 368.6,1013.9 370.6,1014.2 372.6,1014.5 374.6,1014.7 376.6,1015.0 378.6,1015.3 380.6,1015.5 382.6,1015.8 384.6,1016.1 386.6,1016.4 388.6,1016.6 390.6,1016.9 392.6,1017.2 394.6,1017.5 396.6,1017.8 398.6,1018.0 400.6,1018.3 402.6,1018.6 404.6,1018.9 406.6,1019.2 408.6,1019.4 410.6,1019.7 412.6,1020.0 414.6,1020.3 416.6,1020.5 418.6,1020.8 420.6,1021.1 422.6,1021.4 424.6,1021.6 426.6,1021.9 428.6,1022.2 430.6,1022.5 432.6,1022.8 434.6,1023.0 436.6,1023.3 438.6,1023.6 440.6,1023.9 442.6,1024.2 444.6,1024.5 446.6,1024.8 448.6,1025.2 450.6,1025.5 452.6,1025.9 454.6,1026.2 456.6,1026.6 458.6,1027.0 460.6,1027.4 462.6,1027.8 464.6,1028.1 466.6,1028.5 468.6,1028.9 470.6,1029.3 472.6,1029.6 474.6,1029.9 476.6,1030.3 478.6,1030.6 480.6,1030.8 482.6,1031.1 484.6,1031.4 486.6,1031.6 488.6,1031.9 490.6,1032.1 492.6,1032.4 494.6,1032.6 496.6,1032.9 498.6,1033.1 500.6,1033.4 502.6,1033.6 504.6,1033.9 506.6,1034.2 508.6,1034.5 510.6,1034.8 512.6,1035.1 514.6,1035.5 516.6,1035.9 518.6,1036.3 520.6,1036.7 522.6,1037.0 524.6,1037.4 526.6,1037.8 528.6,1038.1 530.6,1038.4 532.6,1038.7 534.6,1039.0 536.6,1039.2 538.6,1039.5 540.6,1039.7 542.6,1040.0 544.6,1040.2 546.6,1040.4 548.6,1040.7 550.6,1040.9 552.6,1041.2 554.6,1041.4 556.6,1041.7 558.6,1041.9 560.6,1042.2 562.6,1042.4 564.6,1042.7 566.6,1042.9 568.6,1043.2 570.6,1043.4 572.6,1043.6 574.6,1043.8 576.6,1044.0 578.6,1044.2 580.6,1044.3 582.6,1044.5 584.6,1044.7 586.6,1044.9 588.6,1045.0 590.6,1045.2 592.6,1045.3 594.6,1045.5 596.6,1045.6 598.6,1045.8 600.6,1045.9 602.6,1046.1 604.6,1046.2 606.6,1046.3 608.6,1046.4 610.6,1046.6 612.6,1046.7 614.6,1046.8 616.6,1046.9 618.6,1047.0 620.6,1047.1 622.6,1047.2 624.6,1047.4 626.6,1047.5 628.6,1047.6 630.6,1047.7 632.6,1047.8 634.6,1047.9 636.6,1048.0 638.6,1048.1 640.6,1048.2 642.6,1048.3 644.6,1048.3 646.6,1048.4 648.6,1048.5 650.6,1048.5 652.6,1048.5 654.6,1048.6 656.6,1048.6 658.6,1048.6 660.6,1048.6 662.6,1048.6 664.6,1048.6 666.6,1048.6 668.6,1048.6 670.6,1048.6 672.6,1048.6 674.6,1048.6 676.6,1048.6 678.6,1048.6 680.6,1048.6 682.6,1048.6 684.6,1048.6 686.6,1048.6 688.6,1048.6 690.6,1048.6 692.6,1048.6 694.6,1048.6 696.6,1048.6 698.6,1048.6 700.6,1048.6 702.6,1048.6 704.6,1048.6 706.6,1048.6 708.6,1048.6 710.6,1048.6 712.6,1048.6 714.6,1048.6 716.6,1048.6 718.6,1048.6 720.6,1048.6 722.6,1048.6 724.6,1048.6 726.6,1048.6 728.6,1048.5 730.6,1048.5 732.6,1048.4 734.6,1048.3 736.6,1048.1 738.6,1048.0 740.6,1047.8 742.6,1047.7 744.6,1047.5 746.6,1047.3 748.6,1047.1 750.6,1046.9 752.6,1046.7 754.6,1046.5 756.6,1046.3 758.6,1046.1 760.6,1045.8 762.6,1045.5 764.6,1045.2 766.6,1045.0 768.6,1044.6 770.6,1044.3 772.6,1044.0 774.6,1043.7 776.6,1043.4 778.6,1043.1 780.6,1042.8 782.6,1042.5 784.6,1042.2 786.6,1041.8 788.6,1041.5 790.6,1041.1 792.6,1040.8 794.6,1040.4 796.6,1040.0 798.6,1039.6 800.6,1039.2 802.6,1038.8 804.6,1038.4 806.6,1038.0 808.6,1037.6 810.6,1037.1 812.6,1036.7 814.6,1036.3 816.6,1035.9 818.6,1035.4 820.6,1035.0 822.6,1034.5 824.6,1034.0 826.6,1033.6 828.6,1033.1 830.6,1032.7 832.6,1032.3 834.6,1031.8 836.6,1031.4 838.6,1031.0 840.6,1030.5 842.6,1030.1 844.6,1029.7 846.6,1029.3 848.6,1028.9 850.6,1028.5 852.6,1028.1 854.6,1027.7 856.6,1027.3 858.6,1026.9 860.6,1026.5 862.6,1026.0 864.6,1025.6 866.6,1025.2 868.6,1024.8 870.6,1024.4 872.6,1024.0 874.6,1023.6 876.6,1023.2 878.6,1022.8 880.6,1022.5 882.6,1022.2 884.6,1022.0 886.6,1021.7 888.6,1021.5 890.6,1021.2 892.6,1021.0 894.6,1020.8 896.6,1020.7 898.6,1020.5 900.6,1020.4 902.6,1020.3 904.6,1020.3 906.6,1020.2 908.6,1020.2 910.6,1020.1 912.6,1020.1 914.6,1020.0 916.6,1020.0 918.6,1020.0 920.6,1019.9 922.6,1019.9 924.6,1019.9 926.6,1019.8 928.6,1019.8 930.6,1019.8 932.6,1019.7 934.6,1019.7 936.6,1019.7 938.6,1019.7 940.6,1019.6 942.6,1019.6 944.6,1019.6 946.6,1019.6 948.6,1019.6 950.6,1019.5 952.6,1019.5 954.6,1019.5 956.6,1019.5 958.6,1019.5 960.6,1019.4 962.6,1019.4 964.6,1019.4 966.6,1019.4 968.6,1019.4 970.6,1019.3 972.6,1019.3 974.6,1019.3 976.6,1019.2 978.6,1019.2 980.6,1019.1 982.6,1019.0 984.6,1018.9 986.6,1018.8 988.6,1018.7 990.6,1018.5 992.6,1018.3 994.6,1018.1 996.6,1017.9 998.6,1017.6 1000.6,1017.2 1002.6,1016.8 1004.6,1016.4 1006.6,1015.8 1008.6,1015.2 1010.6,1014.5 1012.6,1013.7 1014.6,1012.8 1016.6,1011.8 1018.6,1010.6 1020.6,1009.3 1022.6,1007.8 1024.6,1006.1 1026.6,1004.2 1028.6,1002.1 1030.6,999.7 1032.6,997.0 1034.6,994.1 1036.6,990.9 1038.6,987.3 1040.6,983.3 1042.6,979.0 1044.6,974.2 1046.6,969.0 1048.6,963.3 1050.6,957.0 1052.6,950.2 1054.6,942.9 1056.6,934.9 1058.6,926.3 1060.6,917.0 1062.6,907.2 1064.6,896.8 1066.6,886.0 1068.6,874.6 1070.6,862.9 1072.6,850.9 1074.6,838.8 1076.6,826.4 1078.6,814.0 1080.6,801.6 1082.6,789.1 1084.6,776.8 1086.6,764.4 1088.6,752.2 1090.6,740.2 1092.6,728.4 1094.6,716.8 1096.6,705.5 1098.6,694.6 1100.6,684.1 1102.6,674.1 1104.6,664.6 1106.6,655.6 1108.6,647.3 1110.6,639.6 1112.6,632.7 1114.6,626.6 1116.6,621.2 1118.6,616.7 1120.6,613.1 1122.6,610.4 1124.6,608.6 1126.6,607.7 1127.5,607.6 1129.5,608.7 1131.5,610.2 1133.5,612.1 1135.5,614.5 1137.5,617.5 1139.5,620.9 1141.5,624.6 1143.5,628.9 1145.5,634.0 1147.5,640.6 1149.5,647.4 1151.5,653.2 1153.5,660.0 1155.5,668.3 1157.5,675.6 1159.5,681.6 1161.5,687.3 1163.5,693.4 1165.5,699.6 1167.5,706.3 1169.5,714.2 1171.5,722.4 1173.5,729.8 1175.5,736.7 1177.5,743.0 1179.5,748.2 1181.5,752.7 1183.5,757.4 1185.5,763.1 1187.5,771.7 1189.5,779.9 1191.5,785.4 1193.5,790.0 1195.5,794.3 1197.5,798.8 1199.5,803.6 1201.5,808.4 1203.5,813.3 1205.5,818.4 1207.5,824.1 1209.5,830.0 1211.5,835.2 1213.5,840.1 1215.5,844.5 1217.5,848.2 1219.5,851.4 1221.5,854.2 1223.5,856.7 1225.5,858.6 1227.5,860.3 1229.5,861.9 1231.5,863.3 1233.5,864.5 1235.5,865.5 1237.5,866.3 1239.5,867.1 1241.5,867.8 1243.5,868.4 1245.5,868.7 1247.5,868.7 1249.5,868.4 1251.5,867.7 1253.5,866.9 1255.5,865.9 1257.5,864.9 1259.5,863.9 1261.5,862.9 1263.5,861.7 1265.5,860.3 1267.5,858.9 1269.5,857.4 1271.5,855.9 1273.5,854.3 1275.5,852.7 1277.5,851.0 1279.5,849.1 1281.5,847.2 1283.5,845.2 1285.5,843.1 1287.5,841.1 1289.5,839.1 1291.5,837.2 1293.5,835.3 1295.5,833.3 1297.5,831.4 1299.5,829.5 1301.5,827.6 1303.5,825.7 1305.3,824.0" fill="none" stroke="#0a0a0a" stroke-width="1.5" stroke-dasharray="3 7" stroke-linejoin="round"/>
</g>
<g id="c4">
<polygon points="150.6,1107.4 150.6,1067.8 152.6,1067.2 154.6,1066.6 156.6,1066.1 158.6,1065.6 160.6,1065.2 162.6,1064.8 164.6,1064.4 166.6,1064.1 168.6,1063.9 170.6,1063.7 172.6,1063.6 174.6,1063.6 176.6,1063.7 178.6,1063.8 180.6,1063.9 182.6,1064.1 184.6,1064.3 186.6,1064.5 188.6,1064.7 190.6,1064.9 192.6,1065.0 194.6,1065.2 196.6,1065.3 198.6,1065.3 200.6,1065.3 202.6,1065.3 204.6,1065.2 206.6,1065.2 208.6,1065.2 210.6,1065.1 212.6,1065.0 214.6,1065.0 216.6,1064.9 218.6,1064.8 220.6,1064.8 222.6,1064.7 224.6,1064.6 226.6,1064.6 228.6,1064.5 230.6,1064.5 232.6,1064.5 234.6,1064.5 236.6,1064.5 238.6,1064.5 240.6,1064.5 242.6,1064.5 244.6,1064.5 246.6,1064.5 248.6,1064.6 250.6,1064.6 252.6,1064.7 254.6,1064.7 256.6,1064.8 258.6,1064.8 260.6,1064.9 262.6,1064.9 264.6,1065.0 266.6,1065.1 268.6,1065.2 270.6,1065.2 272.6,1065.3 274.6,1065.4 276.6,1065.5 278.6,1065.6 280.6,1065.7 282.6,1065.8 284.6,1066.0 286.6,1066.2 288.6,1066.4 290.6,1066.6 292.6,1066.9 294.6,1067.2 296.6,1067.5 298.6,1067.8 300.6,1068.0 302.6,1068.3 304.6,1068.5 306.6,1068.8 308.6,1069.0 310.6,1069.2 312.6,1069.4 314.6,1069.7 316.6,1069.9 318.6,1070.1 320.6,1070.3 322.6,1070.5 324.6,1070.8 326.6,1071.0 328.6,1071.2 330.6,1071.4 332.6,1071.6 334.6,1071.9 336.6,1072.1 338.6,1072.3 340.6,1072.5 342.6,1072.7 344.6,1072.9 346.6,1073.2 348.6,1073.4 350.6,1073.6 352.6,1073.8 354.6,1074.0 356.6,1074.2 358.6,1074.4 360.6,1074.6 362.6,1074.8 364.6,1074.9 366.6,1075.1 368.6,1075.3 370.6,1075.5 372.6,1075.6 374.6,1075.8 376.6,1076.0 378.6,1076.2 380.6,1076.5 382.6,1076.7 384.6,1077.0 386.6,1077.3 388.6,1077.7 390.6,1078.1 392.6,1078.5 394.6,1078.9 396.6,1079.2 398.6,1079.6 400.6,1079.9 402.6,1080.2 404.6,1080.6 406.6,1080.9 408.6,1081.2 410.6,1081.5 412.6,1081.8 414.6,1082.0 416.6,1082.3 418.6,1082.5 420.6,1082.8 422.6,1083.0 424.6,1083.2 426.6,1083.4 428.6,1083.6 430.6,1083.8 432.6,1084.0 434.6,1084.2 436.6,1084.4 438.6,1084.7 440.6,1085.0 442.6,1085.4 444.6,1085.7 446.6,1086.1 448.6,1086.5 450.6,1086.9 452.6,1087.2 454.6,1087.5 456.6,1087.8 458.6,1088.0 460.6,1088.3 462.6,1088.5 464.6,1088.7 466.6,1089.0 468.6,1089.2 470.6,1089.4 472.6,1089.6 474.6,1089.9 476.6,1090.1 478.6,1090.3 480.6,1090.5 482.6,1090.8 484.6,1091.0 486.6,1091.2 488.6,1091.4 490.6,1091.6 492.6,1091.9 494.6,1092.1 496.6,1092.3 498.6,1092.5 500.6,1092.7 502.6,1093.0 504.6,1093.2 506.6,1093.5 508.6,1093.7 510.6,1094.0 512.6,1094.2 514.6,1094.5 516.6,1094.7 518.6,1095.0 520.6,1095.2 522.6,1095.5 524.6,1095.7 526.6,1095.9 528.6,1096.1 530.6,1096.3 532.6,1096.5 534.6,1096.7 536.6,1096.9 538.6,1097.1 540.6,1097.3 542.6,1097.4 544.6,1097.6 546.6,1097.8 548.6,1097.9 550.6,1098.1 552.6,1098.2 554.6,1098.4 556.6,1098.5 558.6,1098.6 560.6,1098.8 562.6,1098.9 564.6,1099.0 566.6,1099.1 568.6,1099.2 570.6,1099.4 572.6,1099.5 574.6,1099.6 576.6,1099.7 578.6,1099.8 580.6,1099.9 582.6,1100.0 584.6,1100.1 586.6,1100.1 588.6,1100.2 590.6,1100.3 592.6,1100.4 594.6,1100.4 596.6,1100.5 598.6,1100.5 600.6,1100.6 602.6,1100.6 604.6,1100.7 606.6,1100.7 608.6,1100.8 610.6,1100.8 612.6,1100.9 614.6,1100.9 616.6,1100.9 618.6,1101.0 620.6,1101.0 622.6,1101.1 624.6,1101.1 626.6,1101.1 628.6,1101.2 630.6,1101.2 632.6,1101.2 634.6,1101.3 636.6,1101.3 638.6,1101.3 640.6,1101.3 642.6,1101.3 644.6,1101.3 646.6,1101.3 648.6,1101.3 650.6,1101.3 652.6,1101.3 654.6,1101.3 656.6,1101.3 658.6,1101.3 660.6,1101.3 662.6,1101.3 664.6,1101.3 666.6,1101.3 668.6,1101.3 670.6,1101.3 672.6,1101.2 674.6,1101.2 676.6,1101.2 678.6,1101.2 680.6,1101.2 682.6,1101.1 684.6,1101.1 686.6,1101.1 688.6,1101.0 690.6,1101.0 692.6,1101.0 694.6,1100.9 696.6,1100.9 698.6,1100.9 700.6,1100.8 702.6,1100.8 704.6,1100.8 706.6,1100.7 708.6,1100.7 710.6,1100.6 712.6,1100.6 714.6,1100.5 716.6,1100.5 718.6,1100.4 720.6,1100.3 722.6,1100.2 724.6,1100.0 726.6,1099.9 728.6,1099.7 730.6,1099.5 732.6,1099.3 734.6,1099.1 736.6,1098.9 738.6,1098.7 740.6,1098.5 742.6,1098.3 744.6,1098.1 746.6,1097.8 748.6,1097.5 750.6,1097.2 752.6,1096.9 754.6,1096.6 756.6,1096.3 758.6,1096.0 760.6,1095.7 762.6,1095.4 764.6,1095.1 766.6,1094.8 768.6,1094.5 770.6,1094.2 772.6,1093.8 774.6,1093.5 776.6,1093.2 778.6,1092.8 780.6,1092.4 782.6,1092.0 784.6,1091.6 786.6,1091.2 788.6,1090.8 790.6,1090.4 792.6,1090.0 794.6,1089.7 796.6,1089.4 798.6,1089.1 800.6,1088.8 802.6,1088.5 804.6,1088.2 806.6,1087.9 808.6,1087.6 810.6,1087.2 812.6,1086.9 814.6,1086.6 816.6,1086.2 818.6,1085.9 820.6,1085.6 822.6,1085.2 824.6,1084.9 826.6,1084.5 828.6,1084.1 830.6,1083.7 832.6,1083.4 834.6,1083.0 836.6,1082.6 838.6,1082.3 840.6,1081.9 842.6,1081.5 844.6,1081.2 846.6,1080.8 848.6,1080.5 850.6,1080.2 852.6,1079.9 854.6,1079.6 856.6,1079.4 858.6,1079.2 860.6,1079.0 862.6,1078.8 864.6,1078.6 866.6,1078.4 868.6,1078.3 870.6,1078.1 872.6,1077.9 874.6,1077.8 876.6,1077.7 878.6,1077.5 880.6,1077.4 882.6,1077.3 884.6,1077.2 886.6,1077.2 888.6,1077.1 890.6,1077.0 892.6,1077.0 894.6,1076.9 896.6,1076.9 898.6,1076.8 900.6,1076.7 902.6,1076.7 904.6,1076.6 906.6,1076.6 908.6,1076.5 910.6,1076.5 912.6,1076.5 914.6,1076.4 916.6,1076.4 918.6,1076.4 920.6,1076.3 922.6,1076.3 924.6,1076.3 926.6,1076.3 928.6,1076.3 930.6,1076.3 932.6,1076.3 934.6,1076.3 936.6,1076.3 938.6,1076.2 940.6,1076.2 942.6,1076.2 944.6,1076.2 946.6,1076.1 948.6,1076.1 950.6,1076.0 952.6,1076.0 954.6,1075.9 956.6,1075.8 958.6,1075.7 960.6,1075.6 962.6,1075.5 964.6,1075.3 966.6,1075.1 968.6,1074.9 970.6,1074.6 972.6,1074.3 974.6,1074.0 976.6,1073.5 978.6,1073.1 980.6,1072.5 982.6,1071.9 984.6,1071.2 986.6,1070.3 988.6,1069.4 990.6,1068.4 992.6,1067.2 994.6,1065.8 996.6,1064.3 998.6,1062.6 1000.6,1060.7 1002.6,1058.5 1004.6,1056.2 1006.6,1053.5 1008.6,1050.6 1010.6,1047.4 1012.6,1043.9 1014.6,1040.0 1016.6,1035.7 1018.6,1031.0 1020.6,1025.8 1022.6,1020.2 1024.6,1014.1 1026.6,1007.5 1028.6,1000.3 1030.6,992.6 1032.6,984.3 1034.6,975.5 1036.6,966.2 1038.6,956.4 1040.6,946.2 1042.6,935.7 1044.6,924.9 1046.6,914.0 1048.6,902.9 1050.6,891.8 1052.6,880.6 1054.6,869.4 1056.6,858.3 1058.6,847.2 1060.6,836.3 1062.6,825.4 1064.6,814.8 1066.6,804.4 1068.6,794.3 1070.6,784.5 1072.6,775.0 1074.6,766.0 1076.6,757.5 1078.6,749.4 1080.6,742.0 1082.6,735.1 1084.6,728.9 1086.6,723.4 1088.6,718.6 1090.6,714.5 1092.6,711.3 1094.6,708.8 1096.6,707.2 1098.6,706.4 1099.5,706.3 1101.5,706.7 1103.5,707.8 1105.5,709.3 1107.5,711.3 1109.5,714.6 1111.5,718.9 1113.5,723.9 1115.5,729.0 1117.5,734.1 1119.5,739.8 1121.5,745.9 1123.5,751.9 1125.5,757.6 1127.5,763.1 1129.5,768.6 1131.5,774.5 1133.5,781.2 1135.5,788.6 1137.5,795.7 1139.5,802.0 1141.5,807.8 1143.5,813.3 1145.5,818.6 1147.5,823.6 1149.5,828.4 1151.5,832.9 1153.5,837.5 1155.5,842.1 1157.5,846.8 1159.5,851.5 1161.5,856.3 1163.5,861.5 1165.5,867.8 1167.5,874.6 1169.5,879.9 1171.5,884.0 1173.5,887.6 1175.5,890.9 1177.5,894.1 1179.5,897.5 1181.5,901.0 1183.5,904.6 1185.5,907.9 1187.5,910.7 1189.5,913.0 1191.5,915.0 1193.5,916.9 1195.5,918.5 1197.5,920.0 1199.5,921.3 1201.5,922.5 1203.5,923.7 1205.5,924.8 1207.5,925.7 1209.5,926.2 1211.5,926.2 1213.5,926.2 1215.5,926.2 1217.5,926.2 1219.5,926.2 1221.5,926.2 1223.5,926.0 1225.5,924.9 1227.5,923.3 1229.5,921.7 1231.5,920.1 1233.5,918.4 1235.5,916.6 1237.5,914.7 1239.5,912.7 1241.5,910.8 1243.5,908.9 1245.5,907.0 1247.5,905.1 1249.5,903.1 1251.5,901.1 1253.5,899.1 1255.5,897.2 1257.5,895.2 1259.5,893.1 1261.5,891.1 1263.5,889.1 1265.5,887.0 1267.5,885.0 1269.5,882.9 1271.5,880.8 1273.5,878.7 1275.3,876.8 1275.3,1107.4" fill="url(#g4)" fill-opacity="0.5" stroke="none"/>
<line x1="151.0" y1="1067.8" x2="151.0" y2="1107.4" stroke="#3a3a3a" stroke-width="2" />
<line x1="1275.9" y1="876.8" x2="1275.9" y2="1107.4" stroke="#3f7a52" stroke-width="1.8" />
<polyline points="150.6,1067.8 152.6,1067.2 154.6,1066.6 156.6,1066.1 158.6,1065.6 160.6,1065.2 162.6,1064.8 164.6,1064.4 166.6,1064.1 168.6,1063.9 170.6,1063.7 172.6,1063.6 174.6,1063.6 176.6,1063.7 178.6,1063.8 180.6,1063.9 182.6,1064.1 184.6,1064.3 186.6,1064.5 188.6,1064.7 190.6,1064.9 192.6,1065.0 194.6,1065.2 196.6,1065.3 198.6,1065.3 200.6,1065.3 202.6,1065.3 204.6,1065.2 206.6,1065.2 208.6,1065.2 210.6,1065.1 212.6,1065.0 214.6,1065.0 216.6,1064.9 218.6,1064.8 220.6,1064.8 222.6,1064.7 224.6,1064.6 226.6,1064.6 228.6,1064.5 230.6,1064.5 232.6,1064.5 234.6,1064.5 236.6,1064.5 238.6,1064.5 240.6,1064.5 242.6,1064.5 244.6,1064.5 246.6,1064.5 248.6,1064.6 250.6,1064.6 252.6,1064.7 254.6,1064.7 256.6,1064.8 258.6,1064.8 260.6,1064.9 262.6,1064.9 264.6,1065.0 266.6,1065.1 268.6,1065.2 270.6,1065.2 272.6,1065.3 274.6,1065.4 276.6,1065.5 278.6,1065.6 280.6,1065.7 282.6,1065.8 284.6,1066.0 286.6,1066.2 288.6,1066.4 290.6,1066.6 292.6,1066.9 294.6,1067.2 296.6,1067.5 298.6,1067.8 300.6,1068.0 302.6,1068.3 304.6,1068.5 306.6,1068.8 308.6,1069.0 310.6,1069.2 312.6,1069.4 314.6,1069.7 316.6,1069.9 318.6,1070.1 320.6,1070.3 322.6,1070.5 324.6,1070.8 326.6,1071.0 328.6,1071.2 330.6,1071.4 332.6,1071.6 334.6,1071.9 336.6,1072.1 338.6,1072.3 340.6,1072.5 342.6,1072.7 344.6,1072.9 346.6,1073.2 348.6,1073.4 350.6,1073.6 352.6,1073.8 354.6,1074.0 356.6,1074.2 358.6,1074.4 360.6,1074.6 362.6,1074.8 364.6,1074.9 366.6,1075.1 368.6,1075.3 370.6,1075.5 372.6,1075.6 374.6,1075.8 376.6,1076.0 378.6,1076.2 380.6,1076.5 382.6,1076.7 384.6,1077.0 386.6,1077.3 388.6,1077.7 390.6,1078.1 392.6,1078.5 394.6,1078.9 396.6,1079.2 398.6,1079.6 400.6,1079.9 402.6,1080.2 404.6,1080.6 406.6,1080.9 408.6,1081.2 410.6,1081.5 412.6,1081.8 414.6,1082.0 416.6,1082.3 418.6,1082.5 420.6,1082.8 422.6,1083.0 424.6,1083.2 426.6,1083.4 428.6,1083.6 430.6,1083.8 432.6,1084.0 434.6,1084.2 436.6,1084.4 438.6,1084.7 440.6,1085.0 442.6,1085.4 444.6,1085.7 446.6,1086.1 448.6,1086.5 450.6,1086.9 452.6,1087.2 454.6,1087.5 456.6,1087.8 458.6,1088.0 460.6,1088.3 462.6,1088.5 464.6,1088.7 466.6,1089.0 468.6,1089.2 470.6,1089.4 472.6,1089.6 474.6,1089.9 476.6,1090.1 478.6,1090.3 480.6,1090.5 482.6,1090.8 484.6,1091.0 486.6,1091.2 488.6,1091.4 490.6,1091.6 492.6,1091.9 494.6,1092.1 496.6,1092.3 498.6,1092.5 500.6,1092.7 502.6,1093.0 504.6,1093.2 506.6,1093.5 508.6,1093.7 510.6,1094.0 512.6,1094.2 514.6,1094.5 516.6,1094.7 518.6,1095.0 520.6,1095.2 522.6,1095.5 524.6,1095.7 526.6,1095.9 528.6,1096.1 530.6,1096.3 532.6,1096.5 534.6,1096.7 536.6,1096.9 538.6,1097.1 540.6,1097.3 542.6,1097.4 544.6,1097.6 546.6,1097.8 548.6,1097.9 550.6,1098.1 552.6,1098.2 554.6,1098.4 556.6,1098.5 558.6,1098.6 560.6,1098.8 562.6,1098.9 564.6,1099.0 566.6,1099.1 568.6,1099.2 570.6,1099.4 572.6,1099.5 574.6,1099.6 576.6,1099.7 578.6,1099.8 580.6,1099.9 582.6,1100.0 584.6,1100.1 586.6,1100.1 588.6,1100.2 590.6,1100.3 592.6,1100.4 594.6,1100.4 596.6,1100.5 598.6,1100.5 600.6,1100.6 602.6,1100.6 604.6,1100.7 606.6,1100.7 608.6,1100.8 610.6,1100.8 612.6,1100.9 614.6,1100.9 616.6,1100.9 618.6,1101.0 620.6,1101.0 622.6,1101.1 624.6,1101.1 626.6,1101.1 628.6,1101.2 630.6,1101.2 632.6,1101.2 634.6,1101.3 636.6,1101.3 638.6,1101.3 640.6,1101.3 642.6,1101.3 644.6,1101.3 646.6,1101.3 648.6,1101.3 650.6,1101.3 652.6,1101.3 654.6,1101.3 656.6,1101.3 658.6,1101.3 660.6,1101.3 662.6,1101.3 664.6,1101.3 666.6,1101.3 668.6,1101.3 670.6,1101.3 672.6,1101.2 674.6,1101.2 676.6,1101.2 678.6,1101.2 680.6,1101.2 682.6,1101.1 684.6,1101.1 686.6,1101.1 688.6,1101.0 690.6,1101.0 692.6,1101.0 694.6,1100.9 696.6,1100.9 698.6,1100.9 700.6,1100.8 702.6,1100.8 704.6,1100.8 706.6,1100.7 708.6,1100.7 710.6,1100.6 712.6,1100.6 714.6,1100.5 716.6,1100.5 718.6,1100.4 720.6,1100.3 722.6,1100.2 724.6,1100.0 726.6,1099.9 728.6,1099.7 730.6,1099.5 732.6,1099.3 734.6,1099.1 736.6,1098.9 738.6,1098.7 740.6,1098.5 742.6,1098.3 744.6,1098.1 746.6,1097.8 748.6,1097.5 750.6,1097.2 752.6,1096.9 754.6,1096.6 756.6,1096.3 758.6,1096.0 760.6,1095.7 762.6,1095.4 764.6,1095.1 766.6,1094.8 768.6,1094.5 770.6,1094.2 772.6,1093.8 774.6,1093.5 776.6,1093.2 778.6,1092.8 780.6,1092.4 782.6,1092.0 784.6,1091.6 786.6,1091.2 788.6,1090.8 790.6,1090.4 792.6,1090.0 794.6,1089.7 796.6,1089.4 798.6,1089.1 800.6,1088.8 802.6,1088.5 804.6,1088.2 806.6,1087.9 808.6,1087.6 810.6,1087.2 812.6,1086.9 814.6,1086.6 816.6,1086.2 818.6,1085.9 820.6,1085.6 822.6,1085.2 824.6,1084.9 826.6,1084.5 828.6,1084.1 830.6,1083.7 832.6,1083.4 834.6,1083.0 836.6,1082.6 838.6,1082.3 840.6,1081.9 842.6,1081.5 844.6,1081.2 846.6,1080.8 848.6,1080.5 850.6,1080.2 852.6,1079.9 854.6,1079.6 856.6,1079.4 858.6,1079.2 860.6,1079.0 862.6,1078.8 864.6,1078.6 866.6,1078.4 868.6,1078.3 870.6,1078.1 872.6,1077.9 874.6,1077.8 876.6,1077.7 878.6,1077.5 880.6,1077.4 882.6,1077.3 884.6,1077.2 886.6,1077.2 888.6,1077.1 890.6,1077.0 892.6,1077.0 894.6,1076.9 896.6,1076.9 898.6,1076.8 900.6,1076.7 902.6,1076.7 904.6,1076.6 906.6,1076.6 908.6,1076.5 910.6,1076.5 912.6,1076.5 914.6,1076.4 916.6,1076.4 918.6,1076.4 920.6,1076.3 922.6,1076.3 924.6,1076.3 926.6,1076.3 928.6,1076.3 930.6,1076.3 932.6,1076.3 934.6,1076.3 936.6,1076.3 938.6,1076.2 940.6,1076.2 942.6,1076.2 944.6,1076.2 946.6,1076.1 948.6,1076.1 950.6,1076.0 952.6,1076.0 954.6,1075.9 956.6,1075.8 958.6,1075.7 960.6,1075.6 962.6,1075.5 964.6,1075.3 966.6,1075.1 968.6,1074.9 970.6,1074.6 972.6,1074.3 974.6,1074.0 976.6,1073.5 978.6,1073.1 980.6,1072.5 982.6,1071.9 984.6,1071.2 986.6,1070.3 988.6,1069.4 990.6,1068.4 992.6,1067.2 994.6,1065.8 996.6,1064.3 998.6,1062.6 1000.6,1060.7 1002.6,1058.5 1004.6,1056.2 1006.6,1053.5 1008.6,1050.6 1010.6,1047.4 1012.6,1043.9 1014.6,1040.0 1016.6,1035.7 1018.6,1031.0 1020.6,1025.8 1022.6,1020.2 1024.6,1014.1 1026.6,1007.5 1028.6,1000.3 1030.6,992.6 1032.6,984.3 1034.6,975.5 1036.6,966.2 1038.6,956.4 1040.6,946.2 1042.6,935.7 1044.6,924.9 1046.6,914.0 1048.6,902.9 1050.6,891.8 1052.6,880.6 1054.6,869.4 1056.6,858.3 1058.6,847.2 1060.6,836.3 1062.6,825.4 1064.6,814.8 1066.6,804.4 1068.6,794.3 1070.6,784.5 1072.6,775.0 1074.6,766.0 1076.6,757.5 1078.6,749.4 1080.6,742.0 1082.6,735.1 1084.6,728.9 1086.6,723.4 1088.6,718.6 1090.6,714.5 1092.6,711.3 1094.6,708.8 1096.6,707.2 1098.6,706.4 1099.5,706.3 1101.5,706.7 1103.5,707.8 1105.5,709.3 1107.5,711.3 1109.5,714.6 1111.5,718.9 1113.5,723.9 1115.5,729.0 1117.5,734.1 1119.5,739.8 1121.5,745.9 1123.5,751.9 1125.5,757.6 1127.5,763.1 1129.5,768.6 1131.5,774.5 1133.5,781.2 1135.5,788.6 1137.5,795.7 1139.5,802.0 1141.5,807.8 1143.5,813.3 1145.5,818.6 1147.5,823.6 1149.5,828.4 1151.5,832.9 1153.5,837.5 1155.5,842.1 1157.5,846.8 1159.5,851.5 1161.5,856.3 1163.5,861.5 1165.5,867.8 1167.5,874.6 1169.5,879.9 1171.5,884.0 1173.5,887.6 1175.5,890.9 1177.5,894.1 1179.5,897.5 1181.5,901.0 1183.5,904.6 1185.5,907.9 1187.5,910.7 1189.5,913.0 1191.5,915.0 1193.5,916.9 1195.5,918.5 1197.5,920.0 1199.5,921.3 1201.5,922.5 1203.5,923.7 1205.5,924.8 1207.5,925.7 1209.5,926.2 1211.5,926.2 1213.5,926.2 1215.5,926.2 1217.5,926.2 1219.5,926.2 1221.5,926.2 1223.5,926.0 1225.5,924.9 1227.5,923.3 1229.5,921.7 1231.5,920.1 1233.5,918.4 1235.5,916.6 1237.5,914.7 1239.5,912.7 1241.5,910.8 1243.5,908.9 1245.5,907.0 1247.5,905.1 1249.5,903.1 1251.5,901.1 1253.5,899.1 1255.5,897.2 1257.5,895.2 1259.5,893.1 1261.5,891.1 1263.5,889.1 1265.5,887.0 1267.5,885.0 1269.5,882.9 1271.5,880.8 1273.5,878.7 1275.3,876.8" fill="none" stroke="#0a0a0a" stroke-width="1.5" stroke-dasharray="3 7" stroke-linejoin="round"/>
</g>
<g id="c3">
<polygon points="120.6,1159.6 120.6,1107.0 122.6,1109.0 124.6,1110.9 126.6,1112.6 128.6,1114.1 130.6,1115.4 132.6,1116.5 134.6,1117.2 136.6,1117.8 138.6,1118.4 140.6,1118.9 142.6,1119.3 144.6,1119.7 146.6,1119.9 148.6,1120.0 150.6,1120.0 152.6,1120.0 154.6,1120.0 156.6,1120.0 158.6,1120.0 160.6,1120.0 162.6,1120.0 164.6,1120.1 166.6,1120.1 168.6,1120.1 170.6,1120.1 172.6,1120.1 174.6,1120.1 176.6,1120.1 178.6,1120.1 180.6,1120.1 182.6,1120.1 184.6,1120.1 186.6,1120.1 188.6,1120.1 190.6,1120.1 192.6,1120.2 194.6,1120.2 196.6,1120.2 198.6,1120.2 200.6,1120.3 202.6,1120.3 204.6,1120.4 206.6,1120.4 208.6,1120.5 210.6,1120.5 212.6,1120.6 214.6,1120.6 216.6,1120.7 218.6,1120.7 220.6,1120.8 222.6,1120.8 224.6,1120.9 226.6,1121.0 228.6,1121.1 230.6,1121.2 232.6,1121.3 234.6,1121.4 236.6,1121.5 238.6,1121.6 240.6,1121.7 242.6,1121.9 244.6,1122.0 246.6,1122.1 248.6,1122.3 250.6,1122.4 252.6,1122.5 254.6,1122.6 256.6,1122.8 258.6,1122.9 260.6,1123.0 262.6,1123.1 264.6,1123.2 266.6,1123.3 268.6,1123.5 270.6,1123.6 272.6,1123.7 274.6,1123.8 276.6,1123.9 278.6,1124.0 280.6,1124.1 282.6,1124.3 284.6,1124.4 286.6,1124.5 288.6,1124.6 290.6,1124.7 292.6,1124.9 294.6,1125.0 296.6,1125.1 298.6,1125.3 300.6,1125.4 302.6,1125.5 304.6,1125.7 306.6,1125.8 308.6,1126.0 310.6,1126.1 312.6,1126.3 314.6,1126.5 316.6,1126.6 318.6,1126.8 320.6,1127.0 322.6,1127.2 324.6,1127.4 326.6,1127.6 328.6,1127.8 330.6,1128.0 332.6,1128.3 334.6,1128.6 336.6,1128.9 338.6,1129.3 340.6,1129.7 342.6,1130.1 344.6,1130.5 346.6,1130.9 348.6,1131.2 350.6,1131.5 352.6,1131.8 354.6,1132.1 356.6,1132.3 358.6,1132.6 360.6,1132.8 362.6,1133.1 364.6,1133.3 366.6,1133.6 368.6,1133.9 370.6,1134.1 372.6,1134.4 374.6,1134.7 376.6,1134.9 378.6,1135.2 380.6,1135.5 382.6,1135.8 384.6,1136.0 386.6,1136.3 388.6,1136.6 390.6,1136.9 392.6,1137.2 394.6,1137.6 396.6,1137.9 398.6,1138.2 400.6,1138.5 402.6,1138.8 404.6,1139.1 406.6,1139.4 408.6,1139.6 410.6,1139.8 412.6,1140.0 414.6,1140.3 416.6,1140.5 418.6,1140.7 420.6,1140.9 422.6,1141.1 424.6,1141.3 426.6,1141.5 428.6,1141.7 430.6,1141.9 432.6,1142.2 434.6,1142.5 436.6,1142.7 438.6,1143.0 440.6,1143.3 442.6,1143.5 444.6,1143.8 446.6,1144.1 448.6,1144.3 450.6,1144.6 452.6,1144.8 454.6,1145.0 456.6,1145.2 458.6,1145.4 460.6,1145.6 462.6,1145.8 464.6,1146.0 466.6,1146.2 468.6,1146.4 470.6,1146.6 472.6,1146.8 474.6,1147.0 476.6,1147.2 478.6,1147.4 480.6,1147.6 482.6,1147.8 484.6,1148.0 486.6,1148.2 488.6,1148.4 490.6,1148.6 492.6,1148.8 494.6,1149.0 496.6,1149.2 498.6,1149.3 500.6,1149.5 502.6,1149.7 504.6,1149.9 506.6,1150.1 508.6,1150.2 510.6,1150.4 512.6,1150.6 514.6,1150.8 516.6,1150.9 518.6,1151.1 520.6,1151.3 522.6,1151.4 524.6,1151.6 526.6,1151.8 528.6,1151.9 530.6,1152.1 532.6,1152.2 534.6,1152.3 536.6,1152.5 538.6,1152.6 540.6,1152.7 542.6,1152.8 544.6,1152.9 546.6,1153.0 548.6,1153.1 550.6,1153.2 552.6,1153.3 554.6,1153.4 556.6,1153.5 558.6,1153.6 560.6,1153.7 562.6,1153.7 564.6,1153.8 566.6,1153.9 568.6,1154.0 570.6,1154.1 572.6,1154.1 574.6,1154.2 576.6,1154.3 578.6,1154.3 580.6,1154.4 582.6,1154.5 584.6,1154.5 586.6,1154.6 588.6,1154.6 590.6,1154.6 592.6,1154.7 594.6,1154.7 596.6,1154.7 598.6,1154.7 600.6,1154.7 602.6,1154.7 604.6,1154.7 606.6,1154.7 608.6,1154.7 610.6,1154.7 612.6,1154.7 614.6,1154.7 616.6,1154.7 618.6,1154.7 620.6,1154.7 622.6,1154.7 624.6,1154.7 626.6,1154.7 628.6,1154.7 630.6,1154.7 632.6,1154.7 634.6,1154.7 636.6,1154.7 638.6,1154.7 640.6,1154.7 642.6,1154.7 644.6,1154.7 646.6,1154.7 648.6,1154.7 650.6,1154.7 652.6,1154.7 654.6,1154.7 656.6,1154.7 658.6,1154.7 660.6,1154.7 662.6,1154.7 664.6,1154.7 666.6,1154.6 668.6,1154.5 670.6,1154.5 672.6,1154.4 674.6,1154.3 676.6,1154.2 678.6,1154.1 680.6,1154.0 682.6,1153.9 684.6,1153.7 686.6,1153.6 688.6,1153.5 690.6,1153.3 692.6,1153.2 694.6,1153.1 696.6,1152.9 698.6,1152.8 700.6,1152.6 702.6,1152.4 704.6,1152.2 706.6,1152.0 708.6,1151.8 710.6,1151.5 712.6,1151.3 714.6,1151.0 716.6,1150.7 718.6,1150.5 720.6,1150.2 722.6,1150.0 724.6,1149.7 726.6,1149.5 728.6,1149.2 730.6,1149.0 732.6,1148.7 734.6,1148.5 736.6,1148.2 738.6,1147.9 740.6,1147.7 742.6,1147.4 744.6,1147.1 746.6,1146.9 748.6,1146.6 750.6,1146.3 752.6,1146.0 754.6,1145.7 756.6,1145.5 758.6,1145.2 760.6,1144.8 762.6,1144.5 764.6,1144.2 766.6,1143.8 768.6,1143.4 770.6,1143.1 772.6,1142.7 774.6,1142.3 776.6,1142.0 778.6,1141.6 780.6,1141.3 782.6,1140.9 784.6,1140.6 786.6,1140.3 788.6,1139.9 790.6,1139.6 792.6,1139.2 794.6,1138.9 796.6,1138.5 798.6,1138.1 800.6,1137.7 802.6,1137.3 804.6,1136.9 806.6,1136.6 808.6,1136.2 810.6,1135.9 812.6,1135.6 814.6,1135.3 816.6,1135.0 818.6,1134.7 820.6,1134.4 822.6,1134.2 824.6,1134.0 826.6,1133.8 828.6,1133.7 830.6,1133.6 832.6,1133.5 834.6,1133.4 836.6,1133.3 838.6,1133.2 840.6,1133.1 842.6,1133.0 844.6,1132.9 846.6,1132.9 848.6,1132.8 850.6,1132.7 852.6,1132.6 854.6,1132.6 856.6,1132.5 858.6,1132.5 860.6,1132.4 862.6,1132.4 864.6,1132.3 866.6,1132.3 868.6,1132.3 870.6,1132.3 872.6,1132.2 874.6,1132.2 876.6,1132.2 878.6,1132.2 880.6,1132.2 882.6,1132.2 884.6,1132.2 886.6,1132.2 888.6,1132.2 890.6,1132.2 892.6,1132.2 894.6,1132.2 896.6,1132.2 898.6,1132.2 900.6,1132.2 902.6,1132.1 904.6,1132.1 906.6,1132.1 908.6,1132.1 910.6,1132.1 912.6,1132.1 914.6,1132.0 916.6,1132.0 918.6,1131.9 920.6,1131.9 922.6,1131.8 924.6,1131.8 926.6,1131.7 928.6,1131.6 930.6,1131.5 932.6,1131.3 934.6,1131.2 936.6,1131.0 938.6,1130.7 940.6,1130.5 942.6,1130.2 944.6,1129.8 946.6,1129.4 948.6,1128.9 950.6,1128.4 952.6,1127.8 954.6,1127.1 956.6,1126.2 958.6,1125.3 960.6,1124.3 962.6,1123.1 964.6,1121.8 966.6,1120.3 968.6,1118.6 970.6,1116.7 972.6,1114.7 974.6,1112.3 976.6,1109.8 978.6,1106.9 980.6,1103.8 982.6,1100.3 984.6,1096.5 986.6,1092.3 988.6,1087.7 990.6,1082.7 992.6,1077.3 994.6,1071.3 996.6,1064.9 998.6,1058.0 1000.6,1050.5 1002.6,1042.5 1004.6,1034.0 1006.6,1025.0 1008.6,1015.7 1010.6,1005.9 1012.6,995.9 1014.6,985.7 1016.6,975.3 1018.6,964.9 1020.6,954.3 1022.6,943.8 1024.6,933.2 1026.6,922.7 1028.6,912.3 1030.6,902.0 1032.6,891.9 1034.6,881.9 1036.6,872.2 1038.6,862.8 1040.6,853.6 1042.6,844.8 1044.6,836.5 1046.6,828.6 1048.6,821.2 1050.6,814.3 1052.6,808.0 1054.6,802.4 1056.6,797.4 1058.6,793.1 1060.6,789.6 1062.6,786.8 1064.6,784.7 1066.6,783.5 1068.6,783.0 1068.8,783.0 1070.8,783.3 1072.8,784.2 1074.8,785.5 1076.8,787.1 1078.8,790.3 1080.8,795.1 1082.8,799.8 1084.8,804.2 1086.8,808.8 1088.8,813.4 1090.8,818.4 1092.8,823.5 1094.8,828.3 1096.8,832.5 1098.8,836.6 1100.8,840.9 1102.8,846.0 1104.8,852.5 1106.8,859.7 1108.8,866.0 1110.8,871.6 1112.8,876.7 1114.8,881.8 1116.8,886.9 1118.8,892.1 1120.8,897.2 1122.8,902.2 1124.8,907.0 1126.8,911.6 1128.8,916.0 1130.8,920.4 1132.8,924.6 1134.8,928.8 1136.8,932.8 1138.8,936.8 1140.8,940.9 1142.8,945.1 1144.8,949.2 1146.8,953.1 1148.8,956.6 1150.8,959.9 1152.8,963.0 1154.8,965.9 1156.8,968.4 1158.8,970.5 1160.8,972.5 1162.8,974.3 1164.8,975.9 1166.8,977.3 1168.8,978.3 1170.8,979.1 1172.8,979.9 1174.8,980.5 1176.8,981.0 1178.8,981.3 1180.8,981.4 1182.8,981.3 1184.8,981.1 1186.8,980.7 1188.8,980.2 1190.8,979.6 1192.8,978.9 1194.8,977.8 1196.8,976.1 1198.8,974.2 1200.8,972.2 1202.8,970.4 1204.8,968.7 1206.8,967.1 1208.8,965.4 1210.8,963.8 1212.8,962.1 1214.8,960.4 1216.8,958.6 1218.8,956.8 1220.8,954.9 1222.8,952.9 1224.8,950.9 1226.8,948.9 1228.8,946.9 1230.8,944.9 1232.8,943.0 1234.8,941.2 1236.8,939.4 1238.8,937.7 1240.8,936.0 1242.8,934.3 1244.8,932.6 1245.3,932.2 1245.3,1159.6" fill="url(#g3)" fill-opacity="0.5" stroke="none"/>
<line x1="121.0" y1="1107.0" x2="121.0" y2="1159.6" stroke="#0c0c0c" stroke-width="2" />
<polyline points="120.6,1107.0 122.6,1109.0 124.6,1110.9 126.6,1112.6 128.6,1114.1 130.6,1115.4 132.6,1116.5 134.6,1117.2 136.6,1117.8 138.6,1118.4 140.6,1118.9 142.6,1119.3 144.6,1119.7 146.6,1119.9 148.6,1120.0 150.6,1120.0 152.6,1120.0 154.6,1120.0 156.6,1120.0 158.6,1120.0 160.6,1120.0 162.6,1120.0 164.6,1120.1 166.6,1120.1 168.6,1120.1 170.6,1120.1 172.6,1120.1 174.6,1120.1 176.6,1120.1 178.6,1120.1 180.6,1120.1 182.6,1120.1 184.6,1120.1 186.6,1120.1 188.6,1120.1 190.6,1120.1 192.6,1120.2 194.6,1120.2 196.6,1120.2 198.6,1120.2 200.6,1120.3 202.6,1120.3 204.6,1120.4 206.6,1120.4 208.6,1120.5 210.6,1120.5 212.6,1120.6 214.6,1120.6 216.6,1120.7 218.6,1120.7 220.6,1120.8 222.6,1120.8 224.6,1120.9 226.6,1121.0 228.6,1121.1 230.6,1121.2 232.6,1121.3 234.6,1121.4 236.6,1121.5 238.6,1121.6 240.6,1121.7 242.6,1121.9 244.6,1122.0 246.6,1122.1 248.6,1122.3 250.6,1122.4 252.6,1122.5 254.6,1122.6 256.6,1122.8 258.6,1122.9 260.6,1123.0 262.6,1123.1 264.6,1123.2 266.6,1123.3 268.6,1123.5 270.6,1123.6 272.6,1123.7 274.6,1123.8 276.6,1123.9 278.6,1124.0 280.6,1124.1 282.6,1124.3 284.6,1124.4 286.6,1124.5 288.6,1124.6 290.6,1124.7 292.6,1124.9 294.6,1125.0 296.6,1125.1 298.6,1125.3 300.6,1125.4 302.6,1125.5 304.6,1125.7 306.6,1125.8 308.6,1126.0 310.6,1126.1 312.6,1126.3 314.6,1126.5 316.6,1126.6 318.6,1126.8 320.6,1127.0 322.6,1127.2 324.6,1127.4 326.6,1127.6 328.6,1127.8 330.6,1128.0 332.6,1128.3 334.6,1128.6 336.6,1128.9 338.6,1129.3 340.6,1129.7 342.6,1130.1 344.6,1130.5 346.6,1130.9 348.6,1131.2 350.6,1131.5 352.6,1131.8 354.6,1132.1 356.6,1132.3 358.6,1132.6 360.6,1132.8 362.6,1133.1 364.6,1133.3 366.6,1133.6 368.6,1133.9 370.6,1134.1 372.6,1134.4 374.6,1134.7 376.6,1134.9 378.6,1135.2 380.6,1135.5 382.6,1135.8 384.6,1136.0 386.6,1136.3 388.6,1136.6 390.6,1136.9 392.6,1137.2 394.6,1137.6 396.6,1137.9 398.6,1138.2 400.6,1138.5 402.6,1138.8 404.6,1139.1 406.6,1139.4 408.6,1139.6 410.6,1139.8 412.6,1140.0 414.6,1140.3 416.6,1140.5 418.6,1140.7 420.6,1140.9 422.6,1141.1 424.6,1141.3 426.6,1141.5 428.6,1141.7 430.6,1141.9 432.6,1142.2 434.6,1142.5 436.6,1142.7 438.6,1143.0 440.6,1143.3 442.6,1143.5 444.6,1143.8 446.6,1144.1 448.6,1144.3 450.6,1144.6 452.6,1144.8 454.6,1145.0 456.6,1145.2 458.6,1145.4 460.6,1145.6 462.6,1145.8 464.6,1146.0 466.6,1146.2 468.6,1146.4 470.6,1146.6 472.6,1146.8 474.6,1147.0 476.6,1147.2 478.6,1147.4 480.6,1147.6 482.6,1147.8 484.6,1148.0 486.6,1148.2 488.6,1148.4 490.6,1148.6 492.6,1148.8 494.6,1149.0 496.6,1149.2 498.6,1149.3 500.6,1149.5 502.6,1149.7 504.6,1149.9 506.6,1150.1 508.6,1150.2 510.6,1150.4 512.6,1150.6 514.6,1150.8 516.6,1150.9 518.6,1151.1 520.6,1151.3 522.6,1151.4 524.6,1151.6 526.6,1151.8 528.6,1151.9 530.6,1152.1 532.6,1152.2 534.6,1152.3 536.6,1152.5 538.6,1152.6 540.6,1152.7 542.6,1152.8 544.6,1152.9 546.6,1153.0 548.6,1153.1 550.6,1153.2 552.6,1153.3 554.6,1153.4 556.6,1153.5 558.6,1153.6 560.6,1153.7 562.6,1153.7 564.6,1153.8 566.6,1153.9 568.6,1154.0 570.6,1154.1 572.6,1154.1 574.6,1154.2 576.6,1154.3 578.6,1154.3 580.6,1154.4 582.6,1154.5 584.6,1154.5 586.6,1154.6 588.6,1154.6 590.6,1154.6 592.6,1154.7 594.6,1154.7 596.6,1154.7 598.6,1154.7 600.6,1154.7 602.6,1154.7 604.6,1154.7 606.6,1154.7 608.6,1154.7 610.6,1154.7 612.6,1154.7 614.6,1154.7 616.6,1154.7 618.6,1154.7 620.6,1154.7 622.6,1154.7 624.6,1154.7 626.6,1154.7 628.6,1154.7 630.6,1154.7 632.6,1154.7 634.6,1154.7 636.6,1154.7 638.6,1154.7 640.6,1154.7 642.6,1154.7 644.6,1154.7 646.6,1154.7 648.6,1154.7 650.6,1154.7 652.6,1154.7 654.6,1154.7 656.6,1154.7 658.6,1154.7 660.6,1154.7 662.6,1154.7 664.6,1154.7 666.6,1154.6 668.6,1154.5 670.6,1154.5 672.6,1154.4 674.6,1154.3 676.6,1154.2 678.6,1154.1 680.6,1154.0 682.6,1153.9 684.6,1153.7 686.6,1153.6 688.6,1153.5 690.6,1153.3 692.6,1153.2 694.6,1153.1 696.6,1152.9 698.6,1152.8 700.6,1152.6 702.6,1152.4 704.6,1152.2 706.6,1152.0 708.6,1151.8 710.6,1151.5 712.6,1151.3 714.6,1151.0 716.6,1150.7 718.6,1150.5 720.6,1150.2 722.6,1150.0 724.6,1149.7 726.6,1149.5 728.6,1149.2 730.6,1149.0 732.6,1148.7 734.6,1148.5 736.6,1148.2 738.6,1147.9 740.6,1147.7 742.6,1147.4 744.6,1147.1 746.6,1146.9 748.6,1146.6 750.6,1146.3 752.6,1146.0 754.6,1145.7 756.6,1145.5 758.6,1145.2 760.6,1144.8 762.6,1144.5 764.6,1144.2 766.6,1143.8 768.6,1143.4 770.6,1143.1 772.6,1142.7 774.6,1142.3 776.6,1142.0 778.6,1141.6 780.6,1141.3 782.6,1140.9 784.6,1140.6 786.6,1140.3 788.6,1139.9 790.6,1139.6 792.6,1139.2 794.6,1138.9 796.6,1138.5 798.6,1138.1 800.6,1137.7 802.6,1137.3 804.6,1136.9 806.6,1136.6 808.6,1136.2 810.6,1135.9 812.6,1135.6 814.6,1135.3 816.6,1135.0 818.6,1134.7 820.6,1134.4 822.6,1134.2 824.6,1134.0 826.6,1133.8 828.6,1133.7 830.6,1133.6 832.6,1133.5 834.6,1133.4 836.6,1133.3 838.6,1133.2 840.6,1133.1 842.6,1133.0 844.6,1132.9 846.6,1132.9 848.6,1132.8 850.6,1132.7 852.6,1132.6 854.6,1132.6 856.6,1132.5 858.6,1132.5 860.6,1132.4 862.6,1132.4 864.6,1132.3 866.6,1132.3 868.6,1132.3 870.6,1132.3 872.6,1132.2 874.6,1132.2 876.6,1132.2 878.6,1132.2 880.6,1132.2 882.6,1132.2 884.6,1132.2 886.6,1132.2 888.6,1132.2 890.6,1132.2 892.6,1132.2 894.6,1132.2 896.6,1132.2 898.6,1132.2 900.6,1132.2 902.6,1132.1 904.6,1132.1 906.6,1132.1 908.6,1132.1 910.6,1132.1 912.6,1132.1 914.6,1132.0 916.6,1132.0 918.6,1131.9 920.6,1131.9 922.6,1131.8 924.6,1131.8 926.6,1131.7 928.6,1131.6 930.6,1131.5 932.6,1131.3 934.6,1131.2 936.6,1131.0 938.6,1130.7 940.6,1130.5 942.6,1130.2 944.6,1129.8 946.6,1129.4 948.6,1128.9 950.6,1128.4 952.6,1127.8 954.6,1127.1 956.6,1126.2 958.6,1125.3 960.6,1124.3 962.6,1123.1 964.6,1121.8 966.6,1120.3 968.6,1118.6 970.6,1116.7 972.6,1114.7 974.6,1112.3 976.6,1109.8 978.6,1106.9 980.6,1103.8 982.6,1100.3 984.6,1096.5 986.6,1092.3 988.6,1087.7 990.6,1082.7 992.6,1077.3 994.6,1071.3 996.6,1064.9 998.6,1058.0 1000.6,1050.5 1002.6,1042.5 1004.6,1034.0 1006.6,1025.0 1008.6,1015.7 1010.6,1005.9 1012.6,995.9 1014.6,985.7 1016.6,975.3 1018.6,964.9 1020.6,954.3 1022.6,943.8 1024.6,933.2 1026.6,922.7 1028.6,912.3 1030.6,902.0 1032.6,891.9 1034.6,881.9 1036.6,872.2 1038.6,862.8 1040.6,853.6 1042.6,844.8 1044.6,836.5 1046.6,828.6 1048.6,821.2 1050.6,814.3 1052.6,808.0 1054.6,802.4 1056.6,797.4 1058.6,793.1 1060.6,789.6 1062.6,786.8 1064.6,784.7 1066.6,783.5 1068.6,783.0 1068.8,783.0 1070.8,783.3 1072.8,784.2 1074.8,785.5 1076.8,787.1 1078.8,790.3 1080.8,795.1 1082.8,799.8 1084.8,804.2 1086.8,808.8 1088.8,813.4 1090.8,818.4 1092.8,823.5 1094.8,828.3 1096.8,832.5 1098.8,836.6 1100.8,840.9 1102.8,846.0 1104.8,852.5 1106.8,859.7 1108.8,866.0 1110.8,871.6 1112.8,876.7 1114.8,881.8 1116.8,886.9 1118.8,892.1 1120.8,897.2 1122.8,902.2 1124.8,907.0 1126.8,911.6 1128.8,916.0 1130.8,920.4 1132.8,924.6 1134.8,928.8 1136.8,932.8 1138.8,936.8 1140.8,940.9 1142.8,945.1 1144.8,949.2 1146.8,953.1 1148.8,956.6 1150.8,959.9 1152.8,963.0 1154.8,965.9 1156.8,968.4 1158.8,970.5 1160.8,972.5 1162.8,974.3 1164.8,975.9 1166.8,977.3 1168.8,978.3 1170.8,979.1 1172.8,979.9 1174.8,980.5 1176.8,981.0 1178.8,981.3 1180.8,981.4 1182.8,981.3 1184.8,981.1 1186.8,980.7 1188.8,980.2 1190.8,979.6 1192.8,978.9 1194.8,977.8 1196.8,976.1 1198.8,974.2 1200.8,972.2 1202.8,970.4 1204.8,968.7 1206.8,967.1 1208.8,965.4 1210.8,963.8 1212.8,962.1 1214.8,960.4 1216.8,958.6 1218.8,956.8 1220.8,954.9 1222.8,952.9 1224.8,950.9 1226.8,948.9 1228.8,946.9 1230.8,944.9 1232.8,943.0 1234.8,941.2 1236.8,939.4 1238.8,937.7 1240.8,936.0 1242.8,934.3 1244.8,932.6 1245.3,932.2" fill="none" stroke="#0a0a0a" stroke-width="1.5" stroke-dasharray="3 7" stroke-linejoin="round"/>
</g>
<g id="c2">
<line x1="90.6" y1="1211.8" x2="1216.3" y2="1211.8" stroke="#808880" stroke-width="1.6" />
<polygon points="90.6,1211.8 90.6,1179.0 92.6,1179.6 94.6,1180.1 96.6,1180.7 98.6,1181.2 100.6,1181.6 102.6,1182.1 104.6,1182.5 106.6,1182.9 108.6,1183.2 110.6,1183.6 112.6,1184.0 114.6,1184.3 116.6,1184.7 118.6,1184.9 120.6,1185.1 122.6,1185.3 124.6,1185.3 126.6,1185.2 128.6,1184.9 130.6,1184.5 132.6,1184.1 134.6,1183.6 136.6,1183.2 138.6,1182.9 140.6,1182.7 142.6,1182.5 144.6,1182.3 146.6,1182.0 148.6,1181.9 150.6,1181.7 152.6,1181.7 154.6,1181.7 156.6,1181.7 158.6,1181.7 160.6,1181.7 162.6,1181.8 164.6,1181.9 166.6,1182.0 168.6,1182.1 170.6,1182.2 172.6,1182.3 174.6,1182.4 176.6,1182.5 178.6,1182.6 180.6,1182.7 182.6,1182.8 184.6,1182.9 186.6,1183.0 188.6,1183.1 190.6,1183.2 192.6,1183.4 194.6,1183.5 196.6,1183.6 198.6,1183.8 200.6,1183.9 202.6,1184.0 204.6,1184.2 206.6,1184.3 208.6,1184.5 210.6,1184.6 212.6,1184.8 214.6,1184.9 216.6,1185.1 218.6,1185.3 220.6,1185.4 222.6,1185.6 224.6,1185.8 226.6,1185.9 228.6,1186.1 230.6,1186.3 232.6,1186.5 234.6,1186.7 236.6,1186.9 238.6,1187.1 240.6,1187.3 242.6,1187.5 244.6,1187.7 246.6,1187.8 248.6,1188.0 250.6,1188.1 252.6,1188.3 254.6,1188.4 256.6,1188.5 258.6,1188.6 260.6,1188.8 262.6,1188.9 264.6,1189.0 266.6,1189.1 268.6,1189.2 270.6,1189.3 272.6,1189.3 274.6,1189.4 276.6,1189.5 278.6,1189.6 280.6,1189.7 282.6,1189.8 284.6,1189.9 286.6,1190.0 288.6,1190.1 290.6,1190.2 292.6,1190.2 294.6,1190.3 296.6,1190.5 298.6,1190.6 300.6,1190.7 302.6,1190.8 304.6,1190.9 306.6,1191.0 308.6,1191.2 310.6,1191.3 312.6,1191.4 314.6,1191.6 316.6,1191.7 318.6,1191.9 320.6,1192.0 322.6,1192.2 324.6,1192.3 326.6,1192.5 328.6,1192.7 330.6,1192.8 332.6,1193.0 334.6,1193.2 336.6,1193.4 338.6,1193.6 340.6,1193.8 342.6,1194.1 344.6,1194.4 346.6,1194.7 348.6,1195.1 350.6,1195.4 352.6,1195.8 354.6,1196.1 356.6,1196.4 358.6,1196.6 360.6,1196.8 362.6,1197.0 364.6,1197.2 366.6,1197.4 368.6,1197.6 370.6,1197.7 372.6,1197.9 374.6,1198.1 376.6,1198.2 378.6,1198.4 380.6,1198.5 382.6,1198.7 384.6,1198.9 386.6,1199.0 388.6,1199.2 390.6,1199.4 392.6,1199.6 394.6,1199.8 396.6,1200.0 398.6,1200.2 400.6,1200.4 402.6,1200.6 404.6,1200.8 406.6,1201.0 408.6,1201.1 410.6,1201.3 412.6,1201.5 414.6,1201.7 416.6,1201.8 418.6,1202.0 420.6,1202.1 422.6,1202.2 424.6,1202.4 426.6,1202.5 428.6,1202.6 430.6,1202.8 432.6,1202.9 434.6,1203.0 436.6,1203.1 438.6,1203.2 440.6,1203.4 442.6,1203.5 444.6,1203.6 446.6,1203.7 448.6,1203.8 450.6,1203.9 452.6,1204.0 454.6,1204.1 456.6,1204.2 458.6,1204.4 460.6,1204.5 462.6,1204.6 464.6,1204.7 466.6,1204.8 468.6,1204.9 470.6,1205.0 472.6,1205.2 474.6,1205.3 476.6,1205.4 478.6,1205.5 480.6,1205.6 482.6,1205.8 484.6,1205.9 486.6,1206.0 488.6,1206.1 490.6,1206.2 492.6,1206.3 494.6,1206.4 496.6,1206.5 498.6,1206.6 500.6,1206.7 502.6,1206.8 504.6,1206.9 506.6,1207.0 508.6,1207.1 510.6,1207.2 512.6,1207.3 514.6,1207.3 516.6,1207.4 518.6,1207.5 520.6,1207.6 522.6,1207.7 524.6,1207.8 526.6,1207.8 528.6,1207.9 530.6,1208.0 532.6,1208.1 534.6,1208.2 536.6,1208.3 538.6,1208.3 540.6,1208.4 542.6,1208.5 544.6,1208.6 546.6,1208.6 548.6,1208.7 550.6,1208.8 552.6,1208.8 554.6,1208.9 556.6,1208.9 558.6,1209.0 560.6,1209.0 562.6,1209.0 564.6,1209.1 566.6,1209.1 568.6,1209.1 570.6,1209.1 572.6,1209.1 574.6,1209.2 576.6,1209.2 578.6,1209.2 580.6,1209.2 582.6,1209.2 584.6,1209.2 586.6,1209.2 588.6,1209.2 590.6,1209.2 592.6,1209.2 594.6,1209.2 596.6,1209.2 598.6,1209.2 600.6,1209.2 602.6,1209.2 604.6,1209.2 606.6,1209.2 608.6,1209.2 610.6,1209.2 612.6,1209.2 614.6,1209.2 616.6,1209.2 618.6,1209.2 620.6,1209.2 622.6,1209.2 624.6,1209.2 626.6,1209.2 628.6,1209.2 630.6,1209.2 632.6,1209.1 634.6,1209.1 636.6,1209.1 638.6,1209.0 640.6,1208.9 642.6,1208.8 644.6,1208.7 646.6,1208.6 648.6,1208.5 650.6,1208.3 652.6,1208.2 654.6,1208.1 656.6,1207.9 658.6,1207.8 660.6,1207.6 662.6,1207.5 664.6,1207.3 666.6,1207.2 668.6,1207.1 670.6,1206.9 672.6,1206.8 674.6,1206.7 676.6,1206.5 678.6,1206.4 680.6,1206.3 682.6,1206.1 684.6,1206.0 686.6,1205.8 688.6,1205.7 690.6,1205.5 692.6,1205.3 694.6,1205.2 696.6,1205.0 698.6,1204.8 700.6,1204.7 702.6,1204.5 704.6,1204.3 706.6,1204.1 708.6,1203.9 710.6,1203.7 712.6,1203.5 714.6,1203.3 716.6,1203.1 718.6,1202.9 720.6,1202.7 722.6,1202.5 724.6,1202.2 726.6,1202.0 728.6,1201.8 730.6,1201.6 732.6,1201.4 734.6,1201.2 736.6,1201.0 738.6,1200.7 740.6,1200.5 742.6,1200.3 744.6,1200.1 746.6,1199.8 748.6,1199.6 750.6,1199.4 752.6,1199.1 754.6,1198.9 756.6,1198.6 758.6,1198.4 760.6,1198.1 762.6,1197.8 764.6,1197.6 766.6,1197.3 768.6,1197.0 770.6,1196.8 772.6,1196.6 774.6,1196.4 776.6,1196.2 778.6,1196.0 780.6,1195.8 782.6,1195.6 784.6,1195.4 786.6,1195.2 788.6,1195.1 790.6,1195.0 792.6,1194.8 794.6,1194.7 796.6,1194.6 798.6,1194.5 800.6,1194.4 802.6,1194.4 804.6,1194.3 806.6,1194.2 808.6,1194.1 810.6,1194.1 812.6,1194.0 814.6,1194.0 816.6,1193.9 818.6,1193.9 820.6,1193.9 822.6,1193.9 824.6,1193.9 826.6,1193.9 828.6,1193.9 830.6,1193.9 832.6,1193.9 834.6,1193.9 836.6,1193.9 838.6,1193.9 840.6,1193.9 842.6,1193.9 844.6,1193.9 846.6,1193.9 848.6,1193.9 850.6,1193.9 852.6,1193.9 854.6,1193.9 856.6,1193.9 858.6,1193.9 860.6,1193.9 862.6,1193.9 864.6,1193.9 866.6,1193.9 868.6,1193.9 870.6,1193.9 872.6,1193.9 874.6,1193.9 876.6,1193.8 878.6,1193.8 880.6,1193.8 882.6,1193.8 884.6,1193.8 886.6,1193.7 888.6,1193.7 890.6,1193.7 892.6,1193.6 894.6,1193.5 896.6,1193.5 898.6,1193.4 900.6,1193.3 902.6,1193.1 904.6,1193.0 906.6,1192.8 908.6,1192.6 910.6,1192.4 912.6,1192.1 914.6,1191.8 916.6,1191.5 918.6,1191.0 920.6,1190.6 922.6,1190.0 924.6,1189.4 926.6,1188.7 928.6,1187.9 930.6,1187.0 932.6,1185.9 934.6,1184.8 936.6,1183.5 938.6,1182.0 940.6,1180.4 942.6,1178.6 944.6,1176.6 946.6,1174.3 948.6,1171.9 950.6,1169.1 952.6,1166.1 954.6,1162.9 956.6,1159.2 958.6,1155.3 960.6,1151.0 962.6,1146.3 964.6,1141.2 966.6,1135.6 968.6,1129.7 970.6,1123.2 972.6,1116.4 974.6,1109.2 976.6,1101.5 978.6,1093.6 980.6,1085.4 982.6,1076.9 984.6,1068.3 986.6,1059.6 988.6,1050.8 990.6,1042.0 992.6,1033.1 994.6,1024.3 996.6,1015.6 998.6,1006.9 1000.6,998.3 1002.6,989.9 1004.6,981.6 1006.6,973.6 1008.6,965.7 1010.6,958.2 1012.6,951.0 1014.6,944.1 1016.6,937.6 1018.6,931.6 1020.6,926.0 1022.6,920.9 1024.6,916.4 1026.6,912.5 1028.6,909.1 1030.6,906.3 1032.6,904.2 1034.6,902.7 1036.6,901.9 1038.1,901.7 1040.1,902.3 1042.1,903.4 1044.1,904.9 1046.1,906.7 1048.1,909.6 1050.1,913.1 1052.1,916.6 1054.1,919.6 1056.1,922.3 1058.1,925.0 1060.1,927.8 1062.1,930.7 1064.1,934.1 1066.1,938.0 1068.1,942.0 1070.1,946.0 1072.1,949.8 1074.1,953.5 1076.1,957.2 1078.1,961.2 1080.1,965.8 1082.1,971.1 1084.1,976.2 1086.1,980.4 1088.1,984.3 1090.1,987.9 1092.1,991.4 1094.1,994.9 1096.1,998.3 1098.1,1001.5 1100.1,1004.7 1102.1,1007.8 1104.1,1010.8 1106.1,1013.8 1108.1,1016.6 1110.1,1019.4 1112.1,1022.1 1114.1,1024.8 1116.1,1027.4 1118.1,1029.9 1120.1,1032.2 1122.1,1034.4 1124.1,1036.4 1126.1,1038.4 1128.1,1040.2 1130.1,1041.6 1132.1,1042.6 1134.1,1043.4 1136.1,1044.2 1138.1,1044.9 1140.1,1045.4 1142.1,1045.6 1144.1,1045.6 1146.1,1045.5 1148.1,1045.1 1150.1,1044.7 1152.1,1044.2 1154.1,1043.6 1156.1,1042.9 1158.1,1042.2 1160.1,1041.1 1162.1,1039.6 1164.1,1038.0 1166.1,1036.2 1168.1,1034.4 1170.1,1032.6 1172.1,1030.5 1174.1,1028.2 1176.1,1025.9 1178.1,1023.6 1180.1,1021.3 1182.1,1019.0 1184.1,1016.7 1186.1,1014.4 1188.1,1012.2 1190.1,1010.2 1192.1,1008.3 1194.1,1006.5 1196.1,1004.7 1198.1,1002.9 1200.1,1001.1 1202.1,999.2 1204.1,997.3 1206.1,995.2 1208.1,993.2 1210.1,991.1 1212.1,989.0 1214.1,986.9 1215.3,985.6 1215.3,1211.8" fill="url(#g2)" fill-opacity="0.5" stroke="none"/>
<line x1="91.0" y1="1179.0" x2="91.0" y2="1211.8" stroke="#0c0c0c" stroke-width="2" />
<polyline points="90.6,1179.0 92.6,1179.6 94.6,1180.1 96.6,1180.7 98.6,1181.2 100.6,1181.6 102.6,1182.1 104.6,1182.5 106.6,1182.9 108.6,1183.2 110.6,1183.6 112.6,1184.0 114.6,1184.3 116.6,1184.7 118.6,1184.9 120.6,1185.1 122.6,1185.3 124.6,1185.3 126.6,1185.2 128.6,1184.9 130.6,1184.5 132.6,1184.1 134.6,1183.6 136.6,1183.2 138.6,1182.9 140.6,1182.7 142.6,1182.5 144.6,1182.3 146.6,1182.0 148.6,1181.9 150.6,1181.7 152.6,1181.7 154.6,1181.7 156.6,1181.7 158.6,1181.7 160.6,1181.7 162.6,1181.8 164.6,1181.9 166.6,1182.0 168.6,1182.1 170.6,1182.2 172.6,1182.3 174.6,1182.4 176.6,1182.5 178.6,1182.6 180.6,1182.7 182.6,1182.8 184.6,1182.9 186.6,1183.0 188.6,1183.1 190.6,1183.2 192.6,1183.4 194.6,1183.5 196.6,1183.6 198.6,1183.8 200.6,1183.9 202.6,1184.0 204.6,1184.2 206.6,1184.3 208.6,1184.5 210.6,1184.6 212.6,1184.8 214.6,1184.9 216.6,1185.1 218.6,1185.3 220.6,1185.4 222.6,1185.6 224.6,1185.8 226.6,1185.9 228.6,1186.1 230.6,1186.3 232.6,1186.5 234.6,1186.7 236.6,1186.9 238.6,1187.1 240.6,1187.3 242.6,1187.5 244.6,1187.7 246.6,1187.8 248.6,1188.0 250.6,1188.1 252.6,1188.3 254.6,1188.4 256.6,1188.5 258.6,1188.6 260.6,1188.8 262.6,1188.9 264.6,1189.0 266.6,1189.1 268.6,1189.2 270.6,1189.3 272.6,1189.3 274.6,1189.4 276.6,1189.5 278.6,1189.6 280.6,1189.7 282.6,1189.8 284.6,1189.9 286.6,1190.0 288.6,1190.1 290.6,1190.2 292.6,1190.2 294.6,1190.3 296.6,1190.5 298.6,1190.6 300.6,1190.7 302.6,1190.8 304.6,1190.9 306.6,1191.0 308.6,1191.2 310.6,1191.3 312.6,1191.4 314.6,1191.6 316.6,1191.7 318.6,1191.9 320.6,1192.0 322.6,1192.2 324.6,1192.3 326.6,1192.5 328.6,1192.7 330.6,1192.8 332.6,1193.0 334.6,1193.2 336.6,1193.4 338.6,1193.6 340.6,1193.8 342.6,1194.1 344.6,1194.4 346.6,1194.7 348.6,1195.1 350.6,1195.4 352.6,1195.8 354.6,1196.1 356.6,1196.4 358.6,1196.6 360.6,1196.8 362.6,1197.0 364.6,1197.2 366.6,1197.4 368.6,1197.6 370.6,1197.7 372.6,1197.9 374.6,1198.1 376.6,1198.2 378.6,1198.4 380.6,1198.5 382.6,1198.7 384.6,1198.9 386.6,1199.0 388.6,1199.2 390.6,1199.4 392.6,1199.6 394.6,1199.8 396.6,1200.0 398.6,1200.2 400.6,1200.4 402.6,1200.6 404.6,1200.8 406.6,1201.0 408.6,1201.1 410.6,1201.3 412.6,1201.5 414.6,1201.7 416.6,1201.8 418.6,1202.0 420.6,1202.1 422.6,1202.2 424.6,1202.4 426.6,1202.5 428.6,1202.6 430.6,1202.8 432.6,1202.9 434.6,1203.0 436.6,1203.1 438.6,1203.2 440.6,1203.4 442.6,1203.5 444.6,1203.6 446.6,1203.7 448.6,1203.8 450.6,1203.9 452.6,1204.0 454.6,1204.1 456.6,1204.2 458.6,1204.4 460.6,1204.5 462.6,1204.6 464.6,1204.7 466.6,1204.8 468.6,1204.9 470.6,1205.0 472.6,1205.2 474.6,1205.3 476.6,1205.4 478.6,1205.5 480.6,1205.6 482.6,1205.8 484.6,1205.9 486.6,1206.0 488.6,1206.1 490.6,1206.2 492.6,1206.3 494.6,1206.4 496.6,1206.5 498.6,1206.6 500.6,1206.7 502.6,1206.8 504.6,1206.9 506.6,1207.0 508.6,1207.1 510.6,1207.2 512.6,1207.3 514.6,1207.3 516.6,1207.4 518.6,1207.5 520.6,1207.6 522.6,1207.7 524.6,1207.8 526.6,1207.8 528.6,1207.9 530.6,1208.0 532.6,1208.1 534.6,1208.2 536.6,1208.3 538.6,1208.3 540.6,1208.4 542.6,1208.5 544.6,1208.6 546.6,1208.6 548.6,1208.7 550.6,1208.8 552.6,1208.8 554.6,1208.9 556.6,1208.9 558.6,1209.0 560.6,1209.0 562.6,1209.0 564.6,1209.1 566.6,1209.1 568.6,1209.1 570.6,1209.1 572.6,1209.1 574.6,1209.2 576.6,1209.2 578.6,1209.2 580.6,1209.2 582.6,1209.2 584.6,1209.2 586.6,1209.2 588.6,1209.2 590.6,1209.2 592.6,1209.2 594.6,1209.2 596.6,1209.2 598.6,1209.2 600.6,1209.2 602.6,1209.2 604.6,1209.2 606.6,1209.2 608.6,1209.2 610.6,1209.2 612.6,1209.2 614.6,1209.2 616.6,1209.2 618.6,1209.2 620.6,1209.2 622.6,1209.2 624.6,1209.2 626.6,1209.2 628.6,1209.2 630.6,1209.2 632.6,1209.1 634.6,1209.1 636.6,1209.1 638.6,1209.0 640.6,1208.9 642.6,1208.8 644.6,1208.7 646.6,1208.6 648.6,1208.5 650.6,1208.3 652.6,1208.2 654.6,1208.1 656.6,1207.9 658.6,1207.8 660.6,1207.6 662.6,1207.5 664.6,1207.3 666.6,1207.2 668.6,1207.1 670.6,1206.9 672.6,1206.8 674.6,1206.7 676.6,1206.5 678.6,1206.4 680.6,1206.3 682.6,1206.1 684.6,1206.0 686.6,1205.8 688.6,1205.7 690.6,1205.5 692.6,1205.3 694.6,1205.2 696.6,1205.0 698.6,1204.8 700.6,1204.7 702.6,1204.5 704.6,1204.3 706.6,1204.1 708.6,1203.9 710.6,1203.7 712.6,1203.5 714.6,1203.3 716.6,1203.1 718.6,1202.9 720.6,1202.7 722.6,1202.5 724.6,1202.2 726.6,1202.0 728.6,1201.8 730.6,1201.6 732.6,1201.4 734.6,1201.2 736.6,1201.0 738.6,1200.7 740.6,1200.5 742.6,1200.3 744.6,1200.1 746.6,1199.8 748.6,1199.6 750.6,1199.4 752.6,1199.1 754.6,1198.9 756.6,1198.6 758.6,1198.4 760.6,1198.1 762.6,1197.8 764.6,1197.6 766.6,1197.3 768.6,1197.0 770.6,1196.8 772.6,1196.6 774.6,1196.4 776.6,1196.2 778.6,1196.0 780.6,1195.8 782.6,1195.6 784.6,1195.4 786.6,1195.2 788.6,1195.1 790.6,1195.0 792.6,1194.8 794.6,1194.7 796.6,1194.6 798.6,1194.5 800.6,1194.4 802.6,1194.4 804.6,1194.3 806.6,1194.2 808.6,1194.1 810.6,1194.1 812.6,1194.0 814.6,1194.0 816.6,1193.9 818.6,1193.9 820.6,1193.9 822.6,1193.9 824.6,1193.9 826.6,1193.9 828.6,1193.9 830.6,1193.9 832.6,1193.9 834.6,1193.9 836.6,1193.9 838.6,1193.9 840.6,1193.9 842.6,1193.9 844.6,1193.9 846.6,1193.9 848.6,1193.9 850.6,1193.9 852.6,1193.9 854.6,1193.9 856.6,1193.9 858.6,1193.9 860.6,1193.9 862.6,1193.9 864.6,1193.9 866.6,1193.9 868.6,1193.9 870.6,1193.9 872.6,1193.9 874.6,1193.9 876.6,1193.8 878.6,1193.8 880.6,1193.8 882.6,1193.8 884.6,1193.8 886.6,1193.7 888.6,1193.7 890.6,1193.7 892.6,1193.6 894.6,1193.5 896.6,1193.5 898.6,1193.4 900.6,1193.3 902.6,1193.1 904.6,1193.0 906.6,1192.8 908.6,1192.6 910.6,1192.4 912.6,1192.1 914.6,1191.8 916.6,1191.5 918.6,1191.0 920.6,1190.6 922.6,1190.0 924.6,1189.4 926.6,1188.7 928.6,1187.9 930.6,1187.0 932.6,1185.9 934.6,1184.8 936.6,1183.5 938.6,1182.0 940.6,1180.4 942.6,1178.6 944.6,1176.6 946.6,1174.3 948.6,1171.9 950.6,1169.1 952.6,1166.1 954.6,1162.9 956.6,1159.2 958.6,1155.3 960.6,1151.0 962.6,1146.3 964.6,1141.2 966.6,1135.6 968.6,1129.7 970.6,1123.2 972.6,1116.4 974.6,1109.2 976.6,1101.5 978.6,1093.6 980.6,1085.4 982.6,1076.9 984.6,1068.3 986.6,1059.6 988.6,1050.8 990.6,1042.0 992.6,1033.1 994.6,1024.3 996.6,1015.6 998.6,1006.9 1000.6,998.3 1002.6,989.9 1004.6,981.6 1006.6,973.6 1008.6,965.7 1010.6,958.2 1012.6,951.0 1014.6,944.1 1016.6,937.6 1018.6,931.6 1020.6,926.0 1022.6,920.9 1024.6,916.4 1026.6,912.5 1028.6,909.1 1030.6,906.3 1032.6,904.2 1034.6,902.7 1036.6,901.9 1038.1,901.7 1040.1,902.3 1042.1,903.4 1044.1,904.9 1046.1,906.7 1048.1,909.6 1050.1,913.1 1052.1,916.6 1054.1,919.6 1056.1,922.3 1058.1,925.0 1060.1,927.8 1062.1,930.7 1064.1,934.1 1066.1,938.0 1068.1,942.0 1070.1,946.0 1072.1,949.8 1074.1,953.5 1076.1,957.2 1078.1,961.2 1080.1,965.8 1082.1,971.1 1084.1,976.2 1086.1,980.4 1088.1,984.3 1090.1,987.9 1092.1,991.4 1094.1,994.9 1096.1,998.3 1098.1,1001.5 1100.1,1004.7 1102.1,1007.8 1104.1,1010.8 1106.1,1013.8 1108.1,1016.6 1110.1,1019.4 1112.1,1022.1 1114.1,1024.8 1116.1,1027.4 1118.1,1029.9 1120.1,1032.2 1122.1,1034.4 1124.1,1036.4 1126.1,1038.4 1128.1,1040.2 1130.1,1041.6 1132.1,1042.6 1134.1,1043.4 1136.1,1044.2 1138.1,1044.9 1140.1,1045.4 1142.1,1045.6 1144.1,1045.6 1146.1,1045.5 1148.1,1045.1 1150.1,1044.7 1152.1,1044.2 1154.1,1043.6 1156.1,1042.9 1158.1,1042.2 1160.1,1041.1 1162.1,1039.6 1164.1,1038.0 1166.1,1036.2 1168.1,1034.4 1170.1,1032.6 1172.1,1030.5 1174.1,1028.2 1176.1,1025.9 1178.1,1023.6 1180.1,1021.3 1182.1,1019.0 1184.1,1016.7 1186.1,1014.4 1188.1,1012.2 1190.1,1010.2 1192.1,1008.3 1194.1,1006.5 1196.1,1004.7 1198.1,1002.9 1200.1,1001.1 1202.1,999.2 1204.1,997.3 1206.1,995.2 1208.1,993.2 1210.1,991.1 1212.1,989.0 1214.1,986.9 1215.3,985.6" fill="none" stroke="#0a0a0a" stroke-width="1.5" stroke-dasharray="3 7" stroke-linejoin="round"/>
</g>
<g id="c1">
<line x1="60.6" y1="1264.0" x2="1186.3" y2="1264.0" stroke="#c0c8b8" stroke-width="1.6" />
<polygon points="60.6,1264.0 60.6,1231.3 62.6,1232.8 64.6,1234.3 66.6,1235.7 68.6,1237.0 70.6,1238.1 72.6,1239.2 74.6,1240.0 76.6,1240.8 78.6,1241.7 80.6,1242.4 82.6,1243.2 84.6,1243.8 86.6,1244.3 88.6,1244.7 90.6,1245.0 92.6,1245.0 94.6,1245.0 96.6,1245.0 98.6,1244.9 100.6,1244.9 102.6,1244.8 104.6,1244.8 106.6,1244.7 108.6,1244.6 110.6,1244.6 112.6,1244.5 114.6,1244.5 116.6,1244.4 118.6,1244.3 120.6,1244.2 122.6,1244.1 124.6,1244.0 126.6,1244.0 128.6,1244.0 130.6,1244.0 132.6,1244.0 134.6,1244.1 136.6,1244.2 138.6,1244.3 140.6,1244.5 142.6,1244.6 144.6,1244.8 146.6,1245.0 148.6,1245.2 150.6,1245.5 152.6,1245.8 154.6,1246.2 156.6,1246.7 158.6,1247.2 160.6,1247.6 162.6,1248.0 164.6,1248.2 166.6,1248.4 168.6,1248.6 170.6,1248.8 172.6,1249.0 174.6,1249.1 176.6,1249.3 178.6,1249.4 180.6,1249.6 182.6,1249.7 184.6,1249.8 186.6,1249.9 188.6,1250.1 190.6,1250.2 192.6,1250.3 194.6,1250.4 196.6,1250.4 198.6,1250.5 200.6,1250.6 202.6,1250.7 204.6,1250.8 206.6,1250.9 208.6,1250.9 210.6,1251.0 212.6,1251.1 214.6,1251.1 216.6,1251.2 218.6,1251.3 220.6,1251.3 222.6,1251.4 224.6,1251.4 226.6,1251.5 228.6,1251.6 230.6,1251.6 232.6,1251.7 234.6,1251.7 236.6,1251.8 238.6,1251.9 240.6,1251.9 242.6,1252.0 244.6,1252.1 246.6,1252.1 248.6,1252.2 250.6,1252.3 252.6,1252.4 254.6,1252.4 256.6,1252.5 258.6,1252.6 260.6,1252.7 262.6,1252.8 264.6,1252.8 266.6,1252.9 268.6,1253.0 270.6,1253.1 272.6,1253.2 274.6,1253.3 276.6,1253.3 278.6,1253.4 280.6,1253.5 282.6,1253.6 284.6,1253.7 286.6,1253.8 288.6,1253.9 290.6,1254.0 292.6,1254.1 294.6,1254.2 296.6,1254.3 298.6,1254.4 300.6,1254.5 302.6,1254.6 304.6,1254.7 306.6,1254.8 308.6,1254.9 310.6,1255.0 312.6,1255.1 314.6,1255.2 316.6,1255.3 318.6,1255.4 320.6,1255.6 322.6,1255.7 324.6,1255.8 326.6,1255.9 328.6,1256.0 330.6,1256.1 332.6,1256.2 334.6,1256.3 336.6,1256.3 338.6,1256.4 340.6,1256.5 342.6,1256.6 344.6,1256.7 346.6,1256.8 348.6,1256.9 350.6,1257.0 352.6,1257.1 354.6,1257.2 356.6,1257.3 358.6,1257.4 360.6,1257.5 362.6,1257.6 364.6,1257.6 366.6,1257.7 368.6,1257.8 370.6,1257.9 372.6,1258.0 374.6,1258.1 376.6,1258.2 378.6,1258.3 380.6,1258.3 382.6,1258.4 384.6,1258.5 386.6,1258.6 388.6,1258.7 390.6,1258.7 392.6,1258.8 394.6,1258.9 396.6,1259.0 398.6,1259.0 400.6,1259.1 402.6,1259.2 404.6,1259.2 406.6,1259.3 408.6,1259.4 410.6,1259.5 412.6,1259.5 414.6,1259.6 416.6,1259.7 418.6,1259.7 420.6,1259.8 422.6,1259.8 424.6,1259.9 426.6,1260.0 428.6,1260.0 430.6,1260.1 432.6,1260.2 434.6,1260.2 436.6,1260.3 438.6,1260.3 440.6,1260.4 442.6,1260.5 444.6,1260.5 446.6,1260.6 448.6,1260.6 450.6,1260.7 452.6,1260.8 454.6,1260.8 456.6,1260.9 458.6,1260.9 460.6,1261.0 462.6,1261.0 464.6,1261.1 466.6,1261.2 468.6,1261.2 470.6,1261.3 472.6,1261.3 474.6,1261.4 476.6,1261.4 478.6,1261.5 480.6,1261.6 482.6,1261.6 484.6,1261.7 486.6,1261.8 488.6,1261.8 490.6,1261.9 492.6,1262.0 494.6,1262.0 496.6,1262.1 498.6,1262.2 500.6,1262.2 502.6,1262.3 504.6,1262.3 506.6,1262.4 508.6,1262.4 510.6,1262.4 512.6,1262.5 514.6,1262.5 516.6,1262.5 518.6,1262.5 520.6,1262.5 522.6,1262.5 524.6,1262.5 526.6,1262.5 528.6,1262.5 530.6,1262.5 532.6,1262.5 534.6,1262.5 536.6,1262.5 538.6,1262.5 540.6,1262.5 542.6,1262.5 544.6,1262.5 546.6,1262.5 548.6,1262.5 550.6,1262.5 552.6,1262.5 554.6,1262.5 556.6,1262.5 558.6,1262.5 560.6,1262.5 562.6,1262.5 564.6,1262.5 566.6,1262.5 568.6,1262.5 570.6,1262.5 572.6,1262.5 574.6,1262.5 576.6,1262.5 578.6,1262.5 580.6,1262.5 582.6,1262.5 584.6,1262.5 586.6,1262.5 588.6,1262.5 590.6,1262.5 592.6,1262.5 594.6,1262.5 596.6,1262.5 598.6,1262.5 600.6,1262.5 602.6,1262.5 604.6,1262.5 606.6,1262.5 608.6,1262.5 610.6,1262.5 612.6,1262.5 614.6,1262.5 616.6,1262.4 618.6,1262.4 620.6,1262.4 622.6,1262.3 624.6,1262.3 626.6,1262.2 628.6,1262.1 630.6,1262.0 632.6,1262.0 634.6,1261.9 636.6,1261.8 638.6,1261.7 640.6,1261.6 642.6,1261.5 644.6,1261.5 646.6,1261.4 648.6,1261.3 650.6,1261.2 652.6,1261.1 654.6,1261.1 656.6,1261.0 658.6,1260.9 660.6,1260.8 662.6,1260.7 664.6,1260.6 666.6,1260.5 668.6,1260.4 670.6,1260.3 672.6,1260.2 674.6,1260.1 676.6,1260.0 678.6,1259.9 680.6,1259.8 682.6,1259.7 684.6,1259.6 686.6,1259.5 688.6,1259.4 690.6,1259.3 692.6,1259.2 694.6,1259.1 696.6,1259.0 698.6,1258.9 700.6,1258.8 702.6,1258.6 704.6,1258.5 706.6,1258.4 708.6,1258.3 710.6,1258.1 712.6,1258.0 714.6,1257.9 716.6,1257.7 718.6,1257.6 720.6,1257.5 722.6,1257.4 724.6,1257.2 726.6,1257.1 728.6,1257.0 730.6,1256.9 732.6,1256.7 734.6,1256.6 736.6,1256.5 738.6,1256.4 740.6,1256.3 742.6,1256.2 744.6,1256.2 746.6,1256.1 748.6,1256.0 750.6,1255.9 752.6,1255.8 754.6,1255.7 756.6,1255.6 758.6,1255.6 760.6,1255.5 762.6,1255.4 764.6,1255.3 766.6,1255.2 768.6,1255.2 770.6,1255.1 772.6,1255.0 774.6,1255.0 776.6,1254.9 778.6,1254.8 780.6,1254.8 782.6,1254.7 784.6,1254.7 786.6,1254.7 788.6,1254.6 790.6,1254.6 792.6,1254.6 794.6,1254.6 796.6,1254.6 798.6,1254.6 800.6,1254.6 802.6,1254.6 804.6,1254.6 806.6,1254.6 808.6,1254.6 810.6,1254.6 812.6,1254.6 814.6,1254.6 816.6,1254.6 818.6,1254.6 820.6,1254.6 822.6,1254.6 824.6,1254.6 826.6,1254.6 828.6,1254.6 830.6,1254.6 832.6,1254.6 834.6,1254.6 836.6,1254.6 838.6,1254.6 840.6,1254.6 842.6,1254.5 844.6,1254.5 846.6,1254.5 848.6,1254.5 850.6,1254.5 852.6,1254.5 854.6,1254.5 856.6,1254.4 858.6,1254.4 860.6,1254.4 862.6,1254.3 864.6,1254.3 866.6,1254.2 868.6,1254.2 870.6,1254.1 872.6,1254.0 874.6,1253.9 876.6,1253.8 878.6,1253.6 880.6,1253.4 882.6,1253.2 884.6,1253.0 886.6,1252.7 888.6,1252.4 890.6,1252.1 892.6,1251.6 894.6,1251.2 896.6,1250.6 898.6,1250.0 900.6,1249.3 902.6,1248.5 904.6,1247.6 906.6,1246.6 908.6,1245.5 910.6,1244.3 912.6,1242.9 914.6,1241.3 916.6,1239.6 918.6,1237.7 920.6,1235.6 922.6,1233.3 924.6,1230.7 926.6,1227.9 928.6,1224.8 930.6,1221.5 932.6,1217.8 934.6,1213.8 936.6,1209.5 938.6,1204.8 940.6,1199.7 942.6,1194.3 944.6,1188.6 946.6,1182.5 948.6,1176.2 950.6,1169.6 952.6,1162.7 954.6,1155.8 956.6,1148.7 958.6,1141.5 960.6,1134.3 962.6,1127.1 964.6,1119.9 966.6,1112.7 968.6,1105.6 970.6,1098.5 972.6,1091.6 974.6,1084.7 976.6,1078.0 978.6,1071.5 980.6,1065.2 982.6,1059.2 984.6,1053.4 986.6,1047.9 988.6,1042.8 990.6,1038.0 992.6,1033.7 994.6,1029.7 996.6,1026.2 998.6,1023.2 1000.6,1020.7 1002.6,1018.6 1004.6,1017.1 1006.6,1016.2 1008.6,1015.7 1009.2,1015.7 1011.2,1016.2 1013.2,1017.0 1015.2,1018.1 1017.2,1019.4 1019.2,1020.7 1021.2,1022.5 1023.2,1024.9 1025.2,1027.6 1027.2,1030.4 1029.2,1033.4 1031.2,1036.2 1033.2,1039.0 1035.2,1042.0 1037.2,1045.0 1039.2,1048.0 1041.2,1050.8 1043.2,1053.5 1045.2,1056.1 1047.2,1058.7 1049.2,1061.3 1051.2,1064.0 1053.2,1066.7 1055.2,1069.5 1057.2,1072.3 1059.2,1074.9 1061.2,1077.3 1063.2,1079.6 1065.2,1081.8 1067.2,1083.9 1069.2,1086.0 1071.2,1088.1 1073.2,1090.1 1075.2,1092.2 1077.2,1094.3 1079.2,1096.2 1081.2,1098.1 1083.2,1099.7 1085.2,1101.1 1087.2,1102.5 1089.2,1103.7 1091.2,1104.9 1093.2,1105.9 1095.2,1106.7 1097.2,1107.4 1099.2,1108.0 1101.2,1108.6 1103.2,1109.1 1105.2,1109.2 1107.2,1109.2 1109.2,1109.0 1111.2,1108.6 1113.2,1108.2 1115.2,1107.7 1117.2,1106.7 1119.2,1105.5 1121.2,1104.2 1123.2,1102.8 1125.2,1101.4 1127.2,1099.8 1129.2,1098.1 1131.2,1096.3 1133.2,1094.3 1135.2,1092.3 1137.2,1090.0 1139.2,1087.5 1141.2,1084.8 1143.2,1082.2 1145.2,1079.6 1147.2,1077.3 1149.2,1075.2 1151.2,1073.2 1153.2,1071.2 1155.2,1069.4 1157.2,1067.6 1159.2,1065.8 1161.2,1064.0 1163.2,1062.1 1165.2,1060.3 1167.2,1058.3 1169.2,1056.4 1171.2,1054.4 1173.2,1052.4 1175.2,1050.4 1177.2,1048.3 1179.2,1046.3 1181.2,1044.2 1183.2,1042.2 1185.2,1040.1 1185.3,1040.0 1185.3,1264.0" fill="url(#g1)" fill-opacity="0.5" stroke="none"/>
<polyline points="60.6,1231.3 62.6,1232.8 64.6,1234.3 66.6,1235.7 68.6,1237.0 70.6,1238.1 72.6,1239.2 74.6,1240.0 76.6,1240.8 78.6,1241.7 80.6,1242.4 82.6,1243.2 84.6,1243.8 86.6,1244.3 88.6,1244.7 90.6,1245.0 92.6,1245.0 94.6,1245.0 96.6,1245.0 98.6,1244.9 100.6,1244.9 102.6,1244.8 104.6,1244.8 106.6,1244.7 108.6,1244.6 110.6,1244.6 112.6,1244.5 114.6,1244.5 116.6,1244.4 118.6,1244.3 120.6,1244.2 122.6,1244.1 124.6,1244.0 126.6,1244.0 128.6,1244.0 130.6,1244.0 132.6,1244.0 134.6,1244.1 136.6,1244.2 138.6,1244.3 140.6,1244.5 142.6,1244.6 144.6,1244.8 146.6,1245.0 148.6,1245.2 150.6,1245.5 152.6,1245.8 154.6,1246.2 156.6,1246.7 158.6,1247.2 160.6,1247.6 162.6,1248.0 164.6,1248.2 166.6,1248.4 168.6,1248.6 170.6,1248.8 172.6,1249.0 174.6,1249.1 176.6,1249.3 178.6,1249.4 180.6,1249.6 182.6,1249.7 184.6,1249.8 186.6,1249.9 188.6,1250.1 190.6,1250.2 192.6,1250.3 194.6,1250.4 196.6,1250.4 198.6,1250.5 200.6,1250.6 202.6,1250.7 204.6,1250.8 206.6,1250.9 208.6,1250.9 210.6,1251.0 212.6,1251.1 214.6,1251.1 216.6,1251.2 218.6,1251.3 220.6,1251.3 222.6,1251.4 224.6,1251.4 226.6,1251.5 228.6,1251.6 230.6,1251.6 232.6,1251.7 234.6,1251.7 236.6,1251.8 238.6,1251.9 240.6,1251.9 242.6,1252.0 244.6,1252.1 246.6,1252.1 248.6,1252.2 250.6,1252.3 252.6,1252.4 254.6,1252.4 256.6,1252.5 258.6,1252.6 260.6,1252.7 262.6,1252.8 264.6,1252.8 266.6,1252.9 268.6,1253.0 270.6,1253.1 272.6,1253.2 274.6,1253.3 276.6,1253.3 278.6,1253.4 280.6,1253.5 282.6,1253.6 284.6,1253.7 286.6,1253.8 288.6,1253.9 290.6,1254.0 292.6,1254.1 294.6,1254.2 296.6,1254.3 298.6,1254.4 300.6,1254.5 302.6,1254.6 304.6,1254.7 306.6,1254.8 308.6,1254.9 310.6,1255.0 312.6,1255.1 314.6,1255.2 316.6,1255.3 318.6,1255.4 320.6,1255.6 322.6,1255.7 324.6,1255.8 326.6,1255.9 328.6,1256.0 330.6,1256.1 332.6,1256.2 334.6,1256.3 336.6,1256.3 338.6,1256.4 340.6,1256.5 342.6,1256.6 344.6,1256.7 346.6,1256.8 348.6,1256.9 350.6,1257.0 352.6,1257.1 354.6,1257.2 356.6,1257.3 358.6,1257.4 360.6,1257.5 362.6,1257.6 364.6,1257.6 366.6,1257.7 368.6,1257.8 370.6,1257.9 372.6,1258.0 374.6,1258.1 376.6,1258.2 378.6,1258.3 380.6,1258.3 382.6,1258.4 384.6,1258.5 386.6,1258.6 388.6,1258.7 390.6,1258.7 392.6,1258.8 394.6,1258.9 396.6,1259.0 398.6,1259.0 400.6,1259.1 402.6,1259.2 404.6,1259.2 406.6,1259.3 408.6,1259.4 410.6,1259.5 412.6,1259.5 414.6,1259.6 416.6,1259.7 418.6,1259.7 420.6,1259.8 422.6,1259.8 424.6,1259.9 426.6,1260.0 428.6,1260.0 430.6,1260.1 432.6,1260.2 434.6,1260.2 436.6,1260.3 438.6,1260.3 440.6,1260.4 442.6,1260.5 444.6,1260.5 446.6,1260.6 448.6,1260.6 450.6,1260.7 452.6,1260.8 454.6,1260.8 456.6,1260.9 458.6,1260.9 460.6,1261.0 462.6,1261.0 464.6,1261.1 466.6,1261.2 468.6,1261.2 470.6,1261.3 472.6,1261.3 474.6,1261.4 476.6,1261.4 478.6,1261.5 480.6,1261.6 482.6,1261.6 484.6,1261.7 486.6,1261.8 488.6,1261.8 490.6,1261.9 492.6,1262.0 494.6,1262.0 496.6,1262.1 498.6,1262.2 500.6,1262.2 502.6,1262.3 504.6,1262.3 506.6,1262.4 508.6,1262.4 510.6,1262.4 512.6,1262.5 514.6,1262.5 516.6,1262.5 518.6,1262.5 520.6,1262.5 522.6,1262.5 524.6,1262.5 526.6,1262.5 528.6,1262.5 530.6,1262.5 532.6,1262.5 534.6,1262.5 536.6,1262.5 538.6,1262.5 540.6,1262.5 542.6,1262.5 544.6,1262.5 546.6,1262.5 548.6,1262.5 550.6,1262.5 552.6,1262.5 554.6,1262.5 556.6,1262.5 558.6,1262.5 560.6,1262.5 562.6,1262.5 564.6,1262.5 566.6,1262.5 568.6,1262.5 570.6,1262.5 572.6,1262.5 574.6,1262.5 576.6,1262.5 578.6,1262.5 580.6,1262.5 582.6,1262.5 584.6,1262.5 586.6,1262.5 588.6,1262.5 590.6,1262.5 592.6,1262.5 594.6,1262.5 596.6,1262.5 598.6,1262.5 600.6,1262.5 602.6,1262.5 604.6,1262.5 606.6,1262.5 608.6,1262.5 610.6,1262.5 612.6,1262.5 614.6,1262.5 616.6,1262.4 618.6,1262.4 620.6,1262.4 622.6,1262.3 624.6,1262.3 626.6,1262.2 628.6,1262.1 630.6,1262.0 632.6,1262.0 634.6,1261.9 636.6,1261.8 638.6,1261.7 640.6,1261.6 642.6,1261.5 644.6,1261.5 646.6,1261.4 648.6,1261.3 650.6,1261.2 652.6,1261.1 654.6,1261.1 656.6,1261.0 658.6,1260.9 660.6,1260.8 662.6,1260.7 664.6,1260.6 666.6,1260.5 668.6,1260.4 670.6,1260.3 672.6,1260.2 674.6,1260.1 676.6,1260.0 678.6,1259.9 680.6,1259.8 682.6,1259.7 684.6,1259.6 686.6,1259.5 688.6,1259.4 690.6,1259.3 692.6,1259.2 694.6,1259.1 696.6,1259.0 698.6,1258.9 700.6,1258.8 702.6,1258.6 704.6,1258.5 706.6,1258.4 708.6,1258.3 710.6,1258.1 712.6,1258.0 714.6,1257.9 716.6,1257.7 718.6,1257.6 720.6,1257.5 722.6,1257.4 724.6,1257.2 726.6,1257.1 728.6,1257.0 730.6,1256.9 732.6,1256.7 734.6,1256.6 736.6,1256.5 738.6,1256.4 740.6,1256.3 742.6,1256.2 744.6,1256.2 746.6,1256.1 748.6,1256.0 750.6,1255.9 752.6,1255.8 754.6,1255.7 756.6,1255.6 758.6,1255.6 760.6,1255.5 762.6,1255.4 764.6,1255.3 766.6,1255.2 768.6,1255.2 770.6,1255.1 772.6,1255.0 774.6,1255.0 776.6,1254.9 778.6,1254.8 780.6,1254.8 782.6,1254.7 784.6,1254.7 786.6,1254.7 788.6,1254.6 790.6,1254.6 792.6,1254.6 794.6,1254.6 796.6,1254.6 798.6,1254.6 800.6,1254.6 802.6,1254.6 804.6,1254.6 806.6,1254.6 808.6,1254.6 810.6,1254.6 812.6,1254.6 814.6,1254.6 816.6,1254.6 818.6,1254.6 820.6,1254.6 822.6,1254.6 824.6,1254.6 826.6,1254.6 828.6,1254.6 830.6,1254.6 832.6,1254.6 834.6,1254.6 836.6,1254.6 838.6,1254.6 840.6,1254.6 842.6,1254.5 844.6,1254.5 846.6,1254.5 848.6,1254.5 850.6,1254.5 852.6,1254.5 854.6,1254.5 856.6,1254.4 858.6,1254.4 860.6,1254.4 862.6,1254.3 864.6,1254.3 866.6,1254.2 868.6,1254.2 870.6,1254.1 872.6,1254.0 874.6,1253.9 876.6,1253.8 878.6,1253.6 880.6,1253.4 882.6,1253.2 884.6,1253.0 886.6,1252.7 888.6,1252.4 890.6,1252.1 892.6,1251.6 894.6,1251.2 896.6,1250.6 898.6,1250.0 900.6,1249.3 902.6,1248.5 904.6,1247.6 906.6,1246.6 908.6,1245.5 910.6,1244.3 912.6,1242.9 914.6,1241.3 916.6,1239.6 918.6,1237.7 920.6,1235.6 922.6,1233.3 924.6,1230.7 926.6,1227.9 928.6,1224.8 930.6,1221.5 932.6,1217.8 934.6,1213.8 936.6,1209.5 938.6,1204.8 940.6,1199.7 942.6,1194.3 944.6,1188.6 946.6,1182.5 948.6,1176.2 950.6,1169.6 952.6,1162.7 954.6,1155.8 956.6,1148.7 958.6,1141.5 960.6,1134.3 962.6,1127.1 964.6,1119.9 966.6,1112.7 968.6,1105.6 970.6,1098.5 972.6,1091.6 974.6,1084.7 976.6,1078.0 978.6,1071.5 980.6,1065.2 982.6,1059.2 984.6,1053.4 986.6,1047.9 988.6,1042.8 990.6,1038.0 992.6,1033.7 994.6,1029.7 996.6,1026.2 998.6,1023.2 1000.6,1020.7 1002.6,1018.6 1004.6,1017.1 1006.6,1016.2 1008.6,1015.7 1009.2,1015.7 1011.2,1016.2 1013.2,1017.0 1015.2,1018.1 1017.2,1019.4 1019.2,1020.7 1021.2,1022.5 1023.2,1024.9 1025.2,1027.6 1027.2,1030.4 1029.2,1033.4 1031.2,1036.2 1033.2,1039.0 1035.2,1042.0 1037.2,1045.0 1039.2,1048.0 1041.2,1050.8 1043.2,1053.5 1045.2,1056.1 1047.2,1058.7 1049.2,1061.3 1051.2,1064.0 1053.2,1066.7 1055.2,1069.5 1057.2,1072.3 1059.2,1074.9 1061.2,1077.3 1063.2,1079.6 1065.2,1081.8 1067.2,1083.9 1069.2,1086.0 1071.2,1088.1 1073.2,1090.1 1075.2,1092.2 1077.2,1094.3 1079.2,1096.2 1081.2,1098.1 1083.2,1099.7 1085.2,1101.1 1087.2,1102.5 1089.2,1103.7 1091.2,1104.9 1093.2,1105.9 1095.2,1106.7 1097.2,1107.4 1099.2,1108.0 1101.2,1108.6 1103.2,1109.1 1105.2,1109.2 1107.2,1109.2 1109.2,1109.0 1111.2,1108.6 1113.2,1108.2 1115.2,1107.7 1117.2,1106.7 1119.2,1105.5 1121.2,1104.2 1123.2,1102.8 1125.2,1101.4 1127.2,1099.8 1129.2,1098.1 1131.2,1096.3 1133.2,1094.3 1135.2,1092.3 1137.2,1090.0 1139.2,1087.5 1141.2,1084.8 1143.2,1082.2 1145.2,1079.6 1147.2,1077.3 1149.2,1075.2 1151.2,1073.2 1153.2,1071.2 1155.2,1069.4 1157.2,1067.6 1159.2,1065.8 1161.2,1064.0 1163.2,1062.1 1165.2,1060.3 1167.2,1058.3 1169.2,1056.4 1171.2,1054.4 1173.2,1052.4 1175.2,1050.4 1177.2,1048.3 1179.2,1046.3 1181.2,1044.2 1183.2,1042.2 1185.2,1040.1 1185.3,1040.0" fill="none" stroke="#0a0a0a" stroke-width="1.5" stroke-dasharray="3 7" stroke-linejoin="round"/>
</g>
<g id="c0">
<line x1="30.6" y1="1316.2" x2="1156.3" y2="1316.2" stroke="#b0b8a8" stroke-width="1.6" />
<polygon points="30.6,1316.2 30.6,1289.7 32.6,1290.8 34.6,1291.9 36.6,1292.9 38.6,1293.9 40.6,1294.9 42.6,1295.8 44.6,1296.7 46.6,1297.6 48.6,1298.4 50.6,1299.2 52.6,1299.8 54.6,1300.3 56.6,1300.8 58.6,1301.3 60.6,1301.8 62.6,1302.2 64.6,1302.7 66.6,1303.1 68.6,1303.4 70.6,1303.8 72.6,1304.2 74.6,1304.5 76.6,1304.9 78.6,1305.2 80.6,1305.5 82.6,1305.9 84.6,1306.2 86.6,1306.5 88.6,1306.9 90.6,1307.2 92.6,1307.5 94.6,1307.8 96.6,1308.1 98.6,1308.4 100.6,1308.7 102.6,1309.0 104.6,1309.2 106.6,1309.5 108.6,1309.7 110.6,1310.0 112.6,1310.2 114.6,1310.4 116.6,1310.6 118.6,1310.7 120.6,1310.9 122.6,1311.1 124.6,1311.2 126.6,1311.4 128.6,1311.5 130.6,1311.7 132.6,1311.9 134.6,1312.0 136.6,1312.1 138.6,1312.3 140.6,1312.4 142.6,1312.6 144.6,1312.7 146.6,1312.8 148.6,1312.9 150.6,1313.0 152.6,1313.2 154.6,1313.3 156.6,1313.4 158.6,1313.4 160.6,1313.5 162.6,1313.6 164.6,1313.7 166.6,1313.8 168.6,1313.8 170.6,1313.9 172.6,1313.9 174.6,1314.0 176.6,1314.0 178.6,1314.0 180.6,1314.1 182.6,1314.1 184.6,1314.1 186.6,1314.2 188.6,1314.2 190.6,1314.2 192.6,1314.3 194.6,1314.3 196.6,1314.3 198.6,1314.4 200.6,1314.4 202.6,1314.4 204.6,1314.5 206.6,1314.5 208.6,1314.5 210.6,1314.6 212.6,1314.6 214.6,1314.6 216.6,1314.6 218.6,1314.7 220.6,1314.7 222.6,1314.7 224.6,1314.7 226.6,1314.8 228.6,1314.8 230.6,1314.8 232.6,1314.8 234.6,1314.8 236.6,1314.9 238.6,1314.9 240.6,1314.9 242.6,1314.9 244.6,1314.9 246.6,1315.0 248.6,1315.0 250.6,1315.0 252.6,1315.0 254.6,1315.0 256.6,1315.0 258.6,1315.1 260.6,1315.1 262.6,1315.1 264.6,1315.1 266.6,1315.1 268.6,1315.1 270.6,1315.1 272.6,1315.1 274.6,1315.2 276.6,1315.2 278.6,1315.2 280.6,1315.2 282.6,1315.2 284.6,1315.2 286.6,1315.2 288.6,1315.2 290.6,1315.2 292.6,1315.2 294.6,1315.2 296.6,1315.2 298.6,1315.2 300.6,1315.3 302.6,1315.3 304.6,1315.3 306.6,1315.3 308.6,1315.3 310.6,1315.3 312.6,1315.3 314.6,1315.3 316.6,1315.3 318.6,1315.3 320.6,1315.3 322.6,1315.3 324.6,1315.3 326.6,1315.3 328.6,1315.3 330.6,1315.3 332.6,1315.3 334.6,1315.3 336.6,1315.3 338.6,1315.3 340.6,1315.3 342.6,1315.3 344.6,1315.3 346.6,1315.4 348.6,1315.4 350.6,1315.4 352.6,1315.4 354.6,1315.4 356.6,1315.4 358.6,1315.4 360.6,1315.4 362.6,1315.4 364.6,1315.4 366.6,1315.4 368.6,1315.4 370.6,1315.4 372.6,1315.4 374.6,1315.4 376.6,1315.4 378.6,1315.4 380.6,1315.4 382.6,1315.4 384.6,1315.4 386.6,1315.4 388.6,1315.4 390.6,1315.4 392.6,1315.4 394.6,1315.4 396.6,1315.4 398.6,1315.4 400.6,1315.4 402.6,1315.4 404.6,1315.4 406.6,1315.4 408.6,1315.4 410.6,1315.4 412.6,1315.4 414.6,1315.5 416.6,1315.5 418.6,1315.5 420.6,1315.5 422.6,1315.5 424.6,1315.5 426.6,1315.5 428.6,1315.5 430.6,1315.5 432.6,1315.5 434.6,1315.5 436.6,1315.5 438.6,1315.5 440.6,1315.5 442.6,1315.5 444.6,1315.5 446.6,1315.5 448.6,1315.5 450.6,1315.5 452.6,1315.5 454.6,1315.5 456.6,1315.5 458.6,1315.5 460.6,1315.5 462.6,1315.5 464.6,1315.5 466.6,1315.5 468.6,1315.5 470.6,1315.5 472.6,1315.5 474.6,1315.5 476.6,1315.5 478.6,1315.5 480.6,1315.5 482.6,1315.5 484.6,1315.5 486.6,1315.5 488.6,1315.5 490.6,1315.5 492.6,1315.5 494.6,1315.5 496.6,1315.5 498.6,1315.5 500.6,1315.5 502.6,1315.5 504.6,1315.5 506.6,1315.5 508.6,1315.5 510.6,1315.5 512.6,1315.5 514.6,1315.5 516.6,1315.5 518.6,1315.5 520.6,1315.5 522.6,1315.6 524.6,1315.6 526.6,1315.6 528.6,1315.6 530.6,1315.6 532.6,1315.6 534.6,1315.6 536.6,1315.6 538.6,1315.6 540.6,1315.6 542.6,1315.6 544.6,1315.6 546.6,1315.6 548.6,1315.6 550.6,1315.6 552.6,1315.6 554.6,1315.6 556.6,1315.6 558.6,1315.6 560.6,1315.6 562.6,1315.6 564.6,1315.6 566.6,1315.6 568.6,1315.6 570.6,1315.6 572.6,1315.6 574.6,1315.6 576.6,1315.6 578.6,1315.6 580.6,1315.6 582.6,1315.6 584.6,1315.6 586.6,1315.6 588.6,1315.6 590.6,1315.6 592.6,1315.6 594.6,1315.6 596.6,1315.6 598.6,1315.6 600.6,1315.6 602.6,1315.6 604.6,1315.6 606.6,1315.6 608.6,1315.6 610.6,1315.6 612.6,1315.6 614.6,1315.6 616.6,1315.6 618.6,1315.6 620.6,1315.7 622.6,1315.7 624.6,1315.7 626.6,1315.7 628.6,1315.7 630.6,1315.7 632.6,1315.7 634.6,1315.7 636.6,1315.7 638.6,1315.7 640.6,1315.7 642.6,1315.7 644.6,1315.7 646.6,1315.7 648.6,1315.7 650.6,1315.7 652.6,1315.7 654.6,1315.7 656.6,1315.7 658.6,1315.7 660.6,1315.7 662.6,1315.7 664.6,1315.7 666.6,1315.7 668.6,1315.7 670.6,1315.7 672.6,1315.7 674.6,1315.7 676.6,1315.7 678.6,1315.7 680.6,1315.7 682.6,1315.7 684.6,1315.7 686.6,1315.7 688.6,1315.7 690.6,1315.8 692.6,1315.8 694.6,1315.8 696.6,1315.8 698.6,1315.8 700.6,1315.8 702.6,1315.8 704.6,1315.8 706.6,1315.8 708.6,1315.8 710.6,1315.8 712.6,1315.8 714.6,1315.8 716.6,1315.8 718.6,1315.8 720.6,1315.8 722.6,1315.8 724.6,1315.8 726.6,1315.8 728.6,1315.8 730.6,1315.8 732.6,1315.8 734.6,1315.8 736.6,1315.8 738.6,1315.8 740.6,1315.8 742.6,1315.8 744.6,1315.8 746.6,1315.8 748.6,1315.8 750.6,1315.8 752.6,1315.8 754.6,1315.8 756.6,1315.8 758.6,1315.8 760.6,1315.8 762.6,1315.8 764.6,1315.8 766.6,1315.9 768.6,1315.9 770.6,1315.9 772.6,1315.9 774.6,1315.9 776.6,1315.9 778.6,1315.9 780.6,1315.9 782.6,1315.9 784.6,1315.9 786.6,1315.9 788.6,1315.9 790.6,1315.9 792.6,1315.9 794.6,1315.9 796.6,1315.9 798.6,1315.9 800.6,1315.9 802.6,1315.9 804.6,1315.9 806.6,1315.9 808.6,1315.9 810.6,1315.9 812.6,1315.9 814.6,1315.9 816.6,1315.9 818.6,1315.8 820.6,1315.8 822.6,1315.8 824.6,1315.8 826.6,1315.8 828.6,1315.8 830.6,1315.7 832.6,1315.7 834.6,1315.7 836.6,1315.6 838.6,1315.6 840.6,1315.5 842.6,1315.4 844.6,1315.3 846.6,1315.2 848.6,1315.1 850.6,1314.9 852.6,1314.8 854.6,1314.6 856.6,1314.4 858.6,1314.1 860.6,1313.8 862.6,1313.5 864.6,1313.1 866.6,1312.6 868.6,1312.1 870.6,1311.5 872.6,1310.9 874.6,1310.2 876.6,1309.4 878.6,1308.5 880.6,1307.5 882.6,1306.3 884.6,1305.1 886.6,1303.7 888.6,1302.2 890.6,1300.5 892.6,1298.7 894.6,1296.6 896.6,1294.4 898.6,1292.0 900.6,1289.3 902.6,1286.4 904.6,1283.3 906.6,1279.9 908.6,1276.2 910.6,1272.3 912.6,1268.1 914.6,1263.7 916.6,1259.1 918.6,1254.3 920.6,1249.3 922.6,1244.2 924.6,1239.1 926.6,1233.9 928.6,1228.6 930.6,1223.3 932.6,1218.1 934.6,1212.8 936.6,1207.6 938.6,1202.4 940.6,1197.3 942.6,1192.3 944.6,1187.4 946.6,1182.7 948.6,1178.0 950.6,1173.6 952.6,1169.4 954.6,1165.3 956.6,1161.6 958.6,1158.0 960.6,1154.8 962.6,1151.9 964.6,1149.3 966.6,1147.1 968.6,1145.2 970.6,1143.7 972.6,1142.5 974.6,1141.8 976.6,1141.4 977.4,1141.4 979.4,1141.5 981.4,1141.7 983.4,1142.0 985.4,1142.3 987.4,1142.8 989.4,1143.3 991.4,1143.9 993.4,1144.4 995.4,1145.2 997.4,1146.2 999.4,1147.5 1001.4,1148.9 1003.4,1150.5 1005.4,1152.1 1007.4,1153.8 1009.4,1155.5 1011.4,1157.1 1013.4,1158.6 1015.4,1160.0 1017.4,1161.2 1019.4,1162.4 1021.4,1163.6 1023.4,1164.8 1025.4,1165.9 1027.4,1167.1 1029.4,1168.2 1031.4,1169.3 1033.4,1170.4 1035.4,1171.6 1037.4,1172.7 1039.4,1174.0 1041.4,1175.4 1043.4,1176.8 1045.4,1178.1 1047.4,1179.0 1049.4,1179.6 1051.4,1180.0 1053.4,1180.3 1055.4,1180.6 1057.4,1180.8 1059.4,1181.0 1061.4,1181.0 1063.4,1180.8 1065.4,1180.5 1067.4,1179.9 1069.4,1179.3 1071.4,1178.5 1073.4,1177.7 1075.4,1176.8 1077.4,1176.0 1079.4,1175.0 1081.4,1173.8 1083.4,1172.4 1085.4,1170.9 1087.4,1169.3 1089.4,1167.6 1091.4,1165.9 1093.4,1164.1 1095.4,1162.2 1097.4,1160.2 1099.4,1158.0 1101.4,1155.7 1103.4,1153.4 1105.4,1151.1 1107.4,1148.8 1109.4,1146.5 1111.4,1144.1 1113.4,1141.7 1115.4,1139.3 1117.4,1136.8 1119.4,1134.4 1121.4,1131.9 1123.4,1129.5 1125.4,1127.1 1127.4,1124.7 1129.4,1122.4 1131.4,1120.1 1133.4,1117.8 1135.4,1115.5 1137.4,1113.3 1139.4,1111.0 1141.4,1108.8 1143.4,1106.6 1145.4,1104.4 1147.4,1102.2 1149.4,1100.0 1151.4,1097.8 1153.4,1095.7 1155.3,1093.7 1155.3,1316.2" fill="url(#g0)" fill-opacity="0.5" stroke="none"/>
<polyline points="30.6,1289.7 32.6,1290.8 34.6,1291.9 36.6,1292.9 38.6,1293.9 40.6,1294.9 42.6,1295.8 44.6,1296.7 46.6,1297.6 48.6,1298.4 50.6,1299.2 52.6,1299.8 54.6,1300.3 56.6,1300.8 58.6,1301.3 60.6,1301.8 62.6,1302.2 64.6,1302.7 66.6,1303.1 68.6,1303.4 70.6,1303.8 72.6,1304.2 74.6,1304.5 76.6,1304.9 78.6,1305.2 80.6,1305.5 82.6,1305.9 84.6,1306.2 86.6,1306.5 88.6,1306.9 90.6,1307.2 92.6,1307.5 94.6,1307.8 96.6,1308.1 98.6,1308.4 100.6,1308.7 102.6,1309.0 104.6,1309.2 106.6,1309.5 108.6,1309.7 110.6,1310.0 112.6,1310.2 114.6,1310.4 116.6,1310.6 118.6,1310.7 120.6,1310.9 122.6,1311.1 124.6,1311.2 126.6,1311.4 128.6,1311.5 130.6,1311.7 132.6,1311.9 134.6,1312.0 136.6,1312.1 138.6,1312.3 140.6,1312.4 142.6,1312.6 144.6,1312.7 146.6,1312.8 148.6,1312.9 150.6,1313.0 152.6,1313.2 154.6,1313.3 156.6,1313.4 158.6,1313.4 160.6,1313.5 162.6,1313.6 164.6,1313.7 166.6,1313.8 168.6,1313.8 170.6,1313.9 172.6,1313.9 174.6,1314.0 176.6,1314.0 178.6,1314.0 180.6,1314.1 182.6,1314.1 184.6,1314.1 186.6,1314.2 188.6,1314.2 190.6,1314.2 192.6,1314.3 194.6,1314.3 196.6,1314.3 198.6,1314.4 200.6,1314.4 202.6,1314.4 204.6,1314.5 206.6,1314.5 208.6,1314.5 210.6,1314.6 212.6,1314.6 214.6,1314.6 216.6,1314.6 218.6,1314.7 220.6,1314.7 222.6,1314.7 224.6,1314.7 226.6,1314.8 228.6,1314.8 230.6,1314.8 232.6,1314.8 234.6,1314.8 236.6,1314.9 238.6,1314.9 240.6,1314.9 242.6,1314.9 244.6,1314.9 246.6,1315.0 248.6,1315.0 250.6,1315.0 252.6,1315.0 254.6,1315.0 256.6,1315.0 258.6,1315.1 260.6,1315.1 262.6,1315.1 264.6,1315.1 266.6,1315.1 268.6,1315.1 270.6,1315.1 272.6,1315.1 274.6,1315.2 276.6,1315.2 278.6,1315.2 280.6,1315.2 282.6,1315.2 284.6,1315.2 286.6,1315.2 288.6,1315.2 290.6,1315.2 292.6,1315.2 294.6,1315.2 296.6,1315.2 298.6,1315.2 300.6,1315.3 302.6,1315.3 304.6,1315.3 306.6,1315.3 308.6,1315.3 310.6,1315.3 312.6,1315.3 314.6,1315.3 316.6,1315.3 318.6,1315.3 320.6,1315.3 322.6,1315.3 324.6,1315.3 326.6,1315.3 328.6,1315.3 330.6,1315.3 332.6,1315.3 334.6,1315.3 336.6,1315.3 338.6,1315.3 340.6,1315.3 342.6,1315.3 344.6,1315.3 346.6,1315.4 348.6,1315.4 350.6,1315.4 352.6,1315.4 354.6,1315.4 356.6,1315.4 358.6,1315.4 360.6,1315.4 362.6,1315.4 364.6,1315.4 366.6,1315.4 368.6,1315.4 370.6,1315.4 372.6,1315.4 374.6,1315.4 376.6,1315.4 378.6,1315.4 380.6,1315.4 382.6,1315.4 384.6,1315.4 386.6,1315.4 388.6,1315.4 390.6,1315.4 392.6,1315.4 394.6,1315.4 396.6,1315.4 398.6,1315.4 400.6,1315.4 402.6,1315.4 404.6,1315.4 406.6,1315.4 408.6,1315.4 410.6,1315.4 412.6,1315.4 414.6,1315.5 416.6,1315.5 418.6,1315.5 420.6,1315.5 422.6,1315.5 424.6,1315.5 426.6,1315.5 428.6,1315.5 430.6,1315.5 432.6,1315.5 434.6,1315.5 436.6,1315.5 438.6,1315.5 440.6,1315.5 442.6,1315.5 444.6,1315.5 446.6,1315.5 448.6,1315.5 450.6,1315.5 452.6,1315.5 454.6,1315.5 456.6,1315.5 458.6,1315.5 460.6,1315.5 462.6,1315.5 464.6,1315.5 466.6,1315.5 468.6,1315.5 470.6,1315.5 472.6,1315.5 474.6,1315.5 476.6,1315.5 478.6,1315.5 480.6,1315.5 482.6,1315.5 484.6,1315.5 486.6,1315.5 488.6,1315.5 490.6,1315.5 492.6,1315.5 494.6,1315.5 496.6,1315.5 498.6,1315.5 500.6,1315.5 502.6,1315.5 504.6,1315.5 506.6,1315.5 508.6,1315.5 510.6,1315.5 512.6,1315.5 514.6,1315.5 516.6,1315.5 518.6,1315.5 520.6,1315.5 522.6,1315.6 524.6,1315.6 526.6,1315.6 528.6,1315.6 530.6,1315.6 532.6,1315.6 534.6,1315.6 536.6,1315.6 538.6,1315.6 540.6,1315.6 542.6,1315.6 544.6,1315.6 546.6,1315.6 548.6,1315.6 550.6,1315.6 552.6,1315.6 554.6,1315.6 556.6,1315.6 558.6,1315.6 560.6,1315.6 562.6,1315.6 564.6,1315.6 566.6,1315.6 568.6,1315.6 570.6,1315.6 572.6,1315.6 574.6,1315.6 576.6,1315.6 578.6,1315.6 580.6,1315.6 582.6,1315.6 584.6,1315.6 586.6,1315.6 588.6,1315.6 590.6,1315.6 592.6,1315.6 594.6,1315.6 596.6,1315.6 598.6,1315.6 600.6,1315.6 602.6,1315.6 604.6,1315.6 606.6,1315.6 608.6,1315.6 610.6,1315.6 612.6,1315.6 614.6,1315.6 616.6,1315.6 618.6,1315.6 620.6,1315.7 622.6,1315.7 624.6,1315.7 626.6,1315.7 628.6,1315.7 630.6,1315.7 632.6,1315.7 634.6,1315.7 636.6,1315.7 638.6,1315.7 640.6,1315.7 642.6,1315.7 644.6,1315.7 646.6,1315.7 648.6,1315.7 650.6,1315.7 652.6,1315.7 654.6,1315.7 656.6,1315.7 658.6,1315.7 660.6,1315.7 662.6,1315.7 664.6,1315.7 666.6,1315.7 668.6,1315.7 670.6,1315.7 672.6,1315.7 674.6,1315.7 676.6,1315.7 678.6,1315.7 680.6,1315.7 682.6,1315.7 684.6,1315.7 686.6,1315.7 688.6,1315.7 690.6,1315.8 692.6,1315.8 694.6,1315.8 696.6,1315.8 698.6,1315.8 700.6,1315.8 702.6,1315.8 704.6,1315.8 706.6,1315.8 708.6,1315.8 710.6,1315.8 712.6,1315.8 714.6,1315.8 716.6,1315.8 718.6,1315.8 720.6,1315.8 722.6,1315.8 724.6,1315.8 726.6,1315.8 728.6,1315.8 730.6,1315.8 732.6,1315.8 734.6,1315.8 736.6,1315.8 738.6,1315.8 740.6,1315.8 742.6,1315.8 744.6,1315.8 746.6,1315.8 748.6,1315.8 750.6,1315.8 752.6,1315.8 754.6,1315.8 756.6,1315.8 758.6,1315.8 760.6,1315.8 762.6,1315.8 764.6,1315.8 766.6,1315.9 768.6,1315.9 770.6,1315.9 772.6,1315.9 774.6,1315.9 776.6,1315.9 778.6,1315.9 780.6,1315.9 782.6,1315.9 784.6,1315.9 786.6,1315.9 788.6,1315.9 790.6,1315.9 792.6,1315.9 794.6,1315.9 796.6,1315.9 798.6,1315.9 800.6,1315.9 802.6,1315.9 804.6,1315.9 806.6,1315.9 808.6,1315.9 810.6,1315.9 812.6,1315.9 814.6,1315.9 816.6,1315.9 818.6,1315.8 820.6,1315.8 822.6,1315.8 824.6,1315.8 826.6,1315.8 828.6,1315.8 830.6,1315.7 832.6,1315.7 834.6,1315.7 836.6,1315.6 838.6,1315.6 840.6,1315.5 842.6,1315.4 844.6,1315.3 846.6,1315.2 848.6,1315.1 850.6,1314.9 852.6,1314.8 854.6,1314.6 856.6,1314.4 858.6,1314.1 860.6,1313.8 862.6,1313.5 864.6,1313.1 866.6,1312.6 868.6,1312.1 870.6,1311.5 872.6,1310.9 874.6,1310.2 876.6,1309.4 878.6,1308.5 880.6,1307.5 882.6,1306.3 884.6,1305.1 886.6,1303.7 888.6,1302.2 890.6,1300.5 892.6,1298.7 894.6,1296.6 896.6,1294.4 898.6,1292.0 900.6,1289.3 902.6,1286.4 904.6,1283.3 906.6,1279.9 908.6,1276.2 910.6,1272.3 912.6,1268.1 914.6,1263.7 916.6,1259.1 918.6,1254.3 920.6,1249.3 922.6,1244.2 924.6,1239.1 926.6,1233.9 928.6,1228.6 930.6,1223.3 932.6,1218.1 934.6,1212.8 936.6,1207.6 938.6,1202.4 940.6,1197.3 942.6,1192.3 944.6,1187.4 946.6,1182.7 948.6,1178.0 950.6,1173.6 952.6,1169.4 954.6,1165.3 956.6,1161.6 958.6,1158.0 960.6,1154.8 962.6,1151.9 964.6,1149.3 966.6,1147.1 968.6,1145.2 970.6,1143.7 972.6,1142.5 974.6,1141.8 976.6,1141.4 977.4,1141.4 979.4,1141.5 981.4,1141.7 983.4,1142.0 985.4,1142.3 987.4,1142.8 989.4,1143.3 991.4,1143.9 993.4,1144.4 995.4,1145.2 997.4,1146.2 999.4,1147.5 1001.4,1148.9 1003.4,1150.5 1005.4,1152.1 1007.4,1153.8 1009.4,1155.5 1011.4,1157.1 1013.4,1158.6 1015.4,1160.0 1017.4,1161.2 1019.4,1162.4 1021.4,1163.6 1023.4,1164.8 1025.4,1165.9 1027.4,1167.1 1029.4,1168.2 1031.4,1169.3 1033.4,1170.4 1035.4,1171.6 1037.4,1172.7 1039.4,1174.0 1041.4,1175.4 1043.4,1176.8 1045.4,1178.1 1047.4,1179.0 1049.4,1179.6 1051.4,1180.0 1053.4,1180.3 1055.4,1180.6 1057.4,1180.8 1059.4,1181.0 1061.4,1181.0 1063.4,1180.8 1065.4,1180.5 1067.4,1179.9 1069.4,1179.3 1071.4,1178.5 1073.4,1177.7 1075.4,1176.8 1077.4,1176.0 1079.4,1175.0 1081.4,1173.8 1083.4,1172.4 1085.4,1170.9 1087.4,1169.3 1089.4,1167.6 1091.4,1165.9 1093.4,1164.1 1095.4,1162.2 1097.4,1160.2 1099.4,1158.0 1101.4,1155.7 1103.4,1153.4 1105.4,1151.1 1107.4,1148.8 1109.4,1146.5 1111.4,1144.1 1113.4,1141.7 1115.4,1139.3 1117.4,1136.8 1119.4,1134.4 1121.4,1131.9 1123.4,1129.5 1125.4,1127.1 1127.4,1124.7 1129.4,1122.4 1131.4,1120.1 1133.4,1117.8 1135.4,1115.5 1137.4,1113.3 1139.4,1111.0 1141.4,1108.8 1143.4,1106.6 1145.4,1104.4 1147.4,1102.2 1149.4,1100.0 1151.4,1097.8 1153.4,1095.7 1155.3,1093.7" fill="none" stroke="#0a0a0a" stroke-width="1.5" stroke-dasharray="3 7" stroke-linejoin="round"/>
</g>
</g>
<g id="axes" stroke="#000" fill="none" stroke-linecap="butt">
<line x1="15.0" y1="642.5" x2="15.0" y2="1344.7" stroke="#000" stroke-width="2.8" />
<line x1="13.6" y1="1343.4" x2="1142.0" y2="1343.4" stroke="#000" stroke-width="2.8" />
<line x1="15.2" y1="643.6" x2="375.7" y2="16.1" stroke="#000" stroke-width="1.9" />
<line x1="374.2" y1="15.5" x2="1501.3" y2="15.5" stroke="#000" stroke-width="3" />
<line x1="1499.6" y1="14.2" x2="1499.6" y2="720.5" stroke="#000" stroke-width="2.5" />
<line x1="1141.3" y1="1342.5" x2="1499.6" y2="719.5" stroke="#000" stroke-width="1.9" />
<line x1="28.3" y1="1344.0" x2="28.3" y2="1350.5" stroke="#000" stroke-width="2.1" />
<line x1="53.5" y1="1344.0" x2="53.5" y2="1350.5" stroke="#000" stroke-width="2.1" />
<line x1="78.8" y1="1344.0" x2="78.8" y2="1350.5" stroke="#000" stroke-width="2.1" />
<line x1="104.0" y1="1344.0" x2="104.0" y2="1350.5" stroke="#000" stroke-width="2.1" />
<line x1="129.3" y1="1344.0" x2="129.3" y2="1357.5" stroke="#000" stroke-width="2.4" />
<line x1="154.6" y1="1344.0" x2="154.6" y2="1350.5" stroke="#000" stroke-width="2.1" />
<line x1="179.8" y1="1344.0" x2="179.8" y2="1350.5" stroke="#000" stroke-width="2.1" />
<line x1="205.1" y1="1344.0" x2="205.1" y2="1350.5" stroke="#000" stroke-width="2.1" />
<line x1="230.3" y1="1344.0" x2="230.3" y2="1350.5" stroke="#000" stroke-width="2.1" />
<line x1="255.6" y1="1344.0" x2="255.6" y2="1357.5" stroke="#000" stroke-width="2.4" />
<line x1="280.9" y1="1344.0" x2="280.9" y2="1350.5" stroke="#000" stroke-width="2.1" />
<line x1="306.1" y1="1344.0" x2="306.1" y2="1350.5" stroke="#000" stroke-width="2.1" />
<line x1="331.4" y1="1344.0" x2="331.4" y2="1350.5" stroke="#000" stroke-width="2.1" />
<line x1="356.6" y1="1344.0" x2="356.6" y2="1350.5" stroke="#000" stroke-width="2.1" />
<line x1="381.9" y1="1344.0" x2="381.9" y2="1357.5" stroke="#000" stroke-width="2.4" />
<line x1="407.2" y1="1344.0" x2="407.2" y2="1350.5" stroke="#000" stroke-width="2.1" />
<line x1="432.4" y1="1344.0" x2="432.4" y2="1350.5" stroke="#000" stroke-width="2.1" />
<line x1="457.7" y1="1344.0" x2="457.7" y2="1350.5" stroke="#000" stroke-width="2.1" />
<line x1="482.9" y1="1344.0" x2="482.9" y2="1350.5" stroke="#000" stroke-width="2.1" />
<line x1="508.2" y1="1344.0" x2="508.2" y2="1357.5" stroke="#000" stroke-width="2.4" />
<line x1="533.5" y1="1344.0" x2="533.5" y2="1350.5" stroke="#000" stroke-width="2.1" />
<line x1="558.7" y1="1344.0" x2="558.7" y2="1350.5" stroke="#000" stroke-width="2.1" />
<line x1="584.0" y1="1344.0" x2="584.0" y2="1350.5" stroke="#000" stroke-width="2.1" />
<line x1="609.2" y1="1344.0" x2="609.2" y2="1350.5" stroke="#000" stroke-width="2.1" />
<line x1="634.5" y1="1344.0" x2="634.5" y2="1357.5" stroke="#000" stroke-width="2.4" />
<line x1="659.8" y1="1344.0" x2="659.8" y2="1350.5" stroke="#000" stroke-width="2.1" />
<line x1="685.0" y1="1344.0" x2="685.0" y2="1350.5" stroke="#000" stroke-width="2.1" />
<line x1="710.3" y1="1344.0" x2="710.3" y2="1350.5" stroke="#000" stroke-width="2.1" />
<line x1="735.5" y1="1344.0" x2="735.5" y2="1350.5" stroke="#000" stroke-width="2.1" />
<line x1="760.8" y1="1344.0" x2="760.8" y2="1357.5" stroke="#000" stroke-width="2.4" />
<line x1="786.1" y1="1344.0" x2="786.1" y2="1350.5" stroke="#000" stroke-width="2.1" />
<line x1="811.3" y1="1344.0" x2="811.3" y2="1350.5" stroke="#000" stroke-width="2.1" />
<line x1="836.6" y1="1344.0" x2="836.6" y2="1350.5" stroke="#000" stroke-width="2.1" />
<line x1="861.8" y1="1344.0" x2="861.8" y2="1350.5" stroke="#000" stroke-width="2.1" />
<line x1="887.1" y1="1344.0" x2="887.1" y2="1357.5" stroke="#000" stroke-width="2.4" />
<line x1="912.4" y1="1344.0" x2="912.4" y2="1350.5" stroke="#000" stroke-width="2.1" />
<line x1="937.6" y1="1344.0" x2="937.6" y2="1350.5" stroke="#000" stroke-width="2.1" />
<line x1="962.9" y1="1344.0" x2="962.9" y2="1350.5" stroke="#000" stroke-width="2.1" />
<line x1="988.1" y1="1344.0" x2="988.1" y2="1350.5" stroke="#000" stroke-width="2.1" />
<line x1="1013.4" y1="1344.0" x2="1013.4" y2="1357.5" stroke="#000" stroke-width="2.4" />
<line x1="1038.7" y1="1344.0" x2="1038.7" y2="1350.5" stroke="#000" stroke-width="2.1" />
<line x1="1063.9" y1="1344.0" x2="1063.9" y2="1350.5" stroke="#000" stroke-width="2.1" />
<line x1="1089.2" y1="1344.0" x2="1089.2" y2="1350.5" stroke="#000" stroke-width="2.1" />
<line x1="1114.4" y1="1344.0" x2="1114.4" y2="1350.5" stroke="#000" stroke-width="2.1" />
<line x1="1139.7" y1="1344.0" x2="1139.7" y2="1357.5" stroke="#000" stroke-width="2.4" />
<line x1="1500.0" y1="43.0" x2="1508.8" y2="43.0" stroke="#000" stroke-width="1.9" />
<line x1="1500.0" y1="71.0" x2="1508.8" y2="71.0" stroke="#000" stroke-width="1.9" />
<line x1="1500.0" y1="99.0" x2="1508.8" y2="99.0" stroke="#000" stroke-width="1.9" />
<line x1="1500.0" y1="127.0" x2="1508.8" y2="127.0" stroke="#000" stroke-width="1.9" />
<line x1="1500.0" y1="155.0" x2="1514.3" y2="155.0" stroke="#000" stroke-width="2.2" />
<line x1="1500.0" y1="183.0" x2="1508.8" y2="183.0" stroke="#000" stroke-width="1.9" />
<line x1="1500.0" y1="211.0" x2="1508.8" y2="211.0" stroke="#000" stroke-width="1.9" />
<line x1="1500.0" y1="239.0" x2="1508.8" y2="239.0" stroke="#000" stroke-width="1.9" />
<line x1="1500.0" y1="267.0" x2="1508.8" y2="267.0" stroke="#000" stroke-width="1.9" />
<line x1="1500.0" y1="295.0" x2="1514.3" y2="295.0" stroke="#000" stroke-width="2.2" />
<line x1="1500.0" y1="323.0" x2="1508.8" y2="323.0" stroke="#000" stroke-width="1.9" />
<line x1="1500.0" y1="351.0" x2="1508.8" y2="351.0" stroke="#000" stroke-width="1.9" />
<line x1="1500.0" y1="379.0" x2="1508.8" y2="379.0" stroke="#000" stroke-width="1.9" />
<line x1="1500.0" y1="407.0" x2="1508.8" y2="407.0" stroke="#000" stroke-width="1.9" />
<line x1="1500.0" y1="435.0" x2="1514.3" y2="435.0" stroke="#000" stroke-width="2.2" />
<line x1="1500.0" y1="463.0" x2="1508.8" y2="463.0" stroke="#000" stroke-width="1.9" />
<line x1="1500.0" y1="491.0" x2="1508.8" y2="491.0" stroke="#000" stroke-width="1.9" />
<line x1="1500.0" y1="519.0" x2="1508.8" y2="519.0" stroke="#000" stroke-width="1.9" />
<line x1="1500.0" y1="547.0" x2="1508.8" y2="547.0" stroke="#000" stroke-width="1.9" />
<line x1="1500.0" y1="575.0" x2="1514.3" y2="575.0" stroke="#000" stroke-width="2.2" />
<line x1="1500.0" y1="603.0" x2="1508.8" y2="603.0" stroke="#000" stroke-width="1.9" />
<line x1="1500.0" y1="631.0" x2="1508.8" y2="631.0" stroke="#000" stroke-width="1.9" />
<line x1="1500.0" y1="659.0" x2="1508.8" y2="659.0" stroke="#000" stroke-width="1.9" />
<line x1="1500.0" y1="687.0" x2="1508.8" y2="687.0" stroke="#000" stroke-width="1.9" />
<line x1="1156.2" y1="1315.8" x2="1170.2" y2="1315.8" stroke="#000" stroke-width="2" />
<line x1="1186.2" y1="1263.6" x2="1200.2" y2="1263.6" stroke="#000" stroke-width="2" />
<line x1="1216.2" y1="1211.4" x2="1230.2" y2="1211.4" stroke="#000" stroke-width="2" />
<line x1="1246.2" y1="1159.2" x2="1260.2" y2="1159.2" stroke="#000" stroke-width="2" />
<line x1="1276.2" y1="1107.0" x2="1290.2" y2="1107.0" stroke="#000" stroke-width="2" />
<line x1="1306.3" y1="1054.8" x2="1320.3" y2="1054.8" stroke="#000" stroke-width="2" />
<line x1="1336.3" y1="1002.6" x2="1350.3" y2="1002.6" stroke="#000" stroke-width="2" />
<line x1="1366.3" y1="950.4" x2="1380.3" y2="950.4" stroke="#000" stroke-width="2" />
<line x1="1396.3" y1="898.2" x2="1410.3" y2="898.2" stroke="#000" stroke-width="2" />
<line x1="1426.3" y1="846.0" x2="1440.3" y2="846.0" stroke="#000" stroke-width="2" />
<line x1="1456.4" y1="793.8" x2="1470.4" y2="793.8" stroke="#000" stroke-width="2" />
<line x1="1486.4" y1="741.6" x2="1500.4" y2="741.6" stroke="#000" stroke-width="2" />
</g>
<g id="labels" font-family='"Liberation Sans", sans-serif' fill="#000">
<text transform="translate(129.0,1404.3) scale(0.9637,1)" font-size="50.7" text-anchor="middle">260</text>
<text transform="translate(255.3,1404.3) scale(0.9637,1)" font-size="50.7" text-anchor="middle">280</text>
<text transform="translate(381.6,1404.3) scale(0.9637,1)" font-size="50.7" text-anchor="middle">300</text>
<text transform="translate(507.9,1404.3) scale(0.9637,1)" font-size="50.7" text-anchor="middle">320</text>
<text transform="translate(634.2,1404.3) scale(0.9637,1)" font-size="50.7" text-anchor="middle">340</text>
<text transform="translate(760.5,1404.3) scale(0.9637,1)" font-size="50.7" text-anchor="middle">360</text>
<text transform="translate(886.8,1404.3) scale(0.9637,1)" font-size="50.7" text-anchor="middle">380</text>
<text transform="translate(1013.1,1404.3) scale(0.9637,1)" font-size="50.7" text-anchor="middle">400</text>
<text transform="translate(1139.4,1404.3) scale(0.9637,1)" font-size="50.7" text-anchor="middle">420</text>
<text transform="translate(590.8,1486.0) scale(0.9637,1)" font-size="64.9" text-anchor="middle">Wavelength (nm)</text>
<text transform="translate(1581.8,360.5) rotate(-90) scale(0.9637,1)" font-size="64.3" text-anchor="middle">Intensity (a.u.)</text>
<text transform="translate(410.8,126.3) scale(0.9637,1)" font-size="85.6" text-anchor="start">SCMS:1%Pr<tspan font-size="58" dy="-34.3" dx="3">3+</tspan></text>
<text transform="translate(411.0,236.7) scale(0.9637,1)" font-size="65.0" text-anchor="start">Exc. 445 nm</text>
<text transform="matrix(1.025,0,-0.5157,0.9,1169.0,1330.6)" font-size="44">0.34</text>
<text transform="matrix(1.025,0,-0.5157,0.9,1198.9,1278.4)" font-size="44">0.66</text>
<text transform="matrix(1.025,0,-0.5157,0.9,1228.8,1226.2)" font-size="44">1.02</text>
<text transform="matrix(1.025,0,-0.5157,0.9,1258.7,1174.0)" font-size="44">1.31</text>
<text transform="matrix(1.025,0,-0.5157,0.9,1288.6,1121.8)" font-size="44">1.49</text>
<text transform="matrix(1.025,0,-0.5157,0.9,1318.5,1069.6)" font-size="44">1.59</text>
<text transform="matrix(1.025,0,-0.5157,0.9,1348.4,1017.4)" font-size="44">1.75</text>
<text transform="matrix(1.025,0,-0.5157,0.9,1378.3,965.2)" font-size="44">1.90</text>
<text transform="matrix(1.025,0,-0.5157,0.9,1408.2,913.0)" font-size="44">2.10</text>
<text transform="matrix(1.025,0,-0.5157,0.9,1438.1,860.8)" font-size="44">2.18</text>
<text transform="matrix(1.025,0,-0.5157,0.9,1468.0,808.6)" font-size="44">2.34</text>
<text transform="matrix(1.025,0,-0.5157,0.9,1497.9,756.4)" font-size="44">2.48</text>
<text transform="matrix(0.5515,-0.9625,1.1100,0,1437.2,1121.5)" font-size="40">Power (W)</text>
</g>
</svg>
</body></html>
